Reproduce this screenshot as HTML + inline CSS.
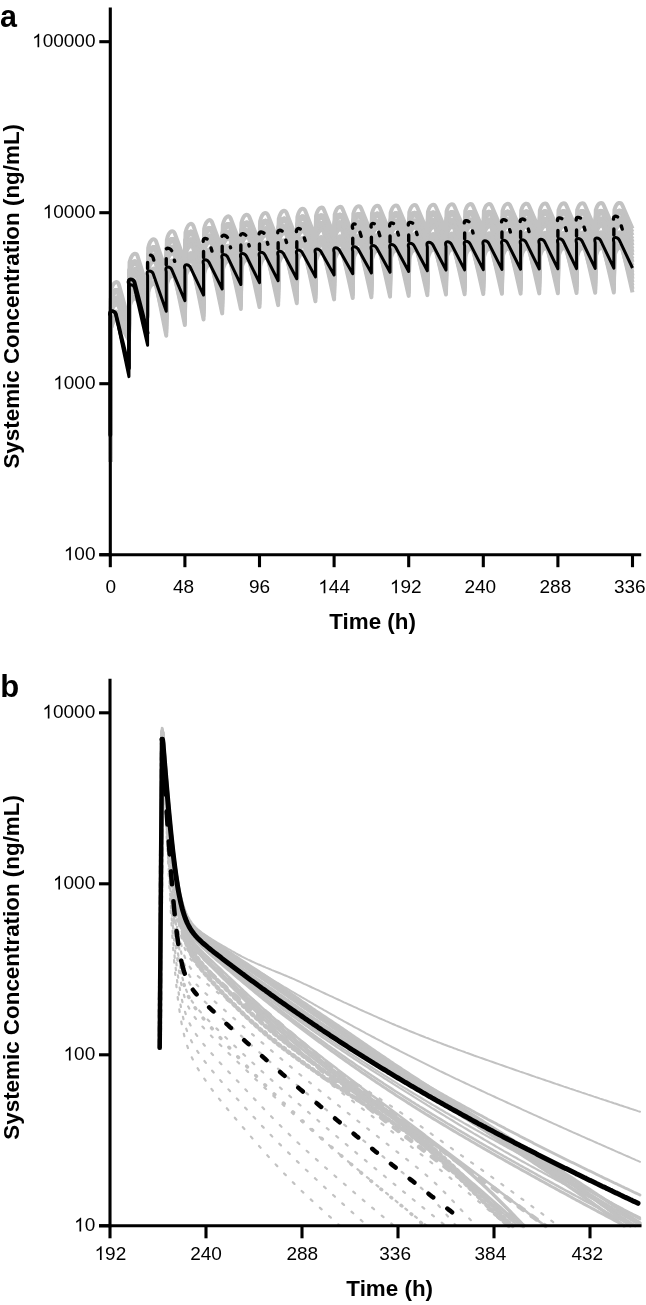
<!DOCTYPE html>
<html><head><meta charset="utf-8"><style>
html,body{margin:0;padding:0;background:#fff;width:646px;height:1305px;overflow:hidden;position:relative}
</style></head><body>
<svg width="646" height="1305" viewBox="0 0 646 1305" style="position:absolute;left:0;top:0;will-change:transform">
<rect width="646" height="1305" fill="#fff"/>
<path d="M110.30,461.66 L110.90,328.61 C113.40,317.61 117.34,319.49 118.80,322.11 L128.95,340.34 L129.55,305.03 C132.05,294.03 136.00,295.91 137.45,298.53 L147.60,316.86 L148.20,290.70 C150.70,279.70 155.52,281.25 156.10,284.20 L166.25,335.72 L166.85,282.60 C169.35,271.60 174.14,273.16 174.75,276.10 L184.90,325.04 L185.50,275.22 C188.00,264.22 192.81,265.78 193.40,268.72 L203.55,319.43 L204.15,271.50 C206.65,260.50 211.43,262.06 212.05,265.00 L222.20,313.38 L222.80,267.73 C225.30,256.73 230.08,258.30 230.70,261.23 L240.85,308.95 L241.45,266.22 C243.95,255.22 248.72,256.79 249.35,259.72 L259.50,307.04 L260.10,264.40 C262.60,253.40 267.37,254.97 268.00,257.90 L278.15,305.12 L278.75,262.25 C281.25,251.25 286.02,252.82 286.65,255.75 L296.80,303.20 L297.40,260.11 C299.90,249.11 304.68,250.68 305.30,253.61 L315.45,301.28 L316.05,259.12 C318.55,248.12 323.31,249.69 323.95,252.62 L334.10,299.36 L334.70,258.36 C337.20,247.36 341.96,248.93 342.60,251.86 L352.75,298.04 L353.35,257.66 C355.85,246.66 360.61,248.23 361.25,251.16 L371.40,297.32 L372.00,257.29 C374.50,246.29 379.25,247.86 379.90,250.79 L390.05,296.60 L390.65,256.93 C393.15,245.93 397.90,247.50 398.55,250.43 L408.70,295.88 L409.30,256.56 C411.80,245.56 416.54,247.13 417.20,250.06 L427.35,295.16 L427.95,256.20 C430.45,245.20 435.19,246.77 435.85,249.70 L446.00,294.44 L446.60,255.83 C449.10,244.83 453.84,246.40 454.50,249.33 L464.65,294.24 L465.25,255.63 C467.75,244.63 472.49,246.20 473.15,249.13 L483.30,294.03 L483.90,255.48 C486.40,244.48 491.14,246.05 491.80,248.98 L501.95,293.82 L502.55,255.33 C505.05,244.33 509.79,245.91 510.45,248.83 L520.60,293.62 L521.20,255.19 C523.70,244.19 528.44,245.76 529.10,248.69 L539.25,293.41 L539.85,255.04 C542.35,244.04 547.09,245.61 547.75,248.54 L557.90,293.21 L558.50,254.89 C561.00,243.89 565.73,245.47 566.40,248.39 L576.55,293.00 L577.15,254.74 C579.65,243.74 584.38,245.32 585.05,248.24 L595.20,292.79 L595.80,254.60 C598.30,243.60 603.03,245.17 603.70,248.10 L613.85,292.59 L614.45,254.45 C616.95,243.45 621.68,245.02 622.35,247.95 L632.50,292.38" fill="none" stroke="#c2c2c2" stroke-width="4" stroke-linejoin="round"/>
<path d="M110.30,461.66 L110.90,325.81 C113.40,314.81 117.46,316.63 118.80,319.31 L128.95,339.58 L129.55,297.33 C132.05,286.33 136.32,288.05 137.45,290.83 L147.60,315.69 L148.20,282.99 C150.70,271.99 155.56,273.54 156.10,276.49 L166.25,332.36 L166.85,274.90 C169.35,263.90 174.19,265.45 174.75,268.40 L184.90,321.68 L185.50,267.51 C188.00,256.51 192.86,258.06 193.40,261.01 L203.55,316.07 L204.15,263.80 C206.65,252.80 211.48,254.35 212.05,257.30 L222.20,310.02 L222.80,260.03 C225.30,249.03 230.13,250.58 230.70,253.53 L240.85,305.60 L241.45,258.52 C243.95,247.52 248.77,249.08 249.35,252.02 L259.50,303.68 L260.10,256.69 C262.60,245.69 267.42,247.25 268.00,250.19 L278.15,301.76 L278.75,254.55 C281.25,243.55 286.07,245.11 286.65,248.05 L296.80,299.84 L297.40,252.41 C299.90,241.41 304.73,242.96 305.30,245.91 L315.45,297.92 L316.05,251.42 C318.55,240.42 323.37,241.97 323.95,244.92 L334.10,296.01 L334.70,250.65 C337.20,239.65 342.01,241.21 342.60,244.15 L352.75,294.69 L353.35,249.96 C355.85,238.96 360.66,240.51 361.25,243.46 L371.40,293.97 L372.00,249.59 C374.50,238.59 379.30,240.15 379.90,243.09 L390.05,293.25 L390.65,249.22 C393.15,238.22 397.95,239.78 398.55,242.72 L408.70,292.52 L409.30,248.86 C411.80,237.86 416.60,239.42 417.20,242.36 L427.35,291.80 L427.95,248.49 C430.45,237.49 435.24,239.05 435.85,241.99 L446.00,291.08 L446.60,248.13 C449.10,237.13 453.89,238.69 454.50,241.63 L464.65,290.88 L465.25,247.92 C467.75,236.92 472.54,238.49 473.15,241.42 L483.30,290.67 L483.90,247.78 C486.40,236.78 491.19,238.34 491.80,241.28 L501.95,290.47 L502.55,247.63 C505.05,236.63 509.84,238.19 510.45,241.13 L520.60,290.26 L521.20,247.48 C523.70,236.48 528.49,238.04 529.10,240.98 L539.25,290.05 L539.85,247.33 C542.35,236.33 547.14,237.90 547.75,240.83 L557.90,289.85 L558.50,247.19 C561.00,236.19 565.79,237.75 566.40,240.69 L576.55,289.64 L577.15,247.04 C579.65,236.04 584.44,237.60 585.05,240.54 L595.20,289.44 L595.80,246.89 C598.30,235.89 603.09,237.45 603.70,240.39 L613.85,289.23 L614.45,246.74 C616.95,235.74 621.74,237.31 622.35,240.24 L632.50,289.02" fill="none" stroke="#c2c2c2" stroke-width="4" stroke-linejoin="round"/>
<path d="M110.30,461.66 L110.90,328.61 C113.40,317.61 117.24,319.55 118.80,322.11 L128.95,338.80 L129.55,307.04 C132.05,296.04 135.68,298.12 137.45,300.54 L147.60,314.48 L148.20,292.24 C150.70,281.70 155.41,283.29 156.10,286.20 L166.25,329.01 L166.85,284.61 C169.35,273.61 174.02,275.20 174.75,278.11 L184.90,318.32 L185.50,277.23 C188.00,266.23 192.70,267.81 193.40,270.73 L203.55,312.71 L204.15,273.51 C206.65,262.51 211.31,264.10 212.05,267.01 L222.20,306.67 L222.80,269.74 C225.30,258.74 229.94,260.34 230.70,263.24 L240.85,302.24 L241.45,268.23 C243.95,257.23 248.59,258.83 249.35,261.73 L259.50,300.32 L260.10,266.41 C262.60,255.41 267.24,257.01 268.00,259.91 L278.15,298.40 L278.75,264.26 C281.25,253.26 285.89,254.86 286.65,257.76 L296.80,296.48 L297.40,262.12 C299.90,251.12 304.54,252.72 305.30,255.62 L315.45,294.56 L316.05,261.13 C318.55,250.13 323.18,251.73 323.95,254.63 L334.10,292.65 L334.70,260.36 C337.20,249.36 341.82,250.97 342.60,253.86 L352.75,291.33 L353.35,259.67 C355.85,248.67 360.47,250.27 361.25,253.17 L371.40,290.61 L372.00,259.30 C374.50,248.30 379.11,249.91 379.90,252.80 L390.05,289.89 L390.65,258.94 C393.15,247.94 397.75,249.54 398.55,252.44 L408.70,289.17 L409.30,258.57 C411.80,247.57 416.39,249.18 417.20,252.07 L427.35,288.45 L427.95,258.21 C430.45,247.21 435.04,248.82 435.85,251.71 L446.00,287.73 L446.60,257.84 C449.10,246.84 453.69,248.45 454.50,251.34 L464.65,287.52 L465.25,257.64 C467.75,246.64 472.34,248.25 473.15,251.14 L483.30,287.31 L483.90,257.49 C486.40,246.49 490.99,248.10 491.80,250.99 L501.95,287.11 L502.55,257.34 C505.05,246.34 509.64,247.95 510.45,250.84 L520.60,286.90 L521.20,257.19 C523.70,246.19 528.29,247.81 529.10,250.69 L539.25,286.70 L539.85,257.05 C542.35,246.05 546.93,247.66 547.75,250.55 L557.90,286.49 L558.50,256.90 C561.00,245.90 565.58,247.51 566.40,250.40 L576.55,286.28 L577.15,256.75 C579.65,245.75 584.23,247.37 585.05,250.25 L595.20,286.08 L595.80,256.60 C598.30,245.60 602.88,247.22 603.70,250.10 L613.85,285.87 L614.45,256.46 C616.95,245.46 621.53,247.07 622.35,249.96 L632.50,285.67" fill="none" stroke="#c2c2c2" stroke-width="4" stroke-linejoin="round"/>
<path d="M110.30,461.66 L110.90,325.81 C113.40,314.81 117.37,316.68 118.80,319.31 L128.95,337.99 L129.55,297.33 C132.05,286.33 136.21,288.10 137.45,290.83 L147.60,313.24 L148.20,282.99 C150.70,271.99 155.49,273.55 156.10,276.49 L166.25,325.65 L166.85,274.90 C169.35,263.90 174.11,265.46 174.75,268.40 L184.90,314.96 L185.50,267.51 C188.00,256.51 192.78,258.08 193.40,261.01 L203.55,309.36 L204.15,263.80 C206.65,252.80 211.40,254.37 212.05,257.30 L222.20,303.31 L222.80,260.03 C225.30,249.03 230.04,250.60 230.70,253.53 L240.85,298.88 L241.45,258.52 C243.95,247.52 248.69,249.09 249.35,252.02 L259.50,296.96 L260.10,256.69 C262.60,245.69 267.34,247.27 268.00,250.19 L278.15,295.04 L278.75,254.55 C281.25,243.55 285.99,245.12 286.65,248.05 L296.80,293.12 L297.40,252.41 C299.90,241.41 304.64,242.98 305.30,245.91 L315.45,291.21 L316.05,251.41 C318.55,240.41 323.28,241.99 323.95,244.91 L334.10,289.29 L334.70,250.65 C337.20,239.65 341.92,241.23 342.60,244.15 L352.75,287.97 L353.35,249.95 C355.85,238.95 360.57,240.53 361.25,243.45 L371.40,287.25 L372.00,249.59 C374.50,238.59 379.22,240.17 379.90,243.09 L390.05,286.53 L390.65,249.22 C393.15,238.22 397.86,239.80 398.55,242.72 L408.70,285.81 L409.30,248.86 C411.80,237.86 416.51,239.44 417.20,242.36 L427.35,285.09 L427.95,248.49 C430.45,237.49 435.15,239.07 435.85,241.99 L446.00,284.37 L446.60,248.13 C449.10,237.13 453.80,238.71 454.50,241.63 L464.65,284.16 L465.25,247.92 C467.75,236.92 472.45,238.51 473.15,241.42 L483.30,283.96 L483.90,247.78 C486.40,236.78 491.10,238.36 491.80,241.28 L501.95,283.75 L502.55,247.63 C505.05,236.63 509.75,238.21 510.45,241.13 L520.60,283.54 L521.20,247.48 C523.70,236.48 528.40,238.06 529.10,240.98 L539.25,283.34 L539.85,247.33 C542.35,236.33 547.05,237.92 547.75,240.83 L557.90,283.13 L558.50,247.19 C561.00,236.19 565.70,237.77 566.40,240.69 L576.55,282.93 L577.15,247.04 C579.65,236.04 584.35,237.62 585.05,240.54 L595.20,282.72 L595.80,246.89 C598.30,235.89 603.00,237.47 603.70,240.39 L613.85,282.51 L614.45,246.74 C616.95,235.74 621.65,237.33 622.35,240.24 L632.50,282.31" fill="none" stroke="#c2c2c2" stroke-width="4" stroke-linejoin="round"/>
<path d="M110.30,461.66 L110.90,313.21 C113.40,302.21 117.85,303.86 118.80,306.71 L128.95,337.16 L129.55,284.72 C132.05,273.72 136.59,275.35 137.45,278.22 L147.60,311.96 L148.20,270.38 C150.70,259.38 155.59,260.93 156.10,263.88 L166.25,322.29 L166.85,262.29 C169.35,251.29 174.21,252.84 174.75,255.79 L184.90,311.61 L185.50,254.90 C188.00,243.90 192.88,245.45 193.40,248.40 L203.55,306.00 L204.15,251.19 C206.65,240.19 211.51,241.74 212.05,244.69 L222.20,299.95 L222.80,247.42 C225.30,236.42 230.15,237.97 230.70,240.92 L240.85,295.52 L241.45,245.91 C243.95,234.91 248.80,236.46 249.35,239.41 L259.50,293.60 L260.10,244.09 C262.60,233.09 267.45,234.64 268.00,237.59 L278.15,291.68 L278.75,241.94 C281.25,230.94 286.10,232.49 286.65,235.44 L296.80,289.77 L297.40,239.80 C299.90,228.80 304.75,230.35 305.30,233.30 L315.45,287.85 L316.05,238.81 C318.55,227.81 323.39,229.36 323.95,232.31 L334.10,285.93 L334.70,238.04 C337.20,227.04 342.04,228.60 342.60,231.54 L352.75,284.61 L353.35,237.35 C355.85,226.35 360.69,227.90 361.25,230.85 L371.40,283.89 L372.00,236.98 C374.50,225.98 379.33,227.53 379.90,230.48 L390.05,283.17 L390.65,236.61 C393.15,225.61 397.98,227.17 398.55,230.11 L408.70,282.45 L409.30,236.25 C411.80,225.25 416.63,226.80 417.20,229.75 L427.35,281.73 L427.95,235.88 C430.45,224.88 435.27,226.44 435.85,229.38 L446.00,281.01 L446.60,235.52 C449.10,224.52 453.92,226.07 454.50,229.02 L464.65,280.80 L465.25,235.32 C467.75,224.32 472.57,225.87 473.15,228.82 L483.30,280.60 L483.90,235.17 C486.40,224.17 491.22,225.72 491.80,228.67 L501.95,280.39 L502.55,235.02 C505.05,224.02 509.87,225.58 510.45,228.52 L520.60,280.19 L521.20,234.87 C523.70,223.87 528.52,225.43 529.10,228.37 L539.25,279.98 L539.85,234.73 C542.35,223.73 547.17,225.28 547.75,228.23 L557.90,279.77 L558.50,234.58 C561.00,223.58 565.82,225.13 566.40,228.08 L576.55,279.57 L577.15,234.43 C579.65,223.43 584.47,224.99 585.05,227.93 L595.20,279.36 L595.80,234.28 C598.30,223.28 603.12,224.84 603.70,227.78 L613.85,279.16 L614.45,234.14 C616.95,223.14 621.77,224.69 622.35,227.64 L632.50,278.95" fill="none" stroke="#c2c2c2" stroke-width="4" stroke-linejoin="round"/>
<path d="M110.30,461.66 L110.90,310.78 C113.40,299.78 117.89,301.42 118.80,304.28 L128.95,336.29 L129.55,282.30 C132.05,271.30 136.61,272.92 137.45,275.80 L147.60,310.65 L148.20,267.96 C150.70,256.96 155.58,258.51 156.10,261.46 L166.25,318.93 L166.85,259.87 C169.35,248.87 174.20,250.42 174.75,253.37 L184.90,308.25 L185.50,252.48 C188.00,241.48 192.87,243.03 193.40,245.98 L203.55,302.64 L204.15,248.77 C206.65,237.77 211.50,239.32 212.05,242.27 L222.20,296.59 L222.80,245.00 C225.30,234.00 230.14,235.55 230.70,238.50 L240.85,292.16 L241.45,243.49 C243.95,232.49 248.79,234.04 249.35,236.99 L259.50,290.24 L260.10,241.66 C262.60,230.66 267.44,232.22 268.00,235.16 L278.15,288.33 L278.75,239.52 C281.25,228.52 286.09,230.07 286.65,233.02 L296.80,286.41 L297.40,237.38 C299.90,226.38 304.74,227.93 305.30,230.88 L315.45,284.49 L316.05,236.39 C318.55,225.39 323.38,226.94 323.95,229.89 L334.10,282.57 L334.70,235.62 C337.20,224.62 342.03,226.18 342.60,229.12 L352.75,281.25 L353.35,234.93 C355.85,223.93 360.68,225.48 361.25,228.43 L371.40,280.53 L372.00,234.56 C374.50,223.56 379.32,225.12 379.90,228.06 L390.05,279.81 L390.65,234.19 C393.15,223.19 397.97,224.75 398.55,227.69 L408.70,279.09 L409.30,233.83 C411.80,222.83 416.61,224.39 417.20,227.33 L427.35,278.37 L427.95,233.46 C430.45,222.46 435.26,224.02 435.85,226.96 L446.00,277.65 L446.60,233.10 C449.10,222.10 453.91,223.66 454.50,226.60 L464.65,277.45 L465.25,232.90 C467.75,221.90 472.56,223.45 473.15,226.40 L483.30,277.24 L483.90,232.75 C486.40,221.75 491.21,223.31 491.80,226.25 L501.95,277.03 L502.55,232.60 C505.05,221.60 509.86,223.16 510.45,226.10 L520.60,276.83 L521.20,232.45 C523.70,221.45 528.51,223.01 529.10,225.95 L539.25,276.62 L539.85,232.30 C542.35,221.30 547.16,222.86 547.75,225.80 L557.90,276.42 L558.50,232.16 C561.00,221.16 565.81,222.72 566.40,225.66 L576.55,276.21 L577.15,232.01 C579.65,221.01 584.46,222.57 585.05,225.51 L595.20,276.00 L595.80,231.86 C598.30,220.86 603.11,222.42 603.70,225.36 L613.85,275.80 L614.45,231.71 C616.95,220.71 621.76,222.27 622.35,225.21 L632.50,275.59" fill="none" stroke="#c2c2c2" stroke-width="4" stroke-linejoin="round"/>
<path d="M110.30,461.66 L110.90,328.41 C113.40,317.41 117.00,319.51 118.80,321.91 L128.95,335.39 L129.55,299.92 C132.05,288.92 135.83,290.89 137.45,293.42 L147.60,309.30 L148.20,285.58 C150.70,274.58 155.30,276.19 156.10,279.08 L166.25,315.57 L166.85,277.49 C169.35,266.49 173.89,268.12 174.75,270.99 L184.90,304.89 L185.50,270.11 C188.00,259.11 192.58,260.72 193.40,263.61 L203.55,299.28 L204.15,266.39 C206.65,255.39 211.18,257.02 212.05,259.89 L222.20,293.23 L222.80,262.62 C225.30,251.62 229.81,253.26 230.70,256.12 L240.85,288.80 L241.45,261.11 C243.95,250.11 248.45,251.75 249.35,254.61 L259.50,286.89 L260.10,259.29 C262.60,248.29 267.10,249.93 268.00,252.79 L278.15,284.97 L278.75,257.14 C281.25,246.14 285.75,247.78 286.65,250.64 L296.80,283.05 L297.40,255.00 C299.90,244.00 304.41,245.64 305.30,248.50 L315.45,281.13 L316.05,254.01 C318.55,243.01 323.04,244.65 323.95,247.51 L334.10,279.21 L334.70,253.24 C337.20,242.24 341.67,243.89 342.60,246.74 L352.75,277.90 L353.35,252.55 C355.85,241.55 360.32,243.20 361.25,246.05 L371.40,277.18 L372.00,252.18 C374.50,241.18 378.96,242.83 379.90,245.68 L390.05,276.46 L390.65,251.82 C393.15,240.82 397.60,242.47 398.55,245.32 L408.70,275.73 L409.30,251.45 C411.80,240.45 416.24,242.11 417.20,244.95 L427.35,275.01 L427.95,251.09 C430.45,240.09 434.88,241.75 435.85,244.59 L446.00,274.29 L446.60,250.72 C449.10,239.72 453.53,241.38 454.50,244.22 L464.65,274.09 L465.25,250.52 C467.75,239.52 472.18,241.18 473.15,244.02 L483.30,273.88 L483.90,250.37 C486.40,239.37 490.83,241.03 491.80,243.87 L501.95,273.68 L502.55,250.22 C505.05,239.22 509.48,240.88 510.45,243.72 L520.60,273.47 L521.20,250.07 C523.70,239.07 528.13,240.74 529.10,243.57 L539.25,273.26 L539.85,249.93 C542.35,238.93 546.78,240.59 547.75,243.43 L557.90,273.06 L558.50,249.76 C561.00,238.78 565.43,240.44 566.40,243.28 L576.55,272.85 L577.15,249.60 C579.65,238.63 584.07,240.29 585.05,243.13 L595.20,272.65 L595.80,249.43 C598.30,238.48 602.72,240.15 603.70,242.98 L613.85,272.44 L614.45,249.27 C616.95,238.34 621.37,240.00 622.35,242.84 L632.50,272.23" fill="none" stroke="#c2c2c2" stroke-width="4" stroke-linejoin="round"/>
<path d="M110.30,461.66 L110.90,323.25 C113.40,312.25 117.31,314.15 118.80,316.75 L128.95,334.47 L129.55,294.77 C132.05,283.77 136.07,285.60 137.45,288.27 L147.60,307.91 L148.20,280.43 C150.70,269.43 155.33,271.03 156.10,273.93 L166.25,312.21 L166.85,272.34 C169.35,261.34 173.93,262.95 174.75,265.84 L184.90,301.53 L185.50,264.95 C188.00,253.95 192.62,255.56 193.40,258.45 L203.55,295.92 L204.15,261.24 C206.65,250.24 211.22,251.85 212.05,254.74 L222.20,289.88 L222.80,257.47 C225.30,246.47 229.85,248.09 230.70,250.97 L240.85,285.45 L241.45,255.96 C243.95,244.96 248.49,246.58 249.35,249.46 L259.50,283.53 L260.10,254.13 C262.60,243.13 267.14,244.76 268.00,247.63 L278.15,281.61 L278.75,251.99 C281.25,240.99 285.80,242.61 286.65,245.49 L296.80,279.69 L297.40,249.85 C299.90,238.85 304.45,240.47 305.30,243.35 L315.45,277.77 L316.05,248.85 C318.55,237.85 323.08,239.48 323.95,242.35 L334.10,275.86 L334.70,248.09 C337.20,237.09 341.72,238.72 342.60,241.59 L352.75,274.54 L353.35,247.39 C355.85,236.39 360.37,238.03 361.25,240.89 L371.40,273.82 L372.00,247.03 C374.50,236.03 379.01,237.66 379.90,240.53 L390.05,273.10 L390.65,246.66 C393.15,235.66 397.65,237.30 398.55,240.16 L408.70,272.38 L409.30,246.30 C411.80,235.30 416.29,236.94 417.20,239.80 L427.35,271.66 L427.95,245.93 C430.45,234.93 434.93,236.58 435.85,239.43 L446.00,270.94 L446.60,245.57 C449.10,234.57 453.58,236.21 454.50,239.07 L464.65,270.73 L465.25,245.36 C467.75,234.36 472.23,236.01 473.15,238.86 L483.30,270.52 L483.90,245.22 C486.40,234.22 490.88,235.86 491.80,238.72 L501.95,270.32 L502.55,245.07 C505.05,234.07 509.53,235.71 510.45,238.57 L520.60,270.11 L521.20,244.92 C523.70,233.92 528.18,235.56 529.10,238.42 L539.25,269.91 L539.85,244.77 C542.35,233.77 546.83,235.42 547.75,238.27 L557.90,269.70 L558.50,244.63 C561.00,233.63 565.48,235.27 566.40,238.13 L576.55,269.49 L577.15,244.48 C579.65,233.48 584.12,235.12 585.05,237.98 L595.20,269.29 L595.80,244.33 C598.30,233.33 602.77,234.98 603.70,237.83 L613.85,269.08 L614.45,244.18 C616.95,233.18 621.42,234.83 622.35,237.68 L632.50,268.88" fill="none" stroke="#c2c2c2" stroke-width="4" stroke-linejoin="round"/>
<path d="M110.30,461.66 L110.90,324.85 C113.40,313.85 117.13,315.85 118.80,318.35 L128.95,333.51 L129.55,296.36 C132.05,285.36 135.89,287.30 137.45,289.86 L147.60,306.48 L148.20,282.02 C150.70,271.02 155.23,272.65 156.10,275.52 L166.25,308.86 L166.85,273.93 C169.35,262.93 173.81,264.58 174.75,267.43 L184.90,298.17 L185.50,266.54 C188.00,255.54 192.51,257.18 193.40,260.04 L203.55,292.57 L204.15,262.83 C206.65,251.83 211.09,253.49 212.05,256.33 L222.20,286.52 L222.80,259.06 C225.30,248.06 229.72,249.72 230.70,252.56 L240.85,282.09 L241.45,257.55 C243.95,246.55 248.36,248.22 249.35,251.05 L259.50,280.17 L260.10,255.73 C262.60,244.73 267.01,246.39 268.00,249.23 L278.15,278.25 L278.75,253.58 C281.25,242.58 285.67,244.25 286.65,247.08 L296.80,276.33 L297.40,251.44 C299.90,240.44 304.32,242.10 305.30,244.94 L315.45,274.42 L316.05,250.45 C318.55,239.45 322.95,241.12 323.95,243.95 L334.10,272.50 L334.70,249.53 C337.20,238.68 341.58,240.36 342.60,243.18 L352.75,271.18 L353.35,248.64 C355.85,237.99 360.23,239.67 361.25,242.49 L371.40,270.46 L372.00,248.17 C374.50,237.62 378.87,239.31 379.90,242.12 L390.05,269.74 L390.65,247.70 C393.15,237.26 397.50,238.94 398.55,241.76 L408.70,269.02 L409.30,247.23 C411.80,236.89 416.14,238.58 417.20,241.39 L427.35,268.30 L427.95,246.76 C430.45,236.52 434.78,238.22 435.85,241.02 L446.00,267.58 L446.60,246.28 C449.10,236.16 453.43,237.85 454.50,240.66 L464.65,267.37 L465.25,246.08 C467.75,235.96 472.08,237.65 473.15,240.46 L483.30,267.17 L483.90,245.92 C486.40,235.81 490.73,237.51 491.80,240.31 L501.95,266.96 L502.55,245.75 C505.05,235.66 509.38,237.36 510.45,240.16 L520.60,266.75 L521.20,245.59 C523.70,235.51 528.03,237.21 529.10,240.01 L539.25,266.55 L539.85,245.42 C542.35,235.37 546.68,237.06 547.75,239.87 L557.90,266.34 L558.50,245.26 C561.00,235.22 565.32,236.92 566.40,239.72 L576.55,266.14 L577.15,245.09 C579.65,235.07 583.97,236.77 585.05,239.57 L595.20,265.93 L595.80,244.92 C598.30,234.92 602.62,236.62 603.70,239.42 L613.85,265.72 L614.45,244.76 C616.95,234.78 621.27,236.48 622.35,239.28 L632.50,265.52" fill="none" stroke="#c2c2c2" stroke-width="4" stroke-linejoin="round"/>
<path d="M110.30,461.66 L110.90,312.22 C113.40,301.22 117.74,302.91 118.80,305.72 L128.95,332.53 L129.55,283.73 C132.05,272.73 136.42,274.41 137.45,277.23 L147.60,305.02 L148.20,269.39 C150.70,258.39 155.40,259.98 156.10,262.89 L166.25,305.50 L166.85,261.30 C169.35,250.30 174.01,251.89 174.75,254.80 L184.90,294.82 L185.50,253.92 C188.00,242.92 192.69,244.50 193.40,247.42 L203.55,289.21 L204.15,250.20 C206.65,239.20 211.30,240.79 212.05,243.70 L222.20,283.16 L222.80,246.43 C225.30,235.43 229.94,237.03 230.70,239.93 L240.85,278.73 L241.45,244.92 C243.95,233.92 248.58,235.52 249.35,238.42 L259.50,276.81 L260.10,243.10 C262.60,232.10 267.23,233.70 268.00,236.60 L278.15,274.89 L278.75,240.95 C281.25,229.95 285.89,231.55 286.65,234.45 L296.80,272.98 L297.40,238.81 C299.90,227.81 304.54,229.41 305.30,232.31 L315.45,271.06 L316.05,237.82 C318.55,226.82 323.17,228.42 323.95,231.32 L334.10,269.14 L334.70,237.05 C337.20,226.05 341.81,227.66 342.60,230.55 L352.75,267.82 L353.35,236.36 C355.85,225.36 360.46,226.96 361.25,229.86 L371.40,267.10 L372.00,235.99 C374.50,224.99 379.10,226.60 379.90,229.49 L390.05,266.38 L390.65,235.63 C393.15,224.63 397.75,226.24 398.55,229.13 L408.70,265.66 L409.30,235.26 C411.80,224.26 416.39,225.87 417.20,228.76 L427.35,264.94 L427.95,234.89 C430.45,223.89 435.03,225.51 435.85,228.39 L446.00,264.22 L446.60,234.53 C449.10,223.53 453.69,225.14 454.50,228.03 L464.65,264.01 L465.25,234.33 C467.75,223.33 472.34,224.94 473.15,227.83 L483.30,263.81 L483.90,234.18 C486.40,223.18 490.98,224.79 491.80,227.68 L501.95,263.60 L502.55,234.03 C505.05,223.03 509.63,224.65 510.45,227.53 L520.60,263.40 L521.20,233.88 C523.70,222.88 528.28,224.50 529.10,227.38 L539.25,263.19 L539.85,233.74 C542.35,222.74 546.93,224.35 547.75,227.24 L557.90,262.98 L558.50,233.59 C561.00,222.59 565.58,224.20 566.40,227.09 L576.55,262.78 L577.15,233.44 C579.65,222.44 584.23,224.06 585.05,226.94 L595.20,262.57 L595.80,233.29 C598.30,222.29 602.88,223.91 603.70,226.79 L613.85,262.37 L614.45,233.15 C616.95,222.15 621.53,223.76 622.35,226.65 L632.50,262.16" fill="none" stroke="#c2c2c2" stroke-width="4" stroke-linejoin="round"/>
<path d="M110.30,461.66 L110.90,320.05 C113.40,309.05 117.32,310.93 118.80,313.55 L128.95,331.51 L129.55,291.56 C132.05,280.56 136.00,282.43 137.45,285.06 L147.60,303.52 L148.20,277.22 C150.70,266.22 155.18,267.87 156.10,270.72 L166.25,302.14 L166.85,269.13 C169.35,258.13 173.75,259.80 174.75,262.63 L184.90,291.46 L185.50,261.74 C188.00,250.74 192.46,252.40 193.40,255.24 L203.55,285.85 L204.15,258.03 C206.65,247.03 211.04,248.71 212.05,251.53 L222.20,279.80 L222.80,254.26 C225.30,243.26 229.66,244.94 230.70,247.76 L240.85,275.37 L241.45,252.54 C243.95,241.75 248.30,243.44 249.35,246.25 L259.50,273.45 L260.10,250.68 C262.60,239.93 266.95,241.62 268.00,244.43 L278.15,271.54 L278.75,248.61 C281.25,237.78 285.61,239.47 286.65,242.28 L296.80,269.62 L297.40,246.53 C299.90,235.64 304.26,237.32 305.30,240.14 L315.45,267.70 L316.05,245.26 C318.55,234.65 322.88,236.34 323.95,239.15 L334.10,265.78 L334.70,244.15 C337.20,233.88 341.51,235.59 342.60,238.38 L352.75,264.46 L353.35,243.27 C355.85,233.19 360.16,234.89 361.25,237.69 L371.40,263.74 L372.00,242.80 C374.50,232.82 378.80,234.53 379.90,237.32 L390.05,263.02 L390.65,242.33 C393.15,232.46 397.43,234.17 398.55,236.96 L408.70,262.30 L409.30,241.85 C411.80,232.09 416.07,233.81 417.20,236.59 L427.35,261.58 L427.95,241.38 C430.45,231.72 434.71,233.45 435.85,236.22 L446.00,260.86 L446.60,240.91 C449.10,231.36 453.36,233.08 454.50,235.86 L464.65,260.66 L465.25,240.71 C467.75,231.16 472.01,232.88 473.15,235.66 L483.30,260.45 L483.90,240.54 C486.40,231.01 490.66,232.73 491.80,235.51 L501.95,260.24 L502.55,240.38 C505.05,230.86 509.31,232.59 510.45,235.36 L520.60,260.04 L521.20,240.21 C523.70,230.71 527.96,232.44 529.10,235.21 L539.25,259.83 L539.85,240.05 C542.35,230.57 546.60,232.29 547.75,235.07 L557.90,259.63 L558.50,239.88 C561.00,230.42 565.25,232.15 566.40,234.92 L576.55,259.42 L577.15,239.72 C579.65,230.27 583.90,232.00 585.05,234.77 L595.20,259.21 L595.80,239.55 C598.30,230.12 602.55,231.85 603.70,234.62 L613.85,259.01 L614.45,239.38 C616.95,229.98 621.19,231.71 622.35,234.48 L632.50,258.80" fill="none" stroke="#c2c2c2" stroke-width="4" stroke-linejoin="round"/>
<path d="M110.30,461.66 L110.90,307.30 C113.40,296.30 117.83,297.97 118.80,300.80 L128.95,330.46 L129.55,278.82 C132.05,267.82 136.48,269.48 137.45,272.32 L147.60,301.98 L148.20,264.48 C150.70,253.48 155.38,255.07 156.10,257.98 L166.25,298.78 L166.85,256.39 C169.35,245.39 173.98,246.99 174.75,249.89 L184.90,288.10 L185.50,249.00 C188.00,238.00 192.66,239.60 193.40,242.50 L203.55,282.49 L204.15,245.29 C206.65,234.29 211.27,235.89 212.05,238.79 L222.20,276.44 L222.80,241.52 C225.30,230.52 229.91,232.13 230.70,235.02 L240.85,272.01 L241.45,240.01 C243.95,229.01 248.55,230.62 249.35,233.51 L259.50,270.10 L260.10,238.18 C262.60,227.18 267.20,228.79 268.00,231.68 L278.15,268.18 L278.75,236.04 C281.25,225.04 285.85,226.65 286.65,229.54 L296.80,266.26 L297.40,233.90 C299.90,222.90 304.51,224.51 305.30,227.40 L315.45,264.34 L316.05,232.90 C318.55,221.90 323.14,223.52 323.95,226.40 L334.10,262.42 L334.70,232.14 C337.20,221.14 341.77,222.76 342.60,225.64 L352.75,261.11 L353.35,231.45 C355.85,220.45 360.42,222.06 361.25,224.95 L371.40,260.39 L372.00,231.08 C374.50,220.08 379.07,221.70 379.90,224.58 L390.05,259.66 L390.65,230.71 C393.15,219.71 397.71,221.33 398.55,224.21 L408.70,258.94 L409.30,230.35 C411.80,219.35 416.35,220.97 417.20,223.85 L427.35,258.22 L427.95,229.98 C430.45,218.98 434.99,220.61 435.85,223.48 L446.00,257.50 L446.60,229.62 C449.10,218.62 453.65,220.24 454.50,223.12 L464.65,257.30 L465.25,229.41 C467.75,218.41 472.30,220.04 473.15,222.91 L483.30,257.09 L483.90,229.27 C486.40,218.27 490.94,219.89 491.80,222.77 L501.95,256.89 L502.55,229.12 C505.05,218.12 509.59,219.74 510.45,222.62 L520.60,256.68 L521.20,228.97 C523.70,217.97 528.24,219.60 529.10,222.47 L539.25,256.47 L539.85,228.82 C542.35,217.82 546.89,219.45 547.75,222.32 L557.90,256.27 L558.50,228.68 C561.00,217.68 565.54,219.30 566.40,222.18 L576.55,256.06 L577.15,228.53 C579.65,217.53 584.19,219.16 585.05,222.03 L595.20,255.86 L595.80,228.38 C598.30,217.38 602.84,219.01 603.70,221.88 L613.85,255.65 L614.45,228.23 C616.95,217.23 621.49,218.86 622.35,221.73 L632.50,255.44" fill="none" stroke="#c2c2c2" stroke-width="4" stroke-linejoin="round"/>
<path d="M110.30,461.66 L110.90,301.09 C113.40,290.09 117.96,291.71 118.80,294.59 L128.95,329.37 L129.55,272.60 C132.05,261.60 136.60,263.23 137.45,266.10 L147.60,300.41 L148.20,258.27 C150.70,247.27 155.42,248.85 156.10,251.77 L166.25,295.42 L166.85,250.17 C169.35,239.17 174.03,240.76 174.75,243.67 L184.90,284.74 L185.50,242.79 C188.00,231.79 192.71,233.37 193.40,236.29 L203.55,279.13 L204.15,239.07 C206.65,228.07 211.32,229.66 212.05,232.57 L222.20,273.09 L222.80,235.30 C225.30,224.30 229.96,225.90 230.70,228.80 L240.85,268.66 L241.45,233.80 C243.95,222.80 248.60,224.39 249.35,227.30 L259.50,266.74 L260.10,231.97 C262.60,220.97 267.25,222.57 268.00,225.47 L278.15,264.82 L278.75,229.83 C281.25,218.83 285.90,220.42 286.65,223.33 L296.80,262.90 L297.40,227.68 C299.90,216.68 304.56,218.28 305.30,221.18 L315.45,260.98 L316.05,226.69 C318.55,215.69 323.19,217.29 323.95,220.19 L334.10,259.07 L334.70,225.93 C337.20,214.93 341.83,216.53 342.60,219.43 L352.75,257.75 L353.35,225.23 C355.85,214.23 360.48,215.83 361.25,218.73 L371.40,257.03 L372.00,224.86 C374.50,213.86 379.12,215.47 379.90,218.36 L390.05,256.31 L390.65,224.50 C393.15,213.50 397.77,215.10 398.55,218.00 L408.70,255.59 L409.30,224.13 C411.80,213.13 416.41,214.74 417.20,217.63 L427.35,254.87 L427.95,223.77 C430.45,212.77 435.05,214.38 435.85,217.27 L446.00,254.15 L446.60,223.40 C449.10,212.40 453.71,214.01 454.50,216.90 L464.65,253.94 L465.25,223.20 C467.75,212.20 472.36,213.81 473.15,216.70 L483.30,253.73 L483.90,223.05 C486.40,212.05 491.01,213.66 491.80,216.55 L501.95,253.53 L502.55,222.91 C505.05,211.91 509.65,213.51 510.45,216.41 L520.60,253.32 L521.20,222.76 C523.70,211.76 528.30,213.37 529.10,216.26 L539.25,253.12 L539.85,222.61 C542.35,211.61 546.95,213.22 547.75,216.11 L557.90,252.91 L558.50,222.46 C561.00,211.46 565.60,213.07 566.40,215.96 L576.55,252.70 L577.15,222.31 C579.65,211.31 584.25,212.92 585.05,215.81 L595.20,252.50 L595.80,222.17 C598.30,211.17 602.90,212.78 603.70,215.67 L613.85,252.29 L614.45,222.02 C616.95,211.02 621.55,212.63 622.35,215.52 L632.50,252.08" fill="none" stroke="#c2c2c2" stroke-width="4" stroke-linejoin="round"/>
<path d="M110.30,461.66 L110.90,306.88 C113.40,295.88 117.77,297.56 118.80,300.38 L128.95,328.25 L129.55,278.40 C132.05,267.40 136.39,269.09 137.45,271.90 L147.60,298.80 L148.20,264.06 C150.70,253.06 155.25,254.68 156.10,257.56 L166.25,292.07 L166.85,255.96 C169.35,244.96 173.84,246.61 174.75,249.46 L184.90,281.38 L185.50,248.58 C188.00,237.58 192.53,239.21 193.40,242.08 L203.55,275.78 L204.15,244.86 C206.65,233.86 211.13,235.51 212.05,238.36 L222.20,269.73 L222.80,241.10 C225.30,230.10 229.76,231.75 230.70,234.60 L240.85,265.30 L241.45,239.59 C243.95,228.59 248.40,230.24 249.35,233.09 L259.50,263.38 L260.10,237.76 C262.60,226.76 267.04,228.42 268.00,231.26 L278.15,261.46 L278.75,235.62 C281.25,224.62 285.70,226.27 286.65,229.12 L296.80,259.54 L297.40,233.48 C299.90,222.48 304.36,224.13 305.30,226.98 L315.45,257.63 L316.05,232.48 C318.55,221.48 322.98,223.14 323.95,225.98 L334.10,255.71 L334.70,231.72 C337.20,220.72 341.61,222.39 342.60,225.22 L352.75,254.39 L353.35,231.02 C355.85,220.02 360.26,221.69 361.25,224.52 L371.40,253.67 L372.00,230.56 C374.50,219.66 378.90,221.33 379.90,224.16 L390.05,252.95 L390.65,230.09 C393.15,219.29 397.54,220.97 398.55,223.79 L408.70,252.23 L409.30,229.62 C411.80,218.93 416.18,220.60 417.20,223.43 L427.35,251.51 L427.95,229.14 C430.45,218.56 434.82,220.24 435.85,223.06 L446.00,250.79 L446.60,228.67 C449.10,218.19 453.47,219.88 454.50,222.69 L464.65,250.58 L465.25,228.47 C467.75,217.99 472.12,219.67 473.15,222.49 L483.30,250.38 L483.90,228.30 C486.40,217.84 490.77,219.53 491.80,222.34 L501.95,250.17 L502.55,228.14 C505.05,217.70 509.42,219.38 510.45,222.20 L520.60,249.96 L521.20,227.97 C523.70,217.55 528.07,219.23 529.10,222.05 L539.25,249.76 L539.85,227.81 C542.35,217.40 546.72,219.09 547.75,221.90 L557.90,249.55 L558.50,227.64 C561.00,217.25 565.36,218.94 566.40,221.75 L576.55,249.35 L577.15,227.48 C579.65,217.11 584.01,218.79 585.05,221.61 L595.20,249.14 L595.80,227.31 C598.30,216.96 602.66,218.64 603.70,221.46 L613.85,248.93 L614.45,227.15 C616.95,216.81 621.31,218.50 622.35,221.31 L632.50,248.73" fill="none" stroke="#c2c2c2" stroke-width="4" stroke-linejoin="round"/>
<path d="M110.30,461.66 L110.90,298.57 C113.40,287.57 117.97,289.19 118.80,292.07 L128.95,327.10 L129.55,270.09 C132.05,259.09 136.58,260.72 137.45,263.59 L147.60,297.15 L148.20,255.75 C150.70,244.75 155.35,246.35 156.10,249.25 L166.25,288.71 L166.85,247.66 C169.35,236.66 173.95,238.26 174.75,241.16 L184.90,278.03 L185.50,240.27 C188.00,229.27 192.64,230.87 193.40,233.77 L203.55,272.42 L204.15,236.56 C206.65,225.56 211.24,227.17 212.05,230.06 L222.20,266.37 L222.80,232.79 C225.30,221.79 229.88,223.40 230.70,226.29 L240.85,261.94 L241.45,231.28 C243.95,220.28 248.52,221.90 249.35,224.78 L259.50,260.02 L260.10,229.45 C262.60,218.45 267.17,220.07 268.00,222.95 L278.15,258.10 L278.75,227.31 C281.25,216.31 285.82,217.93 286.65,220.81 L296.80,256.19 L297.40,225.17 C299.90,214.17 304.48,215.78 305.30,218.67 L315.45,254.27 L316.05,224.17 C318.55,213.17 323.11,214.79 323.95,217.67 L334.10,252.35 L334.70,223.41 C337.20,212.41 341.74,214.03 342.60,216.91 L352.75,251.03 L353.35,222.71 C355.85,211.71 360.39,213.34 361.25,216.21 L371.40,250.31 L372.00,222.35 C374.50,211.35 379.04,212.97 379.90,215.85 L390.05,249.59 L390.65,221.98 C393.15,210.98 397.68,212.61 398.55,215.48 L408.70,248.87 L409.30,221.62 C411.80,210.62 416.32,212.25 417.20,215.12 L427.35,248.15 L427.95,221.25 C430.45,210.25 434.96,211.89 435.85,214.75 L446.00,247.43 L446.60,220.89 C449.10,209.89 453.61,211.52 454.50,214.39 L464.65,247.22 L465.25,220.68 C467.75,209.68 472.26,211.32 473.15,214.18 L483.30,247.02 L483.90,220.54 C486.40,209.54 490.91,211.17 491.80,214.04 L501.95,246.81 L502.55,220.39 C505.05,209.39 509.56,211.02 510.45,213.89 L520.60,246.61 L521.20,220.24 C523.70,209.24 528.21,210.88 529.10,213.74 L539.25,246.40 L539.85,220.09 C542.35,209.09 546.86,210.73 547.75,213.59 L557.90,246.19 L558.50,219.95 C561.00,208.95 565.51,210.58 566.40,213.45 L576.55,245.99 L577.15,219.80 C579.65,208.80 584.16,210.43 585.05,213.30 L595.20,245.78 L595.80,219.65 C598.30,208.65 602.80,210.29 603.70,213.15 L613.85,245.57 L614.45,219.50 C616.95,208.50 621.45,210.14 622.35,213.00 L632.50,245.37" fill="none" stroke="#c2c2c2" stroke-width="4" stroke-linejoin="round"/>
<path d="M110.30,461.66 L110.90,298.57 C113.40,287.57 117.94,289.20 118.80,292.07 L128.95,325.92 L129.55,270.09 C132.05,259.09 136.54,260.73 137.45,263.59 L147.60,295.46 L148.20,255.75 C150.70,244.75 155.29,246.36 156.10,249.25 L166.25,285.35 L166.85,247.66 C169.35,236.66 173.88,238.28 174.75,241.16 L184.90,274.67 L185.50,240.27 C188.00,229.27 192.57,230.89 193.40,233.77 L203.55,269.06 L204.15,236.56 C206.65,225.56 211.17,227.19 212.05,230.06 L222.20,263.01 L222.80,232.79 C225.30,221.79 229.80,223.42 230.70,226.29 L240.85,258.58 L241.45,231.28 C243.95,220.28 248.44,221.92 249.35,224.78 L259.50,256.66 L260.10,229.45 C262.60,218.45 267.09,220.09 268.00,222.95 L278.15,254.75 L278.75,227.31 C281.25,216.31 285.74,217.95 286.65,220.81 L296.80,252.83 L297.40,225.17 C299.90,214.17 304.40,215.80 305.30,218.67 L315.45,250.91 L316.05,224.17 C318.55,213.17 323.03,214.82 323.95,217.67 L334.10,248.99 L334.70,223.41 C337.20,212.41 341.66,214.06 342.60,216.91 L352.75,247.67 L353.35,222.71 C355.85,211.71 360.31,213.36 361.25,216.21 L371.40,246.95 L372.00,222.35 C374.50,211.35 378.95,213.00 379.90,215.85 L390.05,246.23 L390.65,221.98 C393.15,210.98 397.59,212.64 398.55,215.48 L408.70,245.51 L409.30,221.62 C411.80,210.62 416.23,212.28 417.20,215.12 L427.35,244.79 L427.95,221.25 C430.45,210.25 434.87,211.92 435.85,214.75 L446.00,244.07 L446.60,220.84 C449.10,209.89 453.52,211.55 454.50,214.39 L464.65,243.87 L465.25,220.64 C467.75,209.68 472.17,211.35 473.15,214.18 L483.30,243.66 L483.90,220.47 C486.40,209.54 490.82,211.20 491.80,214.04 L501.95,243.45 L502.55,220.31 C505.05,209.39 509.47,211.05 510.45,213.89 L520.60,243.25 L521.20,220.14 C523.70,209.24 528.12,210.91 529.10,213.74 L539.25,243.04 L539.85,219.98 C542.35,209.09 546.77,210.76 547.75,213.59 L557.90,242.84 L558.50,219.81 C561.00,208.95 565.41,210.61 566.40,213.45 L576.55,242.63 L577.15,219.65 C579.65,208.80 584.06,210.46 585.05,213.30 L595.20,242.42 L595.80,219.48 C598.30,208.65 602.71,210.32 603.70,213.15 L613.85,242.22 L614.45,219.32 C616.95,208.50 621.36,210.17 622.35,213.00 L632.50,242.01" fill="none" stroke="#c2c2c2" stroke-width="4" stroke-linejoin="round"/>
<path d="M110.30,461.66 L110.90,305.97 C113.40,294.97 117.68,296.68 118.80,299.47 L128.95,324.70 L129.55,277.48 C132.05,266.48 136.23,268.24 137.45,270.98 L147.60,293.73 L148.20,263.15 C150.70,252.15 154.98,253.86 156.10,256.65 L166.25,281.99 L166.85,255.05 C169.35,244.05 173.53,245.81 174.75,248.55 L184.90,271.31 L185.50,247.67 C188.00,236.67 192.25,238.39 193.40,241.17 L203.55,265.70 L204.15,243.48 C206.65,232.95 210.80,234.72 212.05,237.45 L222.20,259.65 L222.80,239.02 C225.30,229.18 229.42,230.97 230.70,233.68 L240.85,255.22 L241.45,236.64 C243.95,227.67 248.05,229.47 249.35,232.17 L259.50,253.31 L260.10,234.79 C262.60,225.85 266.70,227.65 268.00,230.35 L278.15,251.39 L278.75,232.71 C281.25,223.70 285.36,225.50 286.65,228.20 L296.80,249.47 L297.40,230.63 C299.90,221.56 304.02,223.35 305.30,226.06 L315.45,247.55 L316.05,229.36 C318.55,220.57 322.62,222.38 323.95,225.07 L334.10,245.63 L334.70,228.25 C337.20,219.80 341.24,221.63 342.60,224.30 L352.75,244.32 L353.35,227.37 C355.85,219.11 359.89,220.93 361.25,223.61 L371.40,243.59 L372.00,226.90 C374.50,218.74 378.52,220.58 379.90,223.24 L390.05,242.87 L390.65,226.43 C393.15,218.38 397.15,220.22 398.55,222.88 L408.70,242.15 L409.30,225.95 C411.80,218.01 415.78,219.87 417.20,222.51 L427.35,241.43 L427.95,225.48 C430.45,217.65 434.41,219.51 435.85,222.15 L446.00,240.71 L446.60,225.01 C449.10,217.28 453.07,219.14 454.50,221.78 L464.65,240.51 L465.25,224.81 C467.75,217.08 471.72,218.94 473.15,221.58 L483.30,240.30 L483.90,224.64 C486.40,216.93 490.37,218.79 491.80,221.43 L501.95,240.10 L502.55,224.48 C505.05,216.78 509.01,218.65 510.45,221.28 L520.60,239.89 L521.20,224.31 C523.70,216.63 527.66,218.50 529.10,221.13 L539.25,239.68 L539.85,224.15 C542.35,216.49 546.31,218.36 547.75,220.99 L557.90,239.48 L558.50,223.98 C561.00,216.34 564.95,218.21 566.40,220.84 L576.55,239.27 L577.15,223.82 C579.65,216.19 583.60,218.07 585.05,220.69 L595.20,239.06 L595.80,223.65 C598.30,216.04 602.25,217.92 603.70,220.54 L613.85,238.86 L614.45,223.49 C616.95,215.90 620.89,217.77 622.35,220.40 L632.50,238.65" fill="none" stroke="#c2c2c2" stroke-width="4" stroke-linejoin="round"/>
<path d="M110.30,461.66 L110.90,298.57 C113.40,287.57 117.88,289.22 118.80,292.07 L128.95,323.44 L129.55,270.09 C132.05,259.09 136.44,260.76 137.45,263.59 L147.60,291.97 L148.20,255.75 C150.70,244.75 155.12,246.41 156.10,249.25 L166.25,278.63 L166.85,247.66 C169.35,236.66 173.69,238.35 174.75,241.16 L184.90,267.95 L185.50,240.27 C188.00,229.27 192.40,230.94 193.40,233.77 L203.55,262.34 L204.15,236.56 C206.65,225.56 210.97,227.26 212.05,230.06 L222.20,256.30 L222.80,232.79 C225.30,221.79 229.59,223.50 230.70,226.29 L240.85,251.87 L241.45,230.45 C243.95,220.28 248.23,222.00 249.35,224.78 L259.50,249.95 L260.10,228.60 C262.60,218.45 266.87,220.17 268.00,222.95 L278.15,248.03 L278.75,226.53 C281.25,216.31 285.53,218.03 286.65,220.81 L296.80,246.11 L297.40,224.45 C299.90,214.17 304.19,215.88 305.30,218.67 L315.45,244.19 L316.05,223.18 C318.55,213.17 322.81,214.90 323.95,217.67 L334.10,242.28 L334.70,222.07 C337.20,212.41 341.43,214.15 342.60,216.91 L352.75,240.96 L353.35,221.19 C355.85,211.71 360.08,213.45 361.25,216.21 L371.40,240.24 L372.00,220.71 C374.50,211.35 378.72,213.09 379.90,215.85 L390.05,239.52 L390.65,220.24 C393.15,210.98 397.35,212.73 398.55,215.48 L408.70,238.80 L409.30,219.77 C411.80,210.62 415.99,212.37 417.20,215.12 L427.35,238.08 L427.95,219.30 C430.45,210.25 434.62,212.01 435.85,214.75 L446.00,237.36 L446.60,218.83 C449.10,209.89 453.28,211.65 454.50,214.39 L464.65,237.15 L465.25,218.62 C467.75,209.68 471.93,211.44 473.15,214.18 L483.30,236.94 L483.90,218.46 C486.40,209.54 490.58,211.30 491.80,214.04 L501.95,236.74 L502.55,218.29 C505.05,209.39 509.22,211.15 510.45,213.89 L520.60,236.53 L521.20,218.13 C523.70,209.24 527.87,211.00 529.10,213.74 L539.25,236.33 L539.85,217.96 C542.35,209.09 546.52,210.86 547.75,213.59 L557.90,236.12 L558.50,217.80 C561.00,208.95 565.16,210.71 566.40,213.45 L576.55,235.91 L577.15,217.63 C579.65,208.80 583.81,210.56 585.05,213.30 L595.20,235.71 L595.80,217.47 C598.30,208.65 602.46,210.42 603.70,213.15 L613.85,235.50 L614.45,217.30 C616.95,208.50 621.11,210.27 622.35,213.00 L632.50,235.29" fill="none" stroke="#c2c2c2" stroke-width="4" stroke-linejoin="round"/>
<path d="M110.30,461.66 L110.90,298.57 C113.40,287.57 117.84,289.23 118.80,292.07 L128.95,322.15 L129.55,270.09 C132.05,259.09 136.38,260.78 137.45,263.59 L147.60,290.16 L148.20,255.75 C150.70,244.75 155.01,246.46 156.10,249.25 L166.25,275.28 L166.85,247.66 C169.35,236.66 173.56,238.40 174.75,241.16 L184.90,264.59 L185.50,240.27 C188.00,229.27 192.28,230.99 193.40,233.77 L203.55,258.99 L204.15,236.28 C206.65,225.56 210.83,227.31 212.05,230.06 L222.20,252.94 L222.80,231.83 C225.30,221.79 229.45,223.56 230.70,226.29 L240.85,248.51 L241.45,229.45 C243.95,220.28 248.08,222.06 249.35,224.78 L259.50,246.59 L260.10,227.59 C262.60,218.45 266.73,220.24 268.00,222.95 L278.15,244.67 L278.75,225.52 C281.25,216.31 285.39,218.09 286.65,220.81 L296.80,242.75 L297.40,223.44 C299.90,214.17 304.05,215.94 305.30,218.67 L315.45,240.84 L316.05,222.17 C318.55,213.17 322.66,214.97 323.95,217.67 L334.10,238.92 L334.70,221.06 C337.20,212.41 341.28,214.22 342.60,216.91 L352.75,237.60 L353.35,220.18 C355.85,211.71 359.93,213.52 361.25,216.21 L371.40,236.88 L372.00,219.71 C374.50,211.35 378.56,213.16 379.90,215.85 L390.05,236.16 L390.65,219.24 C393.15,210.98 397.19,212.81 398.55,215.48 L408.70,235.44 L409.30,218.76 C411.80,210.62 415.82,212.45 417.20,215.12 L427.35,234.72 L427.95,218.29 C430.45,210.25 434.45,212.10 435.85,214.75 L446.00,234.00 L446.60,217.82 C449.10,209.89 453.11,211.73 454.50,214.39 L464.65,233.79 L465.25,217.62 C467.75,209.68 471.76,211.52 473.15,214.18 L483.30,233.59 L483.90,217.45 C486.40,209.54 490.41,211.38 491.80,214.04 L501.95,233.38 L502.55,217.29 C505.05,209.39 509.05,211.23 510.45,213.89 L520.60,233.17 L521.20,217.12 C523.70,209.24 527.70,211.09 529.10,213.74 L539.25,232.97 L539.85,216.95 C542.35,209.09 546.35,210.94 547.75,213.59 L557.90,232.76 L558.50,216.79 C561.00,208.95 564.99,210.80 566.40,213.45 L576.55,232.55 L577.15,216.62 C579.65,208.80 583.64,210.65 585.05,213.30 L595.20,232.35 L595.80,216.46 C598.30,208.65 602.29,210.50 603.70,213.15 L613.85,232.14 L614.45,216.29 C616.95,208.50 620.93,210.36 622.35,213.00 L632.50,231.94" fill="none" stroke="#c2c2c2" stroke-width="4" stroke-linejoin="round"/>
<path d="M110.30,461.66 L110.90,290.75 C113.40,279.75 118.00,281.36 118.80,284.25 L128.95,320.82 L129.55,262.26 C132.05,251.26 136.56,252.90 137.45,255.76 L147.60,288.33 L148.20,247.93 C150.70,236.93 155.15,238.58 156.10,241.43 L166.25,271.92 L166.85,239.83 C169.35,228.83 173.72,230.51 174.75,233.33 L184.90,261.23 L185.50,232.45 C188.00,221.45 192.43,223.11 193.40,225.95 L203.55,255.63 L204.15,228.73 C206.65,217.73 211.01,219.42 212.05,222.23 L222.20,249.58 L222.80,224.96 C225.30,213.96 229.63,215.66 230.70,218.46 L240.85,245.15 L241.45,222.96 C243.95,212.45 248.27,214.16 249.35,216.95 L259.50,243.23 L260.10,221.11 C262.60,210.63 266.92,212.33 268.00,215.13 L278.15,241.31 L278.75,219.03 C281.25,208.49 285.57,210.18 286.65,212.99 L296.80,239.40 L297.40,216.96 C299.90,206.34 304.23,208.04 305.30,210.84 L315.45,237.48 L316.05,215.69 C318.55,205.35 322.85,207.06 323.95,209.85 L334.10,235.56 L334.70,214.58 C337.20,204.59 341.48,206.30 342.60,209.09 L352.75,234.24 L353.35,213.69 C355.85,203.89 360.13,205.61 361.25,208.39 L371.40,233.52 L372.00,213.22 C374.50,203.52 378.76,205.25 379.90,208.02 L390.05,232.80 L390.65,212.75 C393.15,203.16 397.40,204.89 398.55,207.66 L408.70,232.08 L409.30,212.28 C411.80,202.79 416.03,204.53 417.20,207.29 L427.35,231.36 L427.95,211.81 C430.45,202.43 434.67,204.17 435.85,206.93 L446.00,230.64 L446.60,211.33 C449.10,202.06 453.33,203.80 454.50,206.56 L464.65,230.43 L465.25,211.13 C467.75,201.86 471.98,203.60 473.15,206.36 L483.30,230.23 L483.90,210.97 C486.40,201.71 490.62,203.45 491.80,206.21 L501.95,230.02 L502.55,210.80 C505.05,201.56 509.27,203.30 510.45,206.06 L520.60,229.82 L521.20,210.64 C523.70,201.42 527.92,203.16 529.10,205.92 L539.25,229.61 L539.85,210.47 C542.35,201.27 546.57,203.01 547.75,205.77 L557.90,229.40 L558.50,210.31 C561.00,201.12 565.21,202.87 566.40,205.62 L576.55,229.20 L577.15,210.14 C579.65,200.97 583.86,202.72 585.05,205.47 L595.20,228.99 L595.80,209.97 C598.30,200.83 602.51,202.57 603.70,205.33 L613.85,228.78 L614.45,209.81 C616.95,200.68 621.16,202.43 622.35,205.18 L632.50,228.58" fill="none" stroke="#c2c2c2" stroke-width="4" stroke-linejoin="round"/>
<path d="M110.30,435.18 L110.30,315.94 C108.30,308.94 115.09,311.02 115.80,313.94 L128.95,368.21 L128.95,284.01 C126.95,277.01 133.70,279.11 134.45,282.01 L147.60,332.88" fill="none" stroke="#000" stroke-width="3.8" stroke-linejoin="round" stroke-linecap="round"/>
<path d="M147.60,268.57 L147.60,259.67 C145.60,252.67 152.31,254.77 153.10,257.67 L155.99,268.21 M166.25,264.68 L166.25,252.96 C164.25,245.96 170.94,248.07 171.75,250.96 L174.64,261.25 M203.55,257.46 L203.55,243.16 C201.55,236.16 208.21,238.28 209.05,241.16 L211.94,251.04 M222.20,252.15 L222.20,240.06 C220.20,233.06 226.83,235.19 227.70,238.06 L230.59,247.65 M240.85,251.03 L240.85,238.37 C238.85,231.37 245.48,233.50 246.35,236.37 L249.24,245.91 M259.50,249.90 L259.50,236.67 C257.50,229.67 264.13,231.80 265.00,234.67 L267.89,244.16 M278.15,248.78 L278.15,234.98 C276.15,227.98 282.77,230.11 283.65,232.98 L286.54,242.42 M296.80,247.65 L296.80,233.28 C294.80,226.28 301.42,228.41 302.30,231.28 L305.19,240.67 M352.75,244.28 L352.75,228.76 C350.75,221.76 357.38,223.89 358.25,226.76 L361.14,236.28 M371.40,243.16 L371.40,228.21 C369.40,221.21 376.02,223.34 376.90,226.21 L379.79,235.69 M390.05,242.04 L390.05,227.65 C388.05,220.65 394.67,222.78 395.55,225.65 L398.44,235.09 M408.70,240.92 L408.70,227.09 C406.70,220.09 413.32,222.22 414.20,225.09 L417.09,234.50 M464.65,238.85 L464.65,225.42 C462.65,218.42 469.28,220.55 470.15,223.42 L473.04,232.95 M501.95,237.91 L501.95,224.31 C499.95,217.31 506.59,219.43 507.45,222.31 L510.34,231.99 M520.60,237.43 L520.60,223.75 C518.60,216.75 525.25,218.87 526.10,221.75 L528.99,231.51 M557.90,236.49 L557.90,222.63 C555.90,215.63 562.56,217.75 563.40,220.63 L566.29,230.55 M576.55,236.02 L576.55,222.08 C574.55,215.08 581.22,217.19 582.05,220.08 L584.94,230.07 M613.85,235.07 L613.85,220.96 C611.85,213.96 618.53,216.08 619.35,218.96 L622.24,229.11 " fill="none" stroke="#000" stroke-width="3.4" stroke-dasharray="6,10" stroke-linejoin="round" stroke-linecap="round"/>
<path d="M110.30,435.18 L110.30,315.94 C108.30,308.94 115.18,311.00 115.80,313.94 L128.95,376.62 L128.95,289.59 C126.95,282.59 133.78,284.66 134.45,287.59 L147.60,345.17 L147.60,275.57 C145.60,268.57 152.11,270.73 153.10,273.57 L166.25,311.32 L166.25,271.68 C164.25,264.68 170.58,266.92 171.75,269.68 L184.90,300.64 L184.90,269.44 C182.90,262.44 189.11,264.73 190.40,267.44 L203.55,295.03 L203.55,264.46 C201.55,257.46 207.72,259.77 209.05,262.46 L222.20,288.99 L222.20,259.15 C220.20,252.15 226.40,254.45 227.70,257.15 L240.85,284.56 L240.85,258.03 C238.85,251.03 245.02,253.34 246.35,256.03 L259.50,282.64 L259.50,256.90 C257.50,249.90 263.64,252.23 265.00,254.90 L278.15,280.72 L278.15,255.78 C276.15,248.78 282.25,251.12 283.65,253.78 L296.80,278.80 L296.80,254.65 C294.80,247.65 300.87,250.02 302.30,252.65 L315.45,276.88 L315.45,253.53 C313.45,246.53 319.48,248.91 320.95,251.53 L334.10,274.97 L334.10,252.41 C332.10,245.41 338.12,247.79 339.60,250.41 L352.75,273.65 L352.75,251.28 C350.75,244.28 356.79,246.66 358.25,249.28 L371.40,272.93 L371.40,250.16 C369.40,243.16 375.46,245.53 376.90,248.16 L390.05,272.21 L390.05,249.04 C388.05,242.04 394.13,244.40 395.55,247.04 L408.70,271.49 L408.70,247.92 C406.70,240.92 412.80,243.27 414.20,245.92 L427.35,270.77 L427.35,246.80 C425.35,239.80 431.46,242.14 432.85,244.80 L446.00,270.05 L446.00,246.32 C444.00,239.32 450.13,241.66 451.50,244.32 L464.65,269.84 L464.65,245.85 C462.65,238.85 468.79,241.18 470.15,243.85 L483.30,269.63 L483.30,245.38 C481.30,238.38 487.45,240.70 488.80,243.38 L501.95,269.43 L501.95,244.91 C499.95,237.91 506.11,240.22 507.45,242.91 L520.60,269.22 L520.60,244.43 C518.60,237.43 524.77,239.75 526.10,242.43 L539.25,269.02 L539.25,243.96 C537.25,236.96 543.43,239.27 544.75,241.96 L557.90,268.81 L557.90,243.49 C555.90,236.49 562.09,238.79 563.40,241.49 L576.55,268.60 L576.55,243.02 C574.55,236.02 580.75,238.31 582.05,241.02 L595.20,268.40 L595.20,242.54 C593.20,235.54 599.41,237.84 600.70,240.54 L613.85,268.19 L613.85,242.07 C611.85,235.07 618.07,237.36 619.35,240.07 L632.50,267.99" fill="none" stroke="#000" stroke-width="3.0" stroke-linejoin="round"/>
<path d="M159.7,1047.7 L162.0,731.9 L162.5,731.9 L163.0,736.1 L163.5,742.3 L164.0,748.5 L164.5,754.7 L165.0,760.8 L165.5,766.8 L166.0,772.7 L166.5,778.5 L167.0,784.3 L167.5,790.0 L168.0,795.6 L168.5,801.1 L169.0,806.4 L169.5,811.7 L170.0,816.9 L170.5,821.9 L171.0,826.8 L171.5,831.6 L172.0,836.2 L172.5,840.8 L173.0,845.2 L173.5,849.4 L174.0,853.5 L174.5,857.5 L175.0,861.3 L175.5,865.0 L176.0,868.5 L176.5,871.9 L177.0,875.1 L177.5,878.2 L178.0,881.1 L178.5,883.9 L179.0,886.6 L179.5,889.2 L180.0,891.6 L180.5,893.9 L181.0,896.0 L181.5,898.1 L182.0,900.0 L182.5,901.9 L183.0,903.6 L183.5,905.3 L184.0,906.8 L184.5,908.3 L185.0,909.7 L185.5,911.0 L186.0,912.3 L186.5,913.4 L187.0,914.6 L187.5,915.6 L188.0,916.6 L188.5,917.6 L189.0,918.5 L189.5,919.3 L190.0,920.1 L192.0,923.0 L194.0,925.5 L196.0,927.6 L198.0,929.5 L200.0,931.1 L202.0,932.7 L204.0,934.1 L206.0,935.5 L208.0,936.9 L210.0,938.1 L212.0,939.4 L214.0,940.6 L216.0,941.8 L218.0,943.0 L220.0,944.2 L222.0,945.3 L224.0,946.5 L226.0,947.6 L228.0,948.8 L230.0,949.9 L232.0,951.1 L234.0,952.2 L236.0,953.4 L238.0,954.5 L240.0,955.5 L242.0,956.6 L244.0,957.6 L246.0,958.6 L248.0,959.6 L250.0,960.5 L252.0,961.5 L254.0,962.4 L256.0,963.3 L258.0,964.2 L260.0,965.0 L262.0,965.9 L264.0,966.7 L266.0,967.6 L268.0,968.4 L270.0,969.2 L272.0,970.1 L274.0,970.9 L276.0,971.7 L278.0,972.5 L280.0,973.3 L282.0,974.1 L284.0,975.0 L286.0,975.8 L288.0,976.6 L290.0,977.5 L292.0,978.3 L294.0,979.2 L296.0,980.1 L298.0,981.0 L300.0,981.9 L302.0,982.8 L304.0,983.8 L306.0,984.7 L308.0,985.6 L310.0,986.5 L312.0,987.5 L314.0,988.4 L316.0,989.3 L318.0,990.2 L320.0,991.2 L322.0,992.1 L324.0,993.0 L326.0,994.0 L328.0,994.9 L330.0,995.8 L332.0,996.7 L334.0,997.7 L336.0,998.6 L338.0,999.5 L340.0,1000.4 L342.0,1001.3 L344.0,1002.3 L346.0,1003.2 L348.0,1004.1 L350.0,1005.0 L352.0,1005.9 L354.0,1006.8 L356.0,1007.7 L358.0,1008.7 L360.0,1009.6 L362.0,1010.5 L364.0,1011.4 L366.0,1012.3 L368.0,1013.1 L370.0,1014.0 L372.0,1014.9 L374.0,1015.8 L376.0,1016.7 L378.0,1017.6 L380.0,1018.5 L382.0,1019.3 L384.0,1020.2 L386.0,1021.1 L388.0,1021.9 L390.0,1022.8 L392.0,1023.7 L394.0,1024.5 L396.0,1025.4 L398.0,1026.2 L400.0,1027.0 L402.0,1027.9 L404.0,1028.7 L406.0,1029.5 L408.0,1030.4 L410.0,1031.2 L412.0,1032.0 L414.0,1032.8 L416.0,1033.6 L418.0,1034.4 L420.0,1035.2 L422.0,1036.0 L424.0,1036.8 L426.0,1037.6 L428.0,1038.3 L430.0,1039.1 L432.0,1039.9 L434.0,1040.7 L436.0,1041.4 L438.0,1042.2 L440.0,1042.9 L442.0,1043.7 L444.0,1044.5 L446.0,1045.2 L448.0,1046.0 L450.0,1046.7 L452.0,1047.4 L454.0,1048.2 L456.0,1048.9 L458.0,1049.7 L460.0,1050.4 L462.0,1051.1 L464.0,1051.8 L466.0,1052.6 L468.0,1053.3 L470.0,1054.0 L472.0,1054.7 L474.0,1055.5 L476.0,1056.2 L478.0,1056.9 L480.0,1057.6 L482.0,1058.3 L484.0,1059.0 L486.0,1059.7 L488.0,1060.4 L490.0,1061.1 L492.0,1061.8 L494.0,1062.5 L496.0,1063.2 L498.0,1063.9 L500.0,1064.6 L502.0,1065.3 L504.0,1066.0 L506.0,1066.7 L508.0,1067.4 L510.0,1068.1 L512.0,1068.8 L514.0,1069.5 L516.0,1070.2 L518.0,1070.9 L520.0,1071.6 L522.0,1072.2 L524.0,1072.9 L526.0,1073.6 L528.0,1074.3 L530.0,1075.0 L532.0,1075.7 L534.0,1076.4 L536.0,1077.1 L538.0,1077.7 L540.0,1078.4 L542.0,1079.1 L544.0,1079.8 L546.0,1080.5 L548.0,1081.1 L550.0,1081.8 L552.0,1082.5 L554.0,1083.2 L556.0,1083.9 L558.0,1084.5 L560.0,1085.2 L562.0,1085.9 L564.0,1086.6 L566.0,1087.2 L568.0,1087.9 L570.0,1088.6 L572.0,1089.2 L574.0,1089.9 L576.0,1090.6 L578.0,1091.2 L580.0,1091.9 L582.0,1092.6 L584.0,1093.2 L586.0,1093.9 L588.0,1094.6 L590.0,1095.2 L592.0,1095.9 L594.0,1096.6 L596.0,1097.2 L598.0,1097.9 L600.0,1098.6 L602.0,1099.2 L604.0,1099.9 L606.0,1100.5 L608.0,1101.2 L610.0,1101.9 L612.0,1102.5 L614.0,1103.2 L616.0,1103.8 L618.0,1104.5 L620.0,1105.2 L622.0,1105.8 L624.0,1106.5 L626.0,1107.1 L628.0,1107.8 L630.0,1108.5 L632.0,1109.1 L634.0,1109.8 L636.0,1110.4 L638.0,1111.1 L640.0,1111.7" fill="none" stroke="#c2c2c2" stroke-width="2.0" stroke-linejoin="round" stroke-linecap="round"/>
<path d="M159.7,1047.7 L162.0,733.3 L162.5,733.3 L163.0,737.6 L163.5,743.8 L164.0,750.0 L164.5,756.2 L165.0,762.2 L165.5,768.3 L166.0,774.2 L166.5,780.0 L167.0,785.8 L167.5,791.5 L168.0,797.1 L168.5,802.5 L169.0,807.9 L169.5,813.2 L170.0,818.3 L170.5,823.4 L171.0,828.3 L171.5,833.1 L172.0,837.7 L172.5,842.3 L173.0,846.6 L173.5,850.9 L174.0,855.0 L174.5,858.9 L175.0,862.8 L175.5,866.4 L176.0,870.0 L176.5,873.3 L177.0,876.6 L177.5,879.7 L178.0,882.6 L178.5,885.4 L179.0,888.1 L179.5,890.7 L180.0,893.1 L180.5,895.4 L181.0,897.6 L181.5,899.6 L182.0,901.6 L182.5,903.4 L183.0,905.2 L183.5,906.8 L184.0,908.4 L184.5,909.9 L185.0,911.3 L185.5,912.6 L186.0,913.9 L186.5,915.0 L187.0,916.2 L187.5,917.2 L188.0,918.3 L188.5,919.2 L189.0,920.1 L189.5,921.0 L190.0,921.8 L192.0,924.8 L194.0,927.3 L196.0,929.5 L198.0,931.4 L200.0,933.2 L202.0,934.8 L204.0,936.4 L206.0,937.9 L208.0,939.3 L210.0,940.7 L212.0,942.0 L214.0,943.3 L216.0,944.6 L218.0,945.9 L220.0,947.2 L222.0,948.5 L224.0,949.8 L226.0,951.0 L228.0,952.3 L230.0,953.5 L232.0,954.8 L234.0,956.0 L236.0,957.2 L238.0,958.5 L240.0,959.7 L242.0,961.0 L244.0,962.2 L246.0,963.5 L248.0,964.7 L250.0,966.0 L252.0,967.3 L254.0,968.5 L256.0,969.8 L258.0,971.0 L260.0,972.2 L262.0,973.5 L264.0,974.7 L266.0,975.9 L268.0,977.1 L270.0,978.4 L272.0,979.6 L274.0,980.8 L276.0,982.0 L278.0,983.2 L280.0,984.4 L282.0,985.6 L284.0,986.8 L286.0,987.9 L288.0,989.1 L290.0,990.3 L292.0,991.5 L294.0,992.7 L296.0,993.8 L298.0,995.0 L300.0,996.2 L302.0,997.4 L304.0,998.5 L306.0,999.7 L308.0,1000.9 L310.0,1002.0 L312.0,1003.2 L314.0,1004.4 L316.0,1005.5 L318.0,1006.7 L320.0,1007.8 L322.0,1008.9 L324.0,1010.1 L326.0,1011.2 L328.0,1012.3 L330.0,1013.5 L332.0,1014.6 L334.0,1015.7 L336.0,1016.8 L338.0,1018.0 L340.0,1019.1 L342.0,1020.2 L344.0,1021.3 L346.0,1022.4 L348.0,1023.5 L350.0,1024.6 L352.0,1025.7 L354.0,1026.8 L356.0,1027.9 L358.0,1028.9 L360.0,1030.0 L362.0,1031.1 L364.0,1032.2 L366.0,1033.3 L368.0,1034.3 L370.0,1035.4 L372.0,1036.5 L374.0,1037.5 L376.0,1038.6 L378.0,1039.6 L380.0,1040.7 L382.0,1041.7 L384.0,1042.8 L386.0,1043.8 L388.0,1044.9 L390.0,1045.9 L392.0,1047.0 L394.0,1048.0 L396.0,1049.0 L398.0,1050.0 L400.0,1051.1 L402.0,1052.1 L404.0,1053.1 L406.0,1054.1 L408.0,1055.2 L410.0,1056.2 L412.0,1057.2 L414.0,1058.2 L416.0,1059.2 L418.0,1060.2 L420.0,1061.2 L422.0,1062.2 L424.0,1063.2 L426.0,1064.2 L428.0,1065.2 L430.0,1066.2 L432.0,1067.1 L434.0,1068.1 L436.0,1069.1 L438.0,1070.1 L440.0,1071.1 L442.0,1072.0 L444.0,1073.0 L446.0,1074.0 L448.0,1074.9 L450.0,1075.9 L452.0,1076.8 L454.0,1077.8 L456.0,1078.8 L458.0,1079.7 L460.0,1080.7 L462.0,1081.6 L464.0,1082.5 L466.0,1083.5 L468.0,1084.4 L470.0,1085.4 L472.0,1086.3 L474.0,1087.2 L476.0,1088.2 L478.0,1089.1 L480.0,1090.0 L482.0,1091.0 L484.0,1091.9 L486.0,1092.8 L488.0,1093.8 L490.0,1094.7 L492.0,1095.6 L494.0,1096.5 L496.0,1097.5 L498.0,1098.4 L500.0,1099.3 L502.0,1100.2 L504.0,1101.1 L506.0,1102.0 L508.0,1103.0 L510.0,1103.9 L512.0,1104.8 L514.0,1105.7 L516.0,1106.6 L518.0,1107.5 L520.0,1108.4 L522.0,1109.4 L524.0,1110.3 L526.0,1111.2 L528.0,1112.1 L530.0,1113.0 L532.0,1113.9 L534.0,1114.8 L536.0,1115.7 L538.0,1116.6 L540.0,1117.5 L542.0,1118.4 L544.0,1119.3 L546.0,1120.2 L548.0,1121.1 L550.0,1122.0 L552.0,1122.9 L554.0,1123.8 L556.0,1124.7 L558.0,1125.6 L560.0,1126.5 L562.0,1127.4 L564.0,1128.3 L566.0,1129.2 L568.0,1130.1 L570.0,1131.0 L572.0,1131.9 L574.0,1132.8 L576.0,1133.6 L578.0,1134.5 L580.0,1135.4 L582.0,1136.3 L584.0,1137.2 L586.0,1138.1 L588.0,1139.0 L590.0,1139.8 L592.0,1140.7 L594.0,1141.6 L596.0,1142.5 L598.0,1143.4 L600.0,1144.2 L602.0,1145.1 L604.0,1146.0 L606.0,1146.9 L608.0,1147.8 L610.0,1148.6 L612.0,1149.5 L614.0,1150.4 L616.0,1151.3 L618.0,1152.2 L620.0,1153.0 L622.0,1153.9 L624.0,1154.8 L626.0,1155.7 L628.0,1156.5 L630.0,1157.4 L632.0,1158.3 L634.0,1159.2 L636.0,1160.1 L638.0,1160.9 L640.0,1161.8" fill="none" stroke="#c2c2c2" stroke-width="2.0" stroke-linejoin="round" stroke-linecap="round"/>
<path d="M159.7,1047.7 L162.0,730.4 L162.5,730.6 L163.0,735.0 L163.5,741.5 L164.0,748.0 L164.5,754.4 L165.0,760.7 L165.5,766.9 L166.0,773.1 L166.5,779.2 L167.0,785.2 L167.5,791.1 L168.0,797.0 L168.5,802.7 L169.0,808.3 L169.5,813.8 L170.0,819.1 L170.5,824.4 L171.0,829.5 L171.5,834.5 L172.0,839.3 L172.5,843.9 L173.0,848.5 L173.5,852.8 L174.0,857.0 L174.5,861.1 L175.0,864.9 L175.5,868.7 L176.0,872.2 L176.5,875.6 L177.0,878.8 L177.5,881.9 L178.0,884.9 L178.5,887.7 L179.0,890.3 L179.5,892.9 L180.0,895.3 L180.5,897.6 L181.0,899.8 L181.5,901.9 L182.0,903.8 L182.5,905.7 L183.0,907.4 L183.5,909.1 L184.0,910.7 L184.5,912.1 L185.0,913.6 L185.5,914.9 L186.0,916.1 L186.5,917.3 L187.0,918.5 L187.5,919.5 L188.0,920.6 L188.5,921.5 L189.0,922.4 L189.5,923.3 L190.0,924.2 L192.0,927.2 L194.0,929.7 L196.0,931.9 L198.0,933.9 L200.0,935.7 L202.0,937.4 L204.0,939.0 L206.0,940.5 L208.0,942.0 L210.0,943.4 L212.0,944.8 L214.0,946.2 L216.0,947.6 L218.0,948.9 L220.0,950.2 L222.0,951.6 L224.0,952.9 L226.0,954.2 L228.0,955.5 L230.0,956.8 L232.0,958.1 L234.0,959.4 L236.0,960.7 L238.0,962.0 L240.0,963.3 L242.0,964.6 L244.0,965.9 L246.0,967.2 L248.0,968.5 L250.0,969.7 L252.0,971.0 L254.0,972.4 L256.0,973.7 L258.0,975.0 L260.0,976.3 L262.0,977.6 L264.0,979.0 L266.0,980.3 L268.0,981.6 L270.0,983.0 L272.0,984.4 L274.0,985.7 L276.0,987.1 L278.0,988.5 L280.0,989.9 L282.0,991.4 L284.0,992.8 L286.0,994.2 L288.0,995.6 L290.0,997.0 L292.0,998.4 L294.0,999.8 L296.0,1001.2 L298.0,1002.6 L300.0,1004.0 L302.0,1005.4 L304.0,1006.8 L306.0,1008.2 L308.0,1009.6 L310.0,1010.9 L312.0,1012.3 L314.0,1013.7 L316.0,1015.1 L318.0,1016.5 L320.0,1017.8 L322.0,1019.2 L324.0,1020.6 L326.0,1021.9 L328.0,1023.3 L330.0,1024.6 L332.0,1026.0 L334.0,1027.3 L336.0,1028.7 L338.0,1030.0 L340.0,1031.3 L342.0,1032.7 L344.0,1034.0 L346.0,1035.3 L348.0,1036.7 L350.0,1038.0 L352.0,1039.3 L354.0,1040.6 L356.0,1041.9 L358.0,1043.2 L360.0,1044.5 L362.0,1045.8 L364.0,1047.1 L366.0,1048.4 L368.0,1049.7 L370.0,1050.9 L372.0,1052.2 L374.0,1053.5 L376.0,1054.7 L378.0,1056.0 L380.0,1057.3 L382.0,1058.5 L384.0,1059.7 L386.0,1061.0 L388.0,1062.2 L390.0,1063.5 L392.0,1064.7 L394.0,1065.9 L396.0,1067.1 L398.0,1068.3 L400.0,1069.5 L402.0,1070.7 L404.0,1071.9 L406.0,1073.1 L408.0,1074.3 L410.0,1075.5 L412.0,1076.7 L414.0,1077.9 L416.0,1079.0 L418.0,1080.2 L420.0,1081.4 L422.0,1082.5 L424.0,1083.7 L426.0,1084.9 L428.0,1086.0 L430.0,1087.2 L432.0,1088.3 L434.0,1089.5 L436.0,1090.6 L438.0,1091.8 L440.0,1092.9 L442.0,1094.0 L444.0,1095.2 L446.0,1096.3 L448.0,1097.4 L450.0,1098.6 L452.0,1099.7 L454.0,1100.8 L456.0,1101.9 L458.0,1103.0 L460.0,1104.1 L462.0,1105.2 L464.0,1106.3 L466.0,1107.4 L468.0,1108.5 L470.0,1109.6 L472.0,1110.7 L474.0,1111.8 L476.0,1112.9 L478.0,1114.0 L480.0,1115.1 L482.0,1116.1 L484.0,1117.2 L486.0,1118.3 L488.0,1119.4 L490.0,1120.4 L492.0,1121.5 L494.0,1122.6 L496.0,1123.6 L498.0,1124.7 L500.0,1125.7 L502.0,1126.8 L504.0,1127.8 L506.0,1128.9 L508.0,1129.9 L510.0,1131.0 L512.0,1132.0 L514.0,1133.1 L516.0,1134.1 L518.0,1135.1 L520.0,1136.2 L522.0,1137.2 L524.0,1138.2 L526.0,1139.3 L528.0,1140.3 L530.0,1141.3 L532.0,1142.3 L534.0,1143.4 L536.0,1144.4 L538.0,1145.4 L540.0,1146.4 L542.0,1147.4 L544.0,1148.4 L546.0,1149.4 L548.0,1150.4 L550.0,1151.4 L552.0,1152.4 L554.0,1153.4 L556.0,1154.4 L558.0,1155.4 L560.0,1156.4 L562.0,1157.4 L564.0,1158.4 L566.0,1159.4 L568.0,1160.4 L570.0,1161.4 L572.0,1162.4 L574.0,1163.3 L576.0,1164.3 L578.0,1165.3 L580.0,1166.3 L582.0,1167.3 L584.0,1168.2 L586.0,1169.2 L588.0,1170.2 L590.0,1171.1 L592.0,1172.1 L594.0,1173.1 L596.0,1174.1 L598.0,1175.0 L600.0,1176.0 L602.0,1176.9 L604.0,1177.9 L606.0,1178.9 L608.0,1179.8 L610.0,1180.8 L612.0,1181.7 L614.0,1182.7 L616.0,1183.6 L618.0,1184.6 L620.0,1185.5 L622.0,1186.5 L624.0,1187.4 L626.0,1188.4 L628.0,1189.3 L630.0,1190.3 L632.0,1191.2 L634.0,1192.2 L636.0,1193.1 L638.0,1194.0 L640.0,1195.0" fill="none" stroke="#c2c2c2" stroke-width="2.8" stroke-linejoin="round" stroke-linecap="round"/>
<path d="M159.7,1047.7 L162.0,728.1 L162.5,728.5 L163.0,733.0 L163.5,739.6 L164.0,746.1 L164.5,752.6 L165.0,759.0 L165.5,765.4 L166.0,771.7 L166.5,777.9 L167.0,784.0 L167.5,790.0 L168.0,796.0 L168.5,801.8 L169.0,807.5 L169.5,813.1 L170.0,818.5 L170.5,823.9 L171.0,829.0 L171.5,834.1 L172.0,839.0 L172.5,843.7 L173.0,848.3 L173.5,852.7 L174.0,857.0 L174.5,861.0 L175.0,864.9 L175.5,868.6 L176.0,872.2 L176.5,875.6 L177.0,878.8 L177.5,881.9 L178.0,884.8 L178.5,887.7 L179.0,890.3 L179.5,892.9 L180.0,895.3 L180.5,897.6 L181.0,899.8 L181.5,901.8 L182.0,903.8 L182.5,905.7 L183.0,907.4 L183.5,909.1 L184.0,910.6 L184.5,912.1 L185.0,913.5 L185.5,914.8 L186.0,916.1 L186.5,917.3 L187.0,918.4 L187.5,919.5 L188.0,920.5 L188.5,921.4 L189.0,922.4 L189.5,923.2 L190.0,924.1 L192.0,927.0 L194.0,929.5 L196.0,931.7 L198.0,933.7 L200.0,935.4 L202.0,937.0 L204.0,938.6 L206.0,940.1 L208.0,941.5 L210.0,942.9 L212.0,944.2 L214.0,945.5 L216.0,946.8 L218.0,948.1 L220.0,949.4 L222.0,950.6 L224.0,951.9 L226.0,953.1 L228.0,954.4 L230.0,955.6 L232.0,956.9 L234.0,958.1 L236.0,959.3 L238.0,960.6 L240.0,961.8 L242.0,963.0 L244.0,964.3 L246.0,965.5 L248.0,966.7 L250.0,968.0 L252.0,969.2 L254.0,970.5 L256.0,971.7 L258.0,973.0 L260.0,974.3 L262.0,975.6 L264.0,976.9 L266.0,978.2 L268.0,979.5 L270.0,980.8 L272.0,982.2 L274.0,983.5 L276.0,984.9 L278.0,986.3 L280.0,987.7 L282.0,989.1 L284.0,990.5 L286.0,992.0 L288.0,993.4 L290.0,994.8 L292.0,996.2 L294.0,997.6 L296.0,999.0 L298.0,1000.4 L300.0,1001.9 L302.0,1003.3 L304.0,1004.7 L306.0,1006.1 L308.0,1007.5 L310.0,1008.9 L312.0,1010.3 L314.0,1011.7 L316.0,1013.1 L318.0,1014.5 L320.0,1015.9 L322.0,1017.3 L324.0,1018.7 L326.0,1020.1 L328.0,1021.5 L330.0,1022.9 L332.0,1024.3 L334.0,1025.7 L336.0,1027.1 L338.0,1028.5 L340.0,1029.9 L342.0,1031.3 L344.0,1032.6 L346.0,1034.0 L348.0,1035.4 L350.0,1036.8 L352.0,1038.1 L354.0,1039.5 L356.0,1040.9 L358.0,1042.2 L360.0,1043.6 L362.0,1045.0 L364.0,1046.3 L366.0,1047.7 L368.0,1049.0 L370.0,1050.4 L372.0,1051.7 L374.0,1053.1 L376.0,1054.4 L378.0,1055.8 L380.0,1057.1 L382.0,1058.4 L384.0,1059.8 L386.0,1061.1 L388.0,1062.4 L390.0,1063.7 L392.0,1065.0 L394.0,1066.4 L396.0,1067.7 L398.0,1069.0 L400.0,1070.3 L402.0,1071.6 L404.0,1072.9 L406.0,1074.2 L408.0,1075.5 L410.0,1076.8 L412.0,1078.1 L414.0,1079.4 L416.0,1080.7 L418.0,1082.1 L420.0,1083.4 L422.0,1084.7 L424.0,1086.0 L426.0,1087.3 L428.0,1088.7 L430.0,1090.0 L432.0,1091.3 L434.0,1092.7 L436.0,1094.0 L438.0,1095.3 L440.0,1096.6 L442.0,1098.0 L444.0,1099.3 L446.0,1100.6 L448.0,1101.9 L450.0,1103.3 L452.0,1104.6 L454.0,1105.9 L456.0,1107.2 L458.0,1108.6 L460.0,1109.9 L462.0,1111.2 L464.0,1112.5 L466.0,1113.9 L468.0,1115.2 L470.0,1116.5 L472.0,1117.8 L474.0,1119.1 L476.0,1120.4 L478.0,1121.7 L480.0,1123.1 L482.0,1124.4 L484.0,1125.7 L486.0,1127.0 L488.0,1128.3 L490.0,1129.6 L492.0,1130.8 L494.0,1132.1 L496.0,1133.4 L498.0,1134.7 L500.0,1136.0 L502.0,1137.3 L504.0,1138.5 L506.0,1139.8 L508.0,1141.1 L510.0,1142.3 L512.0,1143.6 L514.0,1144.8 L516.0,1146.1 L518.0,1147.3 L520.0,1148.6 L522.0,1149.8 L524.0,1151.0 L526.0,1152.3 L528.0,1153.5 L530.0,1154.7 L532.0,1155.9 L534.0,1157.1 L536.0,1158.4 L538.0,1159.6 L540.0,1160.8 L542.0,1162.0 L544.0,1163.2 L546.0,1164.4 L548.0,1165.6 L550.0,1166.8 L552.0,1168.0 L554.0,1169.2 L556.0,1170.4 L558.0,1171.6 L560.0,1172.8 L562.0,1174.0 L564.0,1175.2 L566.0,1176.3 L568.0,1177.5 L570.0,1178.7 L572.0,1179.9 L574.0,1181.1 L576.0,1182.3 L578.0,1183.4 L580.0,1184.6 L582.0,1185.8 L584.0,1187.0 L586.0,1188.1 L588.0,1189.3 L590.0,1190.5 L592.0,1191.6 L594.0,1192.8 L596.0,1194.0 L598.0,1195.1 L600.0,1196.3 L602.0,1197.4 L604.0,1198.6 L606.0,1199.8 L608.0,1200.9 L610.0,1202.1 L612.0,1203.2 L614.0,1204.4 L616.0,1205.5 L618.0,1206.7 L620.0,1207.8 L622.0,1209.0 L624.0,1210.1 L626.0,1211.3 L628.0,1212.4 L630.0,1213.5 L632.0,1214.7 L634.0,1215.8 L636.0,1217.0 L638.0,1218.1 L640.0,1219.2" fill="none" stroke="#c2c2c2" stroke-width="2.5" stroke-linejoin="round" stroke-linecap="round"/>
<path d="M159.7,1047.7 L162.0,730.4 L162.5,730.7 L163.0,735.2 L163.5,741.7 L164.0,748.2 L164.5,754.7 L165.0,761.1 L165.5,767.4 L166.0,773.6 L166.5,779.8 L167.0,785.9 L167.5,791.9 L168.0,797.8 L168.5,803.6 L169.0,809.2 L169.5,814.8 L170.0,820.2 L170.5,825.5 L171.0,830.7 L171.5,835.7 L172.0,840.6 L172.5,845.3 L173.0,849.8 L173.5,854.2 L174.0,858.5 L174.5,862.5 L175.0,866.4 L175.5,870.1 L176.0,873.7 L176.5,877.1 L177.0,880.3 L177.5,883.4 L178.0,886.3 L178.5,889.1 L179.0,891.8 L179.5,894.4 L180.0,896.8 L180.5,899.1 L181.0,901.3 L181.5,903.3 L182.0,905.3 L182.5,907.1 L183.0,908.9 L183.5,910.6 L184.0,912.1 L184.5,913.6 L185.0,915.0 L185.5,916.3 L186.0,917.6 L186.5,918.8 L187.0,919.9 L187.5,921.0 L188.0,922.0 L188.5,923.0 L189.0,923.9 L189.5,924.7 L190.0,925.6 L192.0,928.6 L194.0,931.1 L196.0,933.3 L198.0,935.2 L200.0,937.0 L202.0,938.7 L204.0,940.2 L206.0,941.7 L208.0,943.1 L210.0,944.5 L212.0,945.9 L214.0,947.2 L216.0,948.6 L218.0,949.9 L220.0,951.2 L222.0,952.4 L224.0,953.7 L226.0,955.0 L228.0,956.2 L230.0,957.5 L232.0,958.8 L234.0,960.0 L236.0,961.3 L238.0,962.5 L240.0,963.8 L242.0,965.0 L244.0,966.3 L246.0,967.5 L248.0,968.8 L250.0,970.0 L252.0,971.3 L254.0,972.6 L256.0,973.9 L258.0,975.1 L260.0,976.4 L262.0,977.7 L264.0,979.0 L266.0,980.4 L268.0,981.7 L270.0,983.0 L272.0,984.4 L274.0,985.8 L276.0,987.1 L278.0,988.5 L280.0,989.9 L282.0,991.4 L284.0,992.8 L286.0,994.2 L288.0,995.6 L290.0,997.0 L292.0,998.4 L294.0,999.9 L296.0,1001.3 L298.0,1002.7 L300.0,1004.1 L302.0,1005.5 L304.0,1007.0 L306.0,1008.4 L308.0,1009.8 L310.0,1011.2 L312.0,1012.6 L314.0,1014.1 L316.0,1015.5 L318.0,1016.9 L320.0,1018.3 L322.0,1019.7 L324.0,1021.1 L326.0,1022.5 L328.0,1024.0 L330.0,1025.4 L332.0,1026.8 L334.0,1028.2 L336.0,1029.6 L338.0,1031.0 L340.0,1032.4 L342.0,1033.8 L344.0,1035.2 L346.0,1036.6 L348.0,1038.0 L350.0,1039.4 L352.0,1040.8 L354.0,1042.1 L356.0,1043.5 L358.0,1044.9 L360.0,1046.3 L362.0,1047.7 L364.0,1049.0 L366.0,1050.4 L368.0,1051.8 L370.0,1053.2 L372.0,1054.5 L374.0,1055.9 L376.0,1057.2 L378.0,1058.6 L380.0,1059.9 L382.0,1061.3 L384.0,1062.6 L386.0,1064.0 L388.0,1065.3 L390.0,1066.6 L392.0,1068.0 L394.0,1069.3 L396.0,1070.6 L398.0,1071.9 L400.0,1073.2 L402.0,1074.6 L404.0,1075.9 L406.0,1077.2 L408.0,1078.5 L410.0,1079.8 L412.0,1081.1 L414.0,1082.4 L416.0,1083.7 L418.0,1085.0 L420.0,1086.3 L422.0,1087.7 L424.0,1089.0 L426.0,1090.3 L428.0,1091.6 L430.0,1092.9 L432.0,1094.2 L434.0,1095.5 L436.0,1096.8 L438.0,1098.1 L440.0,1099.4 L442.0,1100.7 L444.0,1102.0 L446.0,1103.3 L448.0,1104.6 L450.0,1105.9 L452.0,1107.2 L454.0,1108.5 L456.0,1109.8 L458.0,1111.1 L460.0,1112.4 L462.0,1113.7 L464.0,1115.0 L466.0,1116.3 L468.0,1117.6 L470.0,1118.9 L472.0,1120.2 L474.0,1121.5 L476.0,1122.8 L478.0,1124.1 L480.0,1125.4 L482.0,1126.6 L484.0,1127.9 L486.0,1129.2 L488.0,1130.5 L490.0,1131.8 L492.0,1133.0 L494.0,1134.3 L496.0,1135.6 L498.0,1136.9 L500.0,1138.1 L502.0,1139.4 L504.0,1140.7 L506.0,1141.9 L508.0,1143.2 L510.0,1144.5 L512.0,1145.7 L514.0,1147.0 L516.0,1148.2 L518.0,1149.5 L520.0,1150.7 L522.0,1152.0 L524.0,1153.2 L526.0,1154.5 L528.0,1155.7 L530.0,1157.0 L532.0,1158.2 L534.0,1159.5 L536.0,1160.7 L538.0,1162.0 L540.0,1163.2 L542.0,1164.4 L544.0,1165.7 L546.0,1166.9 L548.0,1168.2 L550.0,1169.4 L552.0,1170.7 L554.0,1171.9 L556.0,1173.1 L558.0,1174.4 L560.0,1175.6 L562.0,1176.9 L564.0,1178.1 L566.0,1179.4 L568.0,1180.6 L570.0,1181.8 L572.0,1183.1 L574.0,1184.3 L576.0,1185.6 L578.0,1186.8 L580.0,1188.1 L582.0,1189.3 L584.0,1190.5 L586.0,1191.8 L588.0,1193.0 L590.0,1194.3 L592.0,1195.5 L594.0,1196.7 L596.0,1198.0 L598.0,1199.2 L600.0,1200.5 L602.0,1201.7 L604.0,1203.0 L606.0,1204.2 L608.0,1205.4 L610.0,1206.7 L612.0,1207.9 L614.0,1209.2 L616.0,1210.4 L618.0,1211.6 L620.0,1212.9 L622.0,1214.1 L624.0,1215.4 L626.0,1216.6 L628.0,1217.8 L630.0,1219.1 L632.0,1220.3 L634.0,1221.6 L636.0,1222.8 L638.0,1224.0 L640.0,1225.3" fill="none" stroke="#c2c2c2" stroke-width="3.0" stroke-linejoin="round" stroke-linecap="round"/>
<path d="M159.7,1047.7 L162.0,735.6 L162.5,735.7 L163.0,740.0 L163.5,746.3 L164.0,752.7 L164.5,758.9 L165.0,765.1 L165.5,771.2 L166.0,777.2 L166.5,783.2 L167.0,789.0 L167.5,794.8 L168.0,800.5 L168.5,806.1 L169.0,811.6 L169.5,816.9 L170.0,822.2 L170.5,827.3 L171.0,832.3 L171.5,837.2 L172.0,841.9 L172.5,846.5 L173.0,850.9 L173.5,855.2 L174.0,859.4 L174.5,863.4 L175.0,867.2 L175.5,870.9 L176.0,874.4 L176.5,877.8 L177.0,881.0 L177.5,884.1 L178.0,887.1 L178.5,889.9 L179.0,892.6 L179.5,895.1 L180.0,897.6 L180.5,899.9 L181.0,902.1 L181.5,904.1 L182.0,906.1 L182.5,908.0 L183.0,909.7 L183.5,911.4 L184.0,913.0 L184.5,914.5 L185.0,915.9 L185.5,917.2 L186.0,918.5 L186.5,919.7 L187.0,920.8 L187.5,921.9 L188.0,923.0 L188.5,923.9 L189.0,924.9 L189.5,925.8 L190.0,926.6 L192.0,929.7 L194.0,932.3 L196.0,934.6 L198.0,936.7 L200.0,938.5 L202.0,940.3 L204.0,942.0 L206.0,943.6 L208.0,945.2 L210.0,946.8 L212.0,948.3 L214.0,949.8 L216.0,951.3 L218.0,952.7 L220.0,954.2 L222.0,955.6 L224.0,957.1 L226.0,958.5 L228.0,960.0 L230.0,961.4 L232.0,962.8 L234.0,964.2 L236.0,965.7 L238.0,967.1 L240.0,968.5 L242.0,969.9 L244.0,971.3 L246.0,972.7 L248.0,974.1 L250.0,975.5 L252.0,976.9 L254.0,978.3 L256.0,979.7 L258.0,981.1 L260.0,982.5 L262.0,983.9 L264.0,985.4 L266.0,986.8 L268.0,988.2 L270.0,989.6 L272.0,991.0 L274.0,992.4 L276.0,993.8 L278.0,995.2 L280.0,996.6 L282.0,998.0 L284.0,999.4 L286.0,1000.9 L288.0,1002.3 L290.0,1003.7 L292.0,1005.1 L294.0,1006.5 L296.0,1007.9 L298.0,1009.3 L300.0,1010.7 L302.0,1012.1 L304.0,1013.5 L306.0,1014.8 L308.0,1016.2 L310.0,1017.6 L312.0,1019.0 L314.0,1020.4 L316.0,1021.7 L318.0,1023.1 L320.0,1024.5 L322.0,1025.8 L324.0,1027.2 L326.0,1028.6 L328.0,1029.9 L330.0,1031.3 L332.0,1032.6 L334.0,1034.0 L336.0,1035.3 L338.0,1036.7 L340.0,1038.0 L342.0,1039.4 L344.0,1040.7 L346.0,1042.0 L348.0,1043.4 L350.0,1044.7 L352.0,1046.0 L354.0,1047.3 L356.0,1048.7 L358.0,1050.0 L360.0,1051.3 L362.0,1052.6 L364.0,1053.9 L366.0,1055.2 L368.0,1056.5 L370.0,1057.8 L372.0,1059.1 L374.0,1060.4 L376.0,1061.7 L378.0,1063.0 L380.0,1064.3 L382.0,1065.6 L384.0,1066.8 L386.0,1068.1 L388.0,1069.4 L390.0,1070.7 L392.0,1071.9 L394.0,1073.2 L396.0,1074.4 L398.0,1075.7 L400.0,1077.0 L402.0,1078.2 L404.0,1079.5 L406.0,1080.7 L408.0,1082.0 L410.0,1083.2 L412.0,1084.5 L414.0,1085.7 L416.0,1087.0 L418.0,1088.3 L420.0,1089.5 L422.0,1090.8 L424.0,1092.0 L426.0,1093.3 L428.0,1094.6 L430.0,1095.8 L432.0,1097.1 L434.0,1098.3 L436.0,1099.6 L438.0,1100.9 L440.0,1102.1 L442.0,1103.4 L444.0,1104.7 L446.0,1105.9 L448.0,1107.2 L450.0,1108.4 L452.0,1109.7 L454.0,1111.0 L456.0,1112.2 L458.0,1113.5 L460.0,1114.8 L462.0,1116.0 L464.0,1117.3 L466.0,1118.5 L468.0,1119.8 L470.0,1121.1 L472.0,1122.3 L474.0,1123.6 L476.0,1124.8 L478.0,1126.1 L480.0,1127.4 L482.0,1128.6 L484.0,1129.9 L486.0,1131.1 L488.0,1132.4 L490.0,1133.6 L492.0,1134.9 L494.0,1136.1 L496.0,1137.4 L498.0,1138.6 L500.0,1139.9 L502.0,1141.1 L504.0,1142.4 L506.0,1143.6 L508.0,1144.9 L510.0,1146.1 L512.0,1147.3 L514.0,1148.6 L516.0,1149.8 L518.0,1151.0 L520.0,1152.3 L522.0,1153.5 L524.0,1154.7 L526.0,1156.0 L528.0,1157.2 L530.0,1158.4 L532.0,1159.7 L534.0,1160.9 L536.0,1162.2 L538.0,1163.4 L540.0,1164.6 L542.0,1165.9 L544.0,1167.1 L546.0,1168.4 L548.0,1169.6 L550.0,1170.9 L552.0,1172.2 L554.0,1173.4 L556.0,1174.7 L558.0,1175.9 L560.0,1177.2 L562.0,1178.5 L564.0,1179.7 L566.0,1181.0 L568.0,1182.3 L570.0,1183.6 L572.0,1184.8 L574.0,1186.1 L576.0,1187.4 L578.0,1188.7 L580.0,1190.0 L582.0,1191.3 L584.0,1192.5 L586.0,1193.8 L588.0,1195.1 L590.0,1196.4 L592.0,1197.7 L594.0,1199.0 L596.0,1200.3 L598.0,1201.6 L600.0,1202.9 L602.0,1204.2 L604.0,1205.5 L606.0,1206.8 L608.0,1208.1 L610.0,1209.4 L612.0,1210.7 L614.0,1212.0 L616.0,1213.3 L618.0,1214.6 L620.0,1215.9 L622.0,1217.3 L624.0,1218.6 L626.0,1219.9 L628.0,1221.2 L630.0,1222.5 L632.0,1223.8 L634.0,1225.1 L635.0,1225.8" fill="none" stroke="#c2c2c2" stroke-width="3.0" stroke-linejoin="round" stroke-linecap="round"/>
<path d="M159.7,1047.7 L162.0,731.9 L162.5,732.1 L163.0,736.6 L163.5,743.1 L164.0,749.5 L164.5,755.9 L165.0,762.2 L165.5,768.4 L166.0,774.6 L166.5,780.6 L167.0,786.6 L167.5,792.5 L168.0,798.3 L168.5,803.9 L169.0,809.5 L169.5,814.9 L170.0,820.3 L170.5,825.5 L171.0,830.5 L171.5,835.4 L172.0,840.2 L172.5,844.8 L173.0,849.3 L173.5,853.7 L174.0,857.8 L174.5,861.8 L175.0,865.7 L175.5,869.4 L176.0,872.9 L176.5,876.3 L177.0,879.5 L177.5,882.6 L178.0,885.5 L178.5,888.3 L179.0,891.0 L179.5,893.5 L180.0,895.9 L180.5,898.1 L181.0,900.2 L181.5,902.3 L182.0,904.2 L182.5,905.9 L183.0,907.6 L183.5,909.2 L184.0,910.7 L184.5,912.1 L185.0,913.4 L185.5,914.7 L186.0,915.8 L186.5,916.9 L187.0,918.0 L187.5,919.0 L188.0,919.9 L188.5,920.8 L189.0,921.6 L189.5,922.3 L190.0,923.1 L192.0,925.7 L194.0,927.8 L196.0,929.6 L198.0,931.2 L200.0,932.7 L202.0,934.1 L204.0,935.4 L206.0,936.8 L208.0,938.2 L210.0,939.5 L212.0,940.9 L214.0,942.2 L216.0,943.6 L218.0,944.9 L220.0,946.2 L222.0,947.6 L224.0,948.9 L226.0,950.2 L228.0,951.6 L230.0,952.9 L232.0,954.2 L234.0,955.6 L236.0,956.9 L238.0,958.3 L240.0,959.6 L242.0,960.9 L244.0,962.2 L246.0,963.5 L248.0,964.8 L250.0,966.1 L252.0,967.4 L254.0,968.7 L256.0,970.0 L258.0,971.3 L260.0,972.7 L262.0,974.0 L264.0,975.3 L266.0,976.6 L268.0,978.0 L270.0,979.3 L272.0,980.7 L274.0,982.0 L276.0,983.4 L278.0,984.8 L280.0,986.2 L282.0,987.6 L284.0,989.0 L286.0,990.5 L288.0,991.9 L290.0,993.3 L292.0,994.7 L294.0,996.0 L296.0,997.4 L298.0,998.8 L300.0,1000.2 L302.0,1001.6 L304.0,1002.9 L306.0,1004.3 L308.0,1005.7 L310.0,1007.0 L312.0,1008.4 L314.0,1009.7 L316.0,1011.1 L318.0,1012.4 L320.0,1013.8 L322.0,1015.1 L324.0,1016.4 L326.0,1017.8 L328.0,1019.1 L330.0,1020.4 L332.0,1021.8 L334.0,1023.1 L336.0,1024.5 L338.0,1025.8 L340.0,1027.2 L342.0,1028.5 L344.0,1029.9 L346.0,1031.3 L348.0,1032.6 L350.0,1034.0 L352.0,1035.4 L354.0,1036.8 L356.0,1038.1 L358.0,1039.5 L360.0,1040.9 L362.0,1042.3 L364.0,1043.6 L366.0,1045.0 L368.0,1046.4 L370.0,1047.8 L372.0,1049.1 L374.0,1050.5 L376.0,1051.9 L378.0,1053.2 L380.0,1054.6 L382.0,1056.0 L384.0,1057.3 L386.0,1058.7 L388.0,1060.0 L390.0,1061.4 L392.0,1062.7 L394.0,1064.1 L396.0,1065.4 L398.0,1066.7 L400.0,1068.0 L402.0,1069.4 L404.0,1070.7 L406.0,1072.0 L408.0,1073.3 L410.0,1074.6 L412.0,1075.9 L414.0,1077.2 L416.0,1078.5 L418.0,1079.8 L420.0,1081.1 L422.0,1082.4 L424.0,1083.7 L426.0,1085.0 L428.0,1086.3 L430.0,1087.6 L432.0,1088.9 L434.0,1090.2 L436.0,1091.5 L438.0,1092.8 L440.0,1094.1 L442.0,1095.4 L444.0,1096.6 L446.0,1097.9 L448.0,1099.2 L450.0,1100.5 L452.0,1101.8 L454.0,1103.0 L456.0,1104.3 L458.0,1105.6 L460.0,1106.9 L462.0,1108.1 L464.0,1109.4 L466.0,1110.7 L468.0,1112.0 L470.0,1113.2 L472.0,1114.5 L474.0,1115.8 L476.0,1117.0 L478.0,1118.3 L480.0,1119.6 L482.0,1120.8 L484.0,1122.1 L486.0,1123.4 L488.0,1124.6 L490.0,1125.9 L492.0,1127.2 L494.0,1128.4 L496.0,1129.7 L498.0,1130.9 L500.0,1132.2 L502.0,1133.5 L504.0,1134.7 L506.0,1136.0 L508.0,1137.2 L510.0,1138.5 L512.0,1139.8 L514.0,1141.0 L516.0,1142.3 L518.0,1143.5 L520.0,1144.8 L522.0,1146.0 L524.0,1147.3 L526.0,1148.5 L528.0,1149.8 L530.0,1151.1 L532.0,1152.3 L534.0,1153.6 L536.0,1154.9 L538.0,1156.1 L540.0,1157.4 L542.0,1158.7 L544.0,1159.9 L546.0,1161.2 L548.0,1162.5 L550.0,1163.8 L552.0,1165.1 L554.0,1166.4 L556.0,1167.6 L558.0,1168.9 L560.0,1170.2 L562.0,1171.5 L564.0,1172.8 L566.0,1174.1 L568.0,1175.4 L570.0,1176.7 L572.0,1178.0 L574.0,1179.3 L576.0,1180.6 L578.0,1181.9 L580.0,1183.3 L582.0,1184.6 L584.0,1185.9 L586.0,1187.2 L588.0,1188.5 L590.0,1189.8 L592.0,1191.1 L594.0,1192.5 L596.0,1193.8 L598.0,1195.1 L600.0,1196.4 L602.0,1197.8 L604.0,1199.1 L606.0,1200.4 L608.0,1201.8 L610.0,1203.1 L612.0,1204.4 L614.0,1205.8 L616.0,1207.1 L618.0,1208.4 L620.0,1209.8 L622.0,1211.1 L624.0,1212.4 L626.0,1213.8 L628.0,1215.1 L630.0,1216.5 L632.0,1217.8 L634.0,1219.1 L636.0,1220.5 L638.0,1221.8 L640.0,1223.1" fill="none" stroke="#c2c2c2" stroke-width="3.5" stroke-linejoin="round" stroke-linecap="round"/>
<path d="M159.7,1047.7 L162.0,731.9 L162.5,732.1 L163.0,736.6 L163.5,743.1 L164.0,749.6 L164.5,756.0 L165.0,762.4 L165.5,768.6 L166.0,774.8 L166.5,780.9 L167.0,786.9 L167.5,792.8 L168.0,798.7 L168.5,804.4 L169.0,810.0 L169.5,815.4 L170.0,820.8 L170.5,826.0 L171.0,831.1 L171.5,836.0 L172.0,840.8 L172.5,845.5 L173.0,850.0 L173.5,854.4 L174.0,858.5 L174.5,862.6 L175.0,866.4 L175.5,870.1 L176.0,873.7 L176.5,877.1 L177.0,880.3 L177.5,883.4 L178.0,886.3 L178.5,889.1 L179.0,891.8 L179.5,894.3 L180.0,896.7 L180.5,899.0 L181.0,901.1 L181.5,903.2 L182.0,905.1 L182.5,906.9 L183.0,908.6 L183.5,910.2 L184.0,911.8 L184.5,913.2 L185.0,914.6 L185.5,915.9 L186.0,917.1 L186.5,918.2 L187.0,919.3 L187.5,920.3 L188.0,921.3 L188.5,922.2 L189.0,923.1 L189.5,923.9 L190.0,924.7 L192.0,927.5 L194.0,929.8 L196.0,931.8 L198.0,933.6 L200.0,935.2 L202.0,936.8 L204.0,938.3 L206.0,939.8 L208.0,941.2 L210.0,942.7 L212.0,944.1 L214.0,945.5 L216.0,946.9 L218.0,948.3 L220.0,949.6 L222.0,951.0 L224.0,952.4 L226.0,953.8 L228.0,955.2 L230.0,956.5 L232.0,957.9 L234.0,959.3 L236.0,960.7 L238.0,962.1 L240.0,963.4 L242.0,964.8 L244.0,966.1 L246.0,967.5 L248.0,968.8 L250.0,970.2 L252.0,971.5 L254.0,972.9 L256.0,974.2 L258.0,975.6 L260.0,976.9 L262.0,978.3 L264.0,979.6 L266.0,981.0 L268.0,982.3 L270.0,983.7 L272.0,985.1 L274.0,986.5 L276.0,987.9 L278.0,989.3 L280.0,990.7 L282.0,992.1 L284.0,993.5 L286.0,994.9 L288.0,996.3 L290.0,997.7 L292.0,999.1 L294.0,1000.5 L296.0,1001.9 L298.0,1003.3 L300.0,1004.6 L302.0,1006.0 L304.0,1007.4 L306.0,1008.8 L308.0,1010.1 L310.0,1011.5 L312.0,1012.8 L314.0,1014.2 L316.0,1015.5 L318.0,1016.9 L320.0,1018.2 L322.0,1019.6 L324.0,1020.9 L326.0,1022.2 L328.0,1023.6 L330.0,1024.9 L332.0,1026.2 L334.0,1027.6 L336.0,1028.9 L338.0,1030.2 L340.0,1031.6 L342.0,1032.9 L344.0,1034.3 L346.0,1035.6 L348.0,1037.0 L350.0,1038.3 L352.0,1039.7 L354.0,1041.0 L356.0,1042.4 L358.0,1043.7 L360.0,1045.1 L362.0,1046.4 L364.0,1047.8 L366.0,1049.1 L368.0,1050.5 L370.0,1051.8 L372.0,1053.2 L374.0,1054.5 L376.0,1055.9 L378.0,1057.2 L380.0,1058.6 L382.0,1059.9 L384.0,1061.2 L386.0,1062.6 L388.0,1063.9 L390.0,1065.2 L392.0,1066.5 L394.0,1067.8 L396.0,1069.1 L398.0,1070.5 L400.0,1071.8 L402.0,1073.1 L404.0,1074.4 L406.0,1075.6 L408.0,1076.9 L410.0,1078.2 L412.0,1079.5 L414.0,1080.8 L416.0,1082.1 L418.0,1083.4 L420.0,1084.7 L422.0,1086.0 L424.0,1087.3 L426.0,1088.5 L428.0,1089.8 L430.0,1091.1 L432.0,1092.4 L434.0,1093.7 L436.0,1095.0 L438.0,1096.2 L440.0,1097.5 L442.0,1098.8 L444.0,1100.1 L446.0,1101.4 L448.0,1102.6 L450.0,1103.9 L452.0,1105.2 L454.0,1106.5 L456.0,1107.7 L458.0,1109.0 L460.0,1110.3 L462.0,1111.5 L464.0,1112.8 L466.0,1114.1 L468.0,1115.4 L470.0,1116.6 L472.0,1117.9 L474.0,1119.2 L476.0,1120.4 L478.0,1121.7 L480.0,1123.0 L482.0,1124.3 L484.0,1125.5 L486.0,1126.8 L488.0,1128.1 L490.0,1129.3 L492.0,1130.6 L494.0,1131.9 L496.0,1133.2 L498.0,1134.4 L500.0,1135.7 L502.0,1137.0 L504.0,1138.2 L506.0,1139.5 L508.0,1140.8 L510.0,1142.1 L512.0,1143.3 L514.0,1144.6 L516.0,1145.9 L518.0,1147.2 L520.0,1148.4 L522.0,1149.7 L524.0,1151.0 L526.0,1152.3 L528.0,1153.5 L530.0,1154.8 L532.0,1156.1 L534.0,1157.4 L536.0,1158.7 L538.0,1160.0 L540.0,1161.4 L542.0,1162.7 L544.0,1164.0 L546.0,1165.4 L548.0,1166.7 L550.0,1168.0 L552.0,1169.4 L554.0,1170.8 L556.0,1172.1 L558.0,1173.5 L560.0,1174.9 L562.0,1176.3 L564.0,1177.6 L566.0,1179.0 L568.0,1180.4 L570.0,1181.8 L572.0,1183.2 L574.0,1184.6 L576.0,1186.0 L578.0,1187.5 L580.0,1188.9 L582.0,1190.3 L584.0,1191.7 L586.0,1193.2 L588.0,1194.6 L590.0,1196.1 L592.0,1197.5 L594.0,1198.9 L596.0,1200.4 L598.0,1201.8 L600.0,1203.3 L602.0,1204.8 L604.0,1206.2 L606.0,1207.7 L608.0,1209.2 L610.0,1210.6 L612.0,1212.1 L614.0,1213.6 L616.0,1215.1 L618.0,1216.6 L620.0,1218.0 L622.0,1219.5 L624.0,1221.0 L626.0,1222.5 L628.0,1224.0 L630.0,1225.5 L630.4,1225.8" fill="none" stroke="#c2c2c2" stroke-width="3.5" stroke-linejoin="round" stroke-linecap="round"/>
<path d="M159.7,1047.7 L162.0,731.9 L162.5,732.2 L163.0,736.7 L163.5,743.2 L164.0,749.7 L164.5,756.2 L165.0,762.5 L165.5,768.8 L166.0,775.1 L166.5,781.2 L167.0,787.2 L167.5,793.2 L168.0,799.0 L168.5,804.8 L169.0,810.4 L169.5,815.9 L170.0,821.3 L170.5,826.6 L171.0,831.7 L171.5,836.7 L172.0,841.5 L172.5,846.2 L173.0,850.7 L173.5,855.1 L174.0,859.3 L174.5,863.3 L175.0,867.2 L175.5,870.9 L176.0,874.4 L176.5,877.8 L177.0,881.0 L177.5,884.1 L178.0,887.1 L178.5,889.9 L179.0,892.5 L179.5,895.1 L180.0,897.5 L180.5,899.8 L181.0,901.9 L181.5,904.0 L182.0,905.9 L182.5,907.8 L183.0,909.5 L183.5,911.1 L184.0,912.7 L184.5,914.1 L185.0,915.5 L185.5,916.8 L186.0,918.1 L186.5,919.2 L187.0,920.3 L187.5,921.4 L188.0,922.4 L188.5,923.3 L189.0,924.2 L189.5,925.1 L190.0,925.9 L192.0,928.8 L194.0,931.3 L196.0,933.4 L198.0,935.3 L200.0,937.1 L202.0,938.8 L204.0,940.4 L206.0,942.0 L208.0,943.6 L210.0,945.1 L212.0,946.7 L214.0,948.2 L216.0,949.7 L218.0,951.2 L220.0,952.7 L222.0,954.2 L224.0,955.7 L226.0,957.2 L228.0,958.6 L230.0,960.1 L232.0,961.6 L234.0,963.0 L236.0,964.5 L238.0,965.9 L240.0,967.3 L242.0,968.7 L244.0,970.1 L246.0,971.5 L248.0,972.9 L250.0,974.3 L252.0,975.7 L254.0,977.1 L256.0,978.5 L258.0,979.9 L260.0,981.2 L262.0,982.6 L264.0,984.0 L266.0,985.4 L268.0,986.7 L270.0,988.1 L272.0,989.5 L274.0,990.9 L276.0,992.3 L278.0,993.7 L280.0,995.1 L282.0,996.5 L284.0,998.0 L286.0,999.4 L288.0,1000.8 L290.0,1002.2 L292.0,1003.6 L294.0,1005.0 L296.0,1006.3 L298.0,1007.7 L300.0,1009.1 L302.0,1010.5 L304.0,1011.9 L306.0,1013.2 L308.0,1014.6 L310.0,1015.9 L312.0,1017.3 L314.0,1018.7 L316.0,1020.0 L318.0,1021.3 L320.0,1022.7 L322.0,1024.0 L324.0,1025.4 L326.0,1026.7 L328.0,1028.0 L330.0,1029.3 L332.0,1030.7 L334.0,1032.0 L336.0,1033.3 L338.0,1034.7 L340.0,1036.0 L342.0,1037.3 L344.0,1038.7 L346.0,1040.0 L348.0,1041.3 L350.0,1042.6 L352.0,1044.0 L354.0,1045.3 L356.0,1046.6 L358.0,1048.0 L360.0,1049.3 L362.0,1050.6 L364.0,1052.0 L366.0,1053.3 L368.0,1054.6 L370.0,1055.9 L372.0,1057.2 L374.0,1058.6 L376.0,1059.9 L378.0,1061.2 L380.0,1062.5 L382.0,1063.8 L384.0,1065.1 L386.0,1066.4 L388.0,1067.7 L390.0,1069.0 L392.0,1070.3 L394.0,1071.6 L396.0,1072.9 L398.0,1074.2 L400.0,1075.5 L402.0,1076.7 L404.0,1078.0 L406.0,1079.3 L408.0,1080.6 L410.0,1081.9 L412.0,1083.2 L414.0,1084.5 L416.0,1085.8 L418.0,1087.1 L420.0,1088.3 L422.0,1089.6 L424.0,1090.9 L426.0,1092.2 L428.0,1093.5 L430.0,1094.8 L432.0,1096.1 L434.0,1097.4 L436.0,1098.7 L438.0,1100.0 L440.0,1101.3 L442.0,1102.6 L444.0,1103.9 L446.0,1105.2 L448.0,1106.5 L450.0,1107.8 L452.0,1109.1 L454.0,1110.5 L456.0,1111.8 L458.0,1113.1 L460.0,1114.4 L462.0,1115.7 L464.0,1117.0 L466.0,1118.3 L468.0,1119.6 L470.0,1120.9 L472.0,1122.2 L474.0,1123.5 L476.0,1124.8 L478.0,1126.1 L480.0,1127.5 L482.0,1128.8 L484.0,1130.1 L486.0,1131.4 L488.0,1132.7 L490.0,1134.0 L492.0,1135.3 L494.0,1136.6 L496.0,1137.9 L498.0,1139.2 L500.0,1140.5 L502.0,1141.8 L504.0,1143.1 L506.0,1144.4 L508.0,1145.7 L510.0,1147.1 L512.0,1148.4 L514.0,1149.7 L516.0,1151.0 L518.0,1152.3 L520.0,1153.6 L522.0,1154.9 L524.0,1156.2 L526.0,1157.5 L528.0,1158.8 L530.0,1160.1 L532.0,1161.4 L534.0,1162.7 L536.0,1164.0 L538.0,1165.3 L540.0,1166.7 L542.0,1168.0 L544.0,1169.4 L546.0,1170.7 L548.0,1172.0 L550.0,1173.4 L552.0,1174.8 L554.0,1176.1 L556.0,1177.5 L558.0,1178.9 L560.0,1180.2 L562.0,1181.6 L564.0,1183.0 L566.0,1184.4 L568.0,1185.8 L570.0,1187.2 L572.0,1188.6 L574.0,1190.0 L576.0,1191.4 L578.0,1192.8 L580.0,1194.2 L582.0,1195.6 L584.0,1197.0 L586.0,1198.5 L588.0,1199.9 L590.0,1201.3 L592.0,1202.7 L594.0,1204.2 L596.0,1205.6 L598.0,1207.0 L600.0,1208.5 L602.0,1209.9 L604.0,1211.3 L606.0,1212.8 L608.0,1214.2 L610.0,1215.7 L612.0,1217.1 L614.0,1218.6 L616.0,1220.0 L618.0,1221.5 L620.0,1222.9 L622.0,1224.4 L623.9,1225.8" fill="none" stroke="#c2c2c2" stroke-width="3.5" stroke-linejoin="round" stroke-linecap="round"/>
<path d="M159.7,1047.7 L162.0,739.3 L162.5,739.3 L163.0,743.6 L163.5,750.0 L164.0,756.2 L164.5,762.4 L165.0,768.6 L165.5,774.6 L166.0,780.6 L166.5,786.5 L167.0,792.4 L167.5,798.1 L168.0,803.7 L168.5,809.3 L169.0,814.7 L169.5,820.1 L170.0,825.3 L170.5,830.4 L171.0,835.3 L171.5,840.2 L172.0,844.9 L172.5,849.4 L173.0,853.9 L173.5,858.2 L174.0,862.3 L174.5,866.3 L175.0,870.1 L175.5,873.8 L176.0,877.4 L176.5,880.8 L177.0,884.0 L177.5,887.2 L178.0,890.1 L178.5,893.0 L179.0,895.7 L179.5,898.3 L180.0,900.7 L180.5,903.0 L181.0,905.3 L181.5,907.3 L182.0,909.3 L182.5,911.2 L183.0,913.0 L183.5,914.7 L184.0,916.3 L184.5,917.8 L185.0,919.3 L185.5,920.6 L186.0,921.9 L186.5,923.2 L187.0,924.3 L187.5,925.4 L188.0,926.5 L188.5,927.5 L189.0,928.5 L189.5,929.4 L190.0,930.3 L192.0,933.4 L194.0,936.2 L196.0,938.6 L198.0,940.7 L200.0,942.7 L202.0,944.6 L204.0,946.4 L206.0,948.2 L208.0,949.9 L210.0,951.5 L212.0,953.2 L214.0,954.8 L216.0,956.4 L218.0,958.0 L220.0,959.6 L222.0,961.1 L224.0,962.7 L226.0,964.3 L228.0,965.8 L230.0,967.4 L232.0,968.9 L234.0,970.5 L236.0,972.0 L238.0,973.5 L240.0,975.0 L242.0,976.6 L244.0,978.1 L246.0,979.6 L248.0,981.1 L250.0,982.6 L252.0,984.1 L254.0,985.6 L256.0,987.1 L258.0,988.6 L260.0,990.1 L262.0,991.6 L264.0,993.1 L266.0,994.5 L268.0,996.0 L270.0,997.5 L272.0,998.9 L274.0,1000.4 L276.0,1001.9 L278.0,1003.3 L280.0,1004.8 L282.0,1006.2 L284.0,1007.7 L286.0,1009.1 L288.0,1010.6 L290.0,1012.0 L292.0,1013.5 L294.0,1014.9 L296.0,1016.3 L298.0,1017.7 L300.0,1019.1 L302.0,1020.6 L304.0,1022.0 L306.0,1023.4 L308.0,1024.8 L310.0,1026.2 L312.0,1027.6 L314.0,1028.9 L316.0,1030.3 L318.0,1031.7 L320.0,1033.1 L322.0,1034.5 L324.0,1035.8 L326.0,1037.2 L328.0,1038.6 L330.0,1039.9 L332.0,1041.3 L334.0,1042.6 L336.0,1044.0 L338.0,1045.3 L340.0,1046.6 L342.0,1048.0 L344.0,1049.3 L346.0,1050.6 L348.0,1051.9 L350.0,1053.3 L352.0,1054.6 L354.0,1055.9 L356.0,1057.2 L358.0,1058.5 L360.0,1059.8 L362.0,1061.1 L364.0,1062.4 L366.0,1063.7 L368.0,1065.0 L370.0,1066.3 L372.0,1067.5 L374.0,1068.8 L376.0,1070.1 L378.0,1071.4 L380.0,1072.6 L382.0,1073.9 L384.0,1075.2 L386.0,1076.4 L388.0,1077.7 L390.0,1078.9 L392.0,1080.2 L394.0,1081.4 L396.0,1082.6 L398.0,1083.9 L400.0,1085.1 L402.0,1086.4 L404.0,1087.6 L406.0,1088.8 L408.0,1090.0 L410.0,1091.3 L412.0,1092.5 L414.0,1093.7 L416.0,1094.9 L418.0,1096.1 L420.0,1097.3 L422.0,1098.5 L424.0,1099.7 L426.0,1100.9 L428.0,1102.1 L430.0,1103.3 L432.0,1104.5 L434.0,1105.6 L436.0,1106.8 L438.0,1108.0 L440.0,1109.2 L442.0,1110.3 L444.0,1111.5 L446.0,1112.7 L448.0,1113.8 L450.0,1115.0 L452.0,1116.2 L454.0,1117.3 L456.0,1118.5 L458.0,1119.6 L460.0,1120.8 L462.0,1121.9 L464.0,1123.1 L466.0,1124.2 L468.0,1125.3 L470.0,1126.5 L472.0,1127.6 L474.0,1128.7 L476.0,1129.9 L478.0,1131.0 L480.0,1132.1 L482.0,1133.2 L484.0,1134.4 L486.0,1135.5 L488.0,1136.6 L490.0,1137.7 L492.0,1138.8 L494.0,1139.9 L496.0,1141.0 L498.0,1142.1 L500.0,1143.3 L502.0,1144.4 L504.0,1145.5 L506.0,1146.6 L508.0,1147.7 L510.0,1148.7 L512.0,1149.8 L514.0,1150.9 L516.0,1152.0 L518.0,1153.1 L520.0,1154.2 L522.0,1155.3 L524.0,1156.4 L526.0,1157.5 L528.0,1158.5 L530.0,1159.6 L532.0,1160.7 L534.0,1161.8 L536.0,1162.9 L538.0,1163.9 L540.0,1165.0 L542.0,1166.1 L544.0,1167.2 L546.0,1168.2 L548.0,1169.3 L550.0,1170.4 L552.0,1171.4 L554.0,1172.5 L556.0,1173.6 L558.0,1174.7 L560.0,1175.7 L562.0,1176.8 L564.0,1177.8 L566.0,1178.9 L568.0,1180.0 L570.0,1181.0 L572.0,1182.1 L574.0,1183.2 L576.0,1184.2 L578.0,1185.3 L580.0,1186.3 L582.0,1187.4 L584.0,1188.4 L586.0,1189.5 L588.0,1190.5 L590.0,1191.6 L592.0,1192.6 L594.0,1193.7 L596.0,1194.7 L598.0,1195.8 L600.0,1196.8 L602.0,1197.9 L604.0,1198.9 L606.0,1200.0 L608.0,1201.0 L610.0,1202.1 L612.0,1203.1 L614.0,1204.2 L616.0,1205.2 L618.0,1206.2 L620.0,1207.3 L622.0,1208.3 L624.0,1209.4 L626.0,1210.4 L628.0,1211.4 L630.0,1212.5 L632.0,1213.5 L634.0,1214.6 L636.0,1215.6 L638.0,1216.6 L640.0,1217.6" fill="none" stroke="#c2c2c2" stroke-width="2.2" stroke-linejoin="round" stroke-linecap="round"/>
<path d="M159.7,1047.7 L162.0,743.0 L162.5,742.9 L163.0,747.1 L163.5,753.3 L164.0,759.4 L164.5,765.5 L165.0,771.5 L165.5,777.4 L166.0,783.3 L166.5,789.1 L167.0,794.8 L167.5,800.4 L168.0,805.9 L168.5,811.3 L169.0,816.6 L169.5,821.8 L170.0,826.9 L170.5,831.9 L171.0,836.7 L171.5,841.5 L172.0,846.1 L172.5,850.6 L173.0,854.9 L173.5,859.1 L174.0,863.2 L174.5,867.1 L175.0,870.9 L175.5,874.6 L176.0,878.1 L176.5,881.5 L177.0,884.7 L177.5,887.8 L178.0,890.8 L178.5,893.6 L179.0,896.3 L179.5,898.9 L180.0,901.3 L180.5,903.6 L181.0,905.8 L181.5,907.9 L182.0,909.9 L182.5,911.7 L183.0,913.5 L183.5,915.2 L184.0,916.8 L184.5,918.3 L185.0,919.7 L185.5,921.1 L186.0,922.3 L186.5,923.6 L187.0,924.7 L187.5,925.8 L188.0,926.9 L188.5,927.9 L189.0,928.8 L189.5,929.7 L190.0,930.6 L192.0,933.8 L194.0,936.5 L196.0,938.9 L198.0,941.0 L200.0,943.0 L202.0,944.9 L204.0,946.8 L206.0,948.5 L208.0,950.2 L210.0,951.9 L212.0,953.6 L214.0,955.2 L216.0,956.9 L218.0,958.5 L220.0,960.2 L222.0,961.8 L224.0,963.4 L226.0,965.0 L228.0,966.6 L230.0,968.2 L232.0,969.8 L234.0,971.5 L236.0,973.1 L238.0,974.6 L240.0,976.2 L242.0,977.8 L244.0,979.4 L246.0,981.0 L248.0,982.6 L250.0,984.1 L252.0,985.7 L254.0,987.3 L256.0,988.8 L258.0,990.4 L260.0,991.9 L262.0,993.5 L264.0,995.0 L266.0,996.5 L268.0,998.0 L270.0,999.5 L272.0,1001.1 L274.0,1002.6 L276.0,1004.1 L278.0,1005.5 L280.0,1007.0 L282.0,1008.5 L284.0,1010.0 L286.0,1011.4 L288.0,1012.9 L290.0,1014.3 L292.0,1015.8 L294.0,1017.2 L296.0,1018.7 L298.0,1020.1 L300.0,1021.5 L302.0,1022.9 L304.0,1024.4 L306.0,1025.8 L308.0,1027.2 L310.0,1028.6 L312.0,1030.0 L314.0,1031.4 L316.0,1032.8 L318.0,1034.2 L320.0,1035.6 L322.0,1037.0 L324.0,1038.3 L326.0,1039.7 L328.0,1041.1 L330.0,1042.4 L332.0,1043.8 L334.0,1045.2 L336.0,1046.5 L338.0,1047.9 L340.0,1049.2 L342.0,1050.5 L344.0,1051.9 L346.0,1053.2 L348.0,1054.5 L350.0,1055.9 L352.0,1057.2 L354.0,1058.5 L356.0,1059.8 L358.0,1061.1 L360.0,1062.5 L362.0,1063.8 L364.0,1065.1 L366.0,1066.4 L368.0,1067.7 L370.0,1069.0 L372.0,1070.3 L374.0,1071.6 L376.0,1072.8 L378.0,1074.1 L380.0,1075.4 L382.0,1076.7 L384.0,1078.0 L386.0,1079.2 L388.0,1080.5 L390.0,1081.8 L392.0,1083.0 L394.0,1084.3 L396.0,1085.6 L398.0,1086.8 L400.0,1088.1 L402.0,1089.3 L404.0,1090.6 L406.0,1091.9 L408.0,1093.1 L410.0,1094.4 L412.0,1095.6 L414.0,1096.9 L416.0,1098.1 L418.0,1099.4 L420.0,1100.6 L422.0,1101.9 L424.0,1103.1 L426.0,1104.3 L428.0,1105.6 L430.0,1106.8 L432.0,1108.1 L434.0,1109.3 L436.0,1110.5 L438.0,1111.8 L440.0,1113.0 L442.0,1114.2 L444.0,1115.4 L446.0,1116.7 L448.0,1117.9 L450.0,1119.1 L452.0,1120.3 L454.0,1121.5 L456.0,1122.8 L458.0,1124.0 L460.0,1125.2 L462.0,1126.4 L464.0,1127.6 L466.0,1128.8 L468.0,1130.0 L470.0,1131.2 L472.0,1132.4 L474.0,1133.6 L476.0,1134.7 L478.0,1135.9 L480.0,1137.1 L482.0,1138.3 L484.0,1139.5 L486.0,1140.6 L488.0,1141.8 L490.0,1143.0 L492.0,1144.1 L494.0,1145.3 L496.0,1146.5 L498.0,1147.6 L500.0,1148.8 L502.0,1149.9 L504.0,1151.1 L506.0,1152.2 L508.0,1153.3 L510.0,1154.5 L512.0,1155.6 L514.0,1156.7 L516.0,1157.8 L518.0,1159.0 L520.0,1160.1 L522.0,1161.2 L524.0,1162.3 L526.0,1163.4 L528.0,1164.5 L530.0,1165.6 L532.0,1166.7 L534.0,1167.8 L536.0,1168.9 L538.0,1170.0 L540.0,1171.1 L542.0,1172.1 L544.0,1173.2 L546.0,1174.3 L548.0,1175.4 L550.0,1176.4 L552.0,1177.5 L554.0,1178.6 L556.0,1179.7 L558.0,1180.7 L560.0,1181.8 L562.0,1182.9 L564.0,1183.9 L566.0,1185.0 L568.0,1186.0 L570.0,1187.1 L572.0,1188.1 L574.0,1189.2 L576.0,1190.2 L578.0,1191.3 L580.0,1192.3 L582.0,1193.4 L584.0,1194.4 L586.0,1195.4 L588.0,1196.5 L590.0,1197.5 L592.0,1198.6 L594.0,1199.6 L596.0,1200.6 L598.0,1201.6 L600.0,1202.7 L602.0,1203.7 L604.0,1204.7 L606.0,1205.7 L608.0,1206.7 L610.0,1207.8 L612.0,1208.8 L614.0,1209.8 L616.0,1210.8 L618.0,1211.8 L620.0,1212.8 L622.0,1213.8 L624.0,1214.8 L626.0,1215.8 L628.0,1216.8 L630.0,1217.8 L632.0,1218.8 L634.0,1219.8 L636.0,1220.8 L638.0,1221.8 L640.0,1222.8" fill="none" stroke="#c2c2c2" stroke-width="2.2" stroke-linejoin="round" stroke-linecap="round"/>
<path d="M159.7,1047.7 L162.0,743.0 L162.5,743.0 L163.0,747.2 L163.5,753.4 L164.0,759.6 L164.5,765.7 L165.0,771.7 L165.5,777.7 L166.0,783.6 L166.5,789.4 L167.0,795.1 L167.5,800.7 L168.0,806.3 L168.5,811.7 L169.0,817.1 L169.5,822.3 L170.0,827.4 L170.5,832.5 L171.0,837.3 L171.5,842.1 L172.0,846.7 L172.5,851.2 L173.0,855.6 L173.5,859.8 L174.0,863.9 L174.5,867.9 L175.0,871.7 L175.5,875.3 L176.0,878.9 L176.5,882.3 L177.0,885.5 L177.5,888.6 L178.0,891.5 L178.5,894.4 L179.0,897.1 L179.5,899.6 L180.0,902.1 L180.5,904.4 L181.0,906.6 L181.5,908.6 L182.0,910.6 L182.5,912.5 L183.0,914.3 L183.5,915.9 L184.0,917.5 L184.5,919.0 L185.0,920.5 L185.5,921.8 L186.0,923.1 L186.5,924.3 L187.0,925.5 L187.5,926.6 L188.0,927.7 L188.5,928.7 L189.0,929.6 L189.5,930.5 L190.0,931.4 L192.0,934.6 L194.0,937.3 L196.0,939.7 L198.0,941.9 L200.0,944.0 L202.0,945.9 L204.0,947.8 L206.0,949.6 L208.0,951.3 L210.0,953.0 L212.0,954.8 L214.0,956.5 L216.0,958.1 L218.0,959.8 L220.0,961.5 L222.0,963.2 L224.0,964.8 L226.0,966.5 L228.0,968.2 L230.0,969.8 L232.0,971.5 L234.0,973.2 L236.0,974.8 L238.0,976.5 L240.0,978.1 L242.0,979.8 L244.0,981.4 L246.0,983.0 L248.0,984.7 L250.0,986.3 L252.0,987.9 L254.0,989.5 L256.0,991.2 L258.0,992.8 L260.0,994.4 L262.0,996.0 L264.0,997.5 L266.0,999.1 L268.0,1000.7 L270.0,1002.3 L272.0,1003.8 L274.0,1005.4 L276.0,1006.9 L278.0,1008.5 L280.0,1010.0 L282.0,1011.5 L284.0,1013.0 L286.0,1014.5 L288.0,1016.0 L290.0,1017.6 L292.0,1019.1 L294.0,1020.5 L296.0,1022.0 L298.0,1023.5 L300.0,1025.0 L302.0,1026.5 L304.0,1028.0 L306.0,1029.4 L308.0,1030.9 L310.0,1032.4 L312.0,1033.8 L314.0,1035.3 L316.0,1036.7 L318.0,1038.2 L320.0,1039.6 L322.0,1041.1 L324.0,1042.5 L326.0,1043.9 L328.0,1045.4 L330.0,1046.8 L332.0,1048.2 L334.0,1049.6 L336.0,1051.0 L338.0,1052.4 L340.0,1053.8 L342.0,1055.2 L344.0,1056.6 L346.0,1058.0 L348.0,1059.4 L350.0,1060.8 L352.0,1062.1 L354.0,1063.5 L356.0,1064.9 L358.0,1066.3 L360.0,1067.6 L362.0,1069.0 L364.0,1070.3 L366.0,1071.7 L368.0,1073.0 L370.0,1074.4 L372.0,1075.7 L374.0,1077.0 L376.0,1078.4 L378.0,1079.7 L380.0,1081.0 L382.0,1082.3 L384.0,1083.7 L386.0,1085.0 L388.0,1086.3 L390.0,1087.6 L392.0,1088.9 L394.0,1090.2 L396.0,1091.5 L398.0,1092.7 L400.0,1094.0 L402.0,1095.3 L404.0,1096.6 L406.0,1097.9 L408.0,1099.1 L410.0,1100.4 L412.0,1101.7 L414.0,1102.9 L416.0,1104.2 L418.0,1105.4 L420.0,1106.7 L422.0,1107.9 L424.0,1109.1 L426.0,1110.4 L428.0,1111.6 L430.0,1112.8 L432.0,1114.1 L434.0,1115.3 L436.0,1116.5 L438.0,1117.7 L440.0,1118.9 L442.0,1120.1 L444.0,1121.3 L446.0,1122.6 L448.0,1123.8 L450.0,1124.9 L452.0,1126.1 L454.0,1127.3 L456.0,1128.5 L458.0,1129.7 L460.0,1130.9 L462.0,1132.1 L464.0,1133.2 L466.0,1134.4 L468.0,1135.6 L470.0,1136.8 L472.0,1137.9 L474.0,1139.1 L476.0,1140.2 L478.0,1141.4 L480.0,1142.6 L482.0,1143.7 L484.0,1144.9 L486.0,1146.0 L488.0,1147.2 L490.0,1148.3 L492.0,1149.4 L494.0,1150.6 L496.0,1151.7 L498.0,1152.9 L500.0,1154.0 L502.0,1155.1 L504.0,1156.3 L506.0,1157.4 L508.0,1158.5 L510.0,1159.6 L512.0,1160.8 L514.0,1161.9 L516.0,1163.0 L518.0,1164.1 L520.0,1165.3 L522.0,1166.4 L524.0,1167.5 L526.0,1168.6 L528.0,1169.7 L530.0,1170.8 L532.0,1171.9 L534.0,1173.0 L536.0,1174.1 L538.0,1175.3 L540.0,1176.4 L542.0,1177.5 L544.0,1178.6 L546.0,1179.7 L548.0,1180.7 L550.0,1181.8 L552.0,1182.9 L554.0,1184.0 L556.0,1185.1 L558.0,1186.2 L560.0,1187.3 L562.0,1188.4 L564.0,1189.5 L566.0,1190.6 L568.0,1191.6 L570.0,1192.7 L572.0,1193.8 L574.0,1194.9 L576.0,1196.0 L578.0,1197.0 L580.0,1198.1 L582.0,1199.2 L584.0,1200.3 L586.0,1201.3 L588.0,1202.4 L590.0,1203.5 L592.0,1204.5 L594.0,1205.6 L596.0,1206.7 L598.0,1207.7 L600.0,1208.8 L602.0,1209.9 L604.0,1210.9 L606.0,1212.0 L608.0,1213.0 L610.0,1214.1 L612.0,1215.2 L614.0,1216.2 L616.0,1217.3 L618.0,1218.3 L620.0,1219.4 L622.0,1220.4 L624.0,1221.5 L626.0,1222.5 L628.0,1223.6 L630.0,1224.6 L632.0,1225.7 L632.2,1225.8" fill="none" stroke="#c2c2c2" stroke-width="2.5" stroke-linejoin="round" stroke-linecap="round"/>
<path d="M159.7,1047.7 L162.0,745.2 L162.5,745.1 L163.0,749.3 L163.5,755.4 L164.0,761.5 L164.5,767.6 L165.0,773.5 L165.5,779.4 L166.0,785.2 L166.5,791.0 L167.0,796.6 L167.5,802.2 L168.0,807.7 L168.5,813.1 L169.0,818.4 L169.5,823.5 L170.0,828.6 L170.5,833.5 L171.0,838.4 L171.5,843.1 L172.0,847.7 L172.5,852.1 L173.0,856.5 L173.5,860.7 L174.0,864.7 L174.5,868.6 L175.0,872.4 L175.5,876.1 L176.0,879.6 L176.5,883.0 L177.0,886.2 L177.5,889.3 L178.0,892.3 L178.5,895.1 L179.0,897.8 L179.5,900.4 L180.0,902.8 L180.5,905.1 L181.0,907.3 L181.5,909.4 L182.0,911.4 L182.5,913.2 L183.0,915.0 L183.5,916.7 L184.0,918.3 L184.5,919.8 L185.0,921.2 L185.5,922.6 L186.0,923.9 L186.5,925.1 L187.0,926.3 L187.5,927.4 L188.0,928.5 L188.5,929.5 L189.0,930.4 L189.5,931.3 L190.0,932.2 L192.0,935.4 L194.0,938.1 L196.0,940.6 L198.0,942.8 L200.0,944.9 L202.0,946.8 L204.0,948.7 L206.0,950.5 L208.0,952.3 L210.0,954.1 L212.0,955.8 L214.0,957.5 L216.0,959.3 L218.0,961.0 L220.0,962.7 L222.0,964.4 L224.0,966.1 L226.0,967.8 L228.0,969.5 L230.0,971.2 L232.0,972.9 L234.0,974.6 L236.0,976.3 L238.0,978.0 L240.0,979.7 L242.0,981.3 L244.0,983.0 L246.0,984.7 L248.0,986.4 L250.0,988.0 L252.0,989.7 L254.0,991.3 L256.0,993.0 L258.0,994.6 L260.0,996.3 L262.0,997.9 L264.0,999.5 L266.0,1001.1 L268.0,1002.7 L270.0,1004.3 L272.0,1005.9 L274.0,1007.5 L276.0,1009.1 L278.0,1010.7 L280.0,1012.2 L282.0,1013.8 L284.0,1015.3 L286.0,1016.8 L288.0,1018.4 L290.0,1019.9 L292.0,1021.4 L294.0,1023.0 L296.0,1024.5 L298.0,1026.0 L300.0,1027.5 L302.0,1029.0 L304.0,1030.5 L306.0,1032.0 L308.0,1033.5 L310.0,1035.0 L312.0,1036.5 L314.0,1038.0 L316.0,1039.5 L318.0,1041.0 L320.0,1042.4 L322.0,1043.9 L324.0,1045.4 L326.0,1046.8 L328.0,1048.3 L330.0,1049.7 L332.0,1051.2 L334.0,1052.6 L336.0,1054.1 L338.0,1055.5 L340.0,1056.9 L342.0,1058.3 L344.0,1059.8 L346.0,1061.2 L348.0,1062.6 L350.0,1064.0 L352.0,1065.4 L354.0,1066.8 L356.0,1068.2 L358.0,1069.6 L360.0,1071.0 L362.0,1072.4 L364.0,1073.7 L366.0,1075.1 L368.0,1076.5 L370.0,1077.8 L372.0,1079.2 L374.0,1080.6 L376.0,1081.9 L378.0,1083.3 L380.0,1084.6 L382.0,1085.9 L384.0,1087.3 L386.0,1088.6 L388.0,1089.9 L390.0,1091.2 L392.0,1092.5 L394.0,1093.8 L396.0,1095.2 L398.0,1096.5 L400.0,1097.7 L402.0,1099.0 L404.0,1100.3 L406.0,1101.6 L408.0,1102.9 L410.0,1104.1 L412.0,1105.4 L414.0,1106.7 L416.0,1107.9 L418.0,1109.2 L420.0,1110.4 L422.0,1111.7 L424.0,1112.9 L426.0,1114.2 L428.0,1115.4 L430.0,1116.6 L432.0,1117.9 L434.0,1119.1 L436.0,1120.3 L438.0,1121.5 L440.0,1122.7 L442.0,1123.9 L444.0,1125.1 L446.0,1126.3 L448.0,1127.5 L450.0,1128.7 L452.0,1129.9 L454.0,1131.1 L456.0,1132.3 L458.0,1133.5 L460.0,1134.7 L462.0,1135.8 L464.0,1137.0 L466.0,1138.2 L468.0,1139.3 L470.0,1140.5 L472.0,1141.7 L474.0,1142.8 L476.0,1144.0 L478.0,1145.2 L480.0,1146.3 L482.0,1147.5 L484.0,1148.6 L486.0,1149.7 L488.0,1150.9 L490.0,1152.0 L492.0,1153.2 L494.0,1154.3 L496.0,1155.5 L498.0,1156.6 L500.0,1157.7 L502.0,1158.8 L504.0,1160.0 L506.0,1161.1 L508.0,1162.2 L510.0,1163.4 L512.0,1164.5 L514.0,1165.6 L516.0,1166.7 L518.0,1167.8 L520.0,1169.0 L522.0,1170.1 L524.0,1171.2 L526.0,1172.3 L528.0,1173.4 L530.0,1174.5 L532.0,1175.7 L534.0,1176.8 L536.0,1177.9 L538.0,1179.0 L540.0,1180.1 L542.0,1181.2 L544.0,1182.3 L546.0,1183.4 L548.0,1184.5 L550.0,1185.6 L552.0,1186.7 L554.0,1187.8 L556.0,1188.9 L558.0,1190.0 L560.0,1191.1 L562.0,1192.2 L564.0,1193.2 L566.0,1194.3 L568.0,1195.4 L570.0,1196.5 L572.0,1197.6 L574.0,1198.7 L576.0,1199.8 L578.0,1200.8 L580.0,1201.9 L582.0,1203.0 L584.0,1204.1 L586.0,1205.1 L588.0,1206.2 L590.0,1207.3 L592.0,1208.4 L594.0,1209.4 L596.0,1210.5 L598.0,1211.6 L600.0,1212.7 L602.0,1213.7 L604.0,1214.8 L606.0,1215.9 L608.0,1216.9 L610.0,1218.0 L612.0,1219.0 L614.0,1220.1 L616.0,1221.2 L618.0,1222.2 L620.0,1223.3 L622.0,1224.3 L624.0,1225.4 L624.8,1225.8" fill="none" stroke="#c2c2c2" stroke-width="3.0" stroke-linejoin="round" stroke-linecap="round"/>
<path d="M159.7,1047.7 L162.0,746.7 L162.5,746.7 L163.0,750.9 L163.5,757.2 L164.0,763.4 L164.5,769.5 L165.0,775.6 L165.5,781.6 L166.0,787.6 L166.5,793.4 L167.0,799.2 L167.5,804.8 L168.0,810.4 L168.5,815.9 L169.0,821.3 L169.5,826.6 L170.0,831.7 L170.5,836.7 L171.0,841.7 L171.5,846.4 L172.0,851.1 L172.5,855.6 L173.0,860.0 L173.5,864.3 L174.0,868.4 L174.5,872.3 L175.0,876.1 L175.5,879.8 L176.0,883.3 L176.5,886.7 L177.0,889.9 L177.5,893.0 L178.0,896.0 L178.5,898.8 L179.0,901.5 L179.5,904.1 L180.0,906.5 L180.5,908.9 L181.0,911.1 L181.5,913.1 L182.0,915.1 L182.5,917.0 L183.0,918.8 L183.5,920.5 L184.0,922.1 L184.5,923.6 L185.0,925.1 L185.5,926.4 L186.0,927.7 L186.5,929.0 L187.0,930.2 L187.5,931.3 L188.0,932.4 L188.5,933.4 L189.0,934.4 L189.5,935.3 L190.0,936.2 L192.0,939.4 L194.0,942.3 L196.0,944.8 L198.0,947.1 L200.0,949.3 L202.0,951.4 L204.0,953.4 L206.0,955.3 L208.0,957.2 L210.0,959.1 L212.0,961.0 L214.0,962.9 L216.0,964.8 L218.0,966.7 L220.0,968.5 L222.0,970.4 L224.0,972.3 L226.0,974.2 L228.0,976.1 L230.0,977.9 L232.0,979.8 L234.0,981.7 L236.0,983.6 L238.0,985.5 L240.0,987.3 L242.0,989.2 L244.0,991.1 L246.0,992.9 L248.0,994.8 L250.0,996.7 L252.0,998.5 L254.0,1000.3 L256.0,1002.2 L258.0,1004.0 L260.0,1005.8 L262.0,1007.6 L264.0,1009.4 L266.0,1011.2 L268.0,1013.0 L270.0,1014.8 L272.0,1016.5 L274.0,1018.2 L276.0,1020.0 L278.0,1021.7 L280.0,1023.4 L282.0,1025.0 L284.0,1026.7 L286.0,1028.4 L288.0,1030.0 L290.0,1031.7 L292.0,1033.3 L294.0,1035.0 L296.0,1036.6 L298.0,1038.2 L300.0,1039.8 L302.0,1041.5 L304.0,1043.1 L306.0,1044.7 L308.0,1046.3 L310.0,1047.9 L312.0,1049.4 L314.0,1051.0 L316.0,1052.6 L318.0,1054.2 L320.0,1055.7 L322.0,1057.3 L324.0,1058.9 L326.0,1060.4 L328.0,1062.0 L330.0,1063.5 L332.0,1065.1 L334.0,1066.6 L336.0,1068.1 L338.0,1069.7 L340.0,1071.2 L342.0,1072.7 L344.0,1074.2 L346.0,1075.8 L348.0,1077.3 L350.0,1078.8 L352.0,1080.3 L354.0,1081.8 L356.0,1083.3 L358.0,1084.8 L360.0,1086.3 L362.0,1087.9 L364.0,1089.4 L366.0,1090.9 L368.0,1092.4 L370.0,1093.9 L372.0,1095.4 L374.0,1096.8 L376.0,1098.3 L378.0,1099.8 L380.0,1101.3 L382.0,1102.8 L384.0,1104.3 L386.0,1105.8 L388.0,1107.3 L390.0,1108.8 L392.0,1110.3 L394.0,1111.8 L396.0,1113.3 L398.0,1114.8 L400.0,1116.3 L402.0,1117.8 L404.0,1119.3 L406.0,1120.8 L408.0,1122.3 L410.0,1123.8 L412.0,1125.3 L414.0,1126.8 L416.0,1128.3 L418.0,1129.8 L420.0,1131.3 L422.0,1132.8 L424.0,1134.3 L426.0,1135.9 L428.0,1137.4 L430.0,1138.9 L432.0,1140.4 L434.0,1141.9 L436.0,1143.4 L438.0,1144.9 L440.0,1146.4 L442.0,1147.9 L444.0,1149.4 L446.0,1150.9 L448.0,1152.4 L450.0,1153.9 L452.0,1155.4 L454.0,1156.9 L456.0,1158.4 L458.0,1159.9 L460.0,1161.4 L462.0,1163.0 L464.0,1164.5 L466.0,1166.0 L468.0,1167.5 L470.0,1169.0 L472.0,1170.5 L474.0,1172.0 L476.0,1173.5 L478.0,1175.0 L480.0,1176.5 L482.0,1178.0 L484.0,1179.6 L486.0,1181.1 L488.0,1182.6 L490.0,1184.1 L492.0,1185.6 L494.0,1187.1 L496.0,1188.6 L498.0,1190.1 L500.0,1191.7 L502.0,1193.2 L504.0,1194.7 L506.0,1196.2 L508.0,1197.7 L510.0,1199.2 L512.0,1200.7 L514.0,1202.2 L516.0,1203.8 L518.0,1205.3 L520.0,1206.8 L522.0,1208.3 L524.0,1209.8 L526.0,1211.3 L528.0,1212.9 L530.0,1214.4 L532.0,1215.9 L534.0,1217.4 L536.0,1218.9 L538.0,1220.4 L540.0,1222.0 L542.0,1223.5 L544.0,1225.0 L545.1,1225.8" fill="none" stroke="#c2c2c2" stroke-width="2.5" stroke-linejoin="round" stroke-linecap="round"/>
<path d="M159.7,1047.7 L162.0,746.7 L162.5,746.8 L163.0,751.0 L163.5,757.3 L164.0,763.6 L164.5,769.8 L165.0,775.9 L165.5,782.0 L166.0,787.9 L166.5,793.8 L167.0,799.7 L167.5,805.4 L168.0,811.0 L168.5,816.6 L169.0,822.0 L169.5,827.3 L170.0,832.5 L170.5,837.6 L171.0,842.6 L171.5,847.4 L172.0,852.1 L172.5,856.7 L173.0,861.1 L173.5,865.4 L174.0,869.6 L174.5,873.6 L175.0,877.5 L175.5,881.2 L176.0,884.8 L176.5,888.3 L177.0,891.6 L177.5,894.7 L178.0,897.7 L178.5,900.6 L179.0,903.4 L179.5,906.0 L180.0,908.5 L180.5,910.9 L181.0,913.1 L181.5,915.3 L182.0,917.3 L182.5,919.2 L183.0,921.1 L183.5,922.8 L184.0,924.4 L184.5,926.0 L185.0,927.5 L185.5,928.9 L186.0,930.3 L186.5,931.6 L187.0,932.8 L187.5,933.9 L188.0,935.1 L188.5,936.1 L189.0,937.1 L189.5,938.1 L190.0,939.1 L192.0,942.5 L194.0,945.4 L196.0,948.1 L198.0,950.5 L200.0,952.8 L202.0,954.9 L204.0,957.0 L206.0,959.1 L208.0,961.0 L210.0,963.0 L212.0,964.9 L214.0,966.9 L216.0,968.8 L218.0,970.7 L220.0,972.6 L222.0,974.5 L224.0,976.4 L226.0,978.2 L228.0,980.1 L230.0,982.0 L232.0,983.9 L234.0,985.8 L236.0,987.6 L238.0,989.5 L240.0,991.3 L242.0,993.2 L244.0,995.0 L246.0,996.9 L248.0,998.7 L250.0,1000.5 L252.0,1002.4 L254.0,1004.2 L256.0,1006.0 L258.0,1007.8 L260.0,1009.6 L262.0,1011.4 L264.0,1013.2 L266.0,1014.9 L268.0,1016.7 L270.0,1018.4 L272.0,1020.2 L274.0,1021.9 L276.0,1023.6 L278.0,1025.4 L280.0,1027.1 L282.0,1028.8 L284.0,1030.5 L286.0,1032.1 L288.0,1033.8 L290.0,1035.5 L292.0,1037.2 L294.0,1038.8 L296.0,1040.5 L298.0,1042.1 L300.0,1043.8 L302.0,1045.4 L304.0,1047.0 L306.0,1048.6 L308.0,1050.3 L310.0,1051.9 L312.0,1053.5 L314.0,1055.1 L316.0,1056.7 L318.0,1058.3 L320.0,1059.9 L322.0,1061.4 L324.0,1063.0 L326.0,1064.6 L328.0,1066.1 L330.0,1067.7 L332.0,1069.3 L334.0,1070.8 L336.0,1072.4 L338.0,1073.9 L340.0,1075.5 L342.0,1077.0 L344.0,1078.5 L346.0,1080.0 L348.0,1081.6 L350.0,1083.1 L352.0,1084.6 L354.0,1086.1 L356.0,1087.6 L358.0,1089.1 L360.0,1090.6 L362.0,1092.1 L364.0,1093.6 L366.0,1095.1 L368.0,1096.6 L370.0,1098.1 L372.0,1099.6 L374.0,1101.0 L376.0,1102.5 L378.0,1104.0 L380.0,1105.5 L382.0,1106.9 L384.0,1108.4 L386.0,1109.8 L388.0,1111.3 L390.0,1112.8 L392.0,1114.2 L394.0,1115.7 L396.0,1117.1 L398.0,1118.6 L400.0,1120.0 L402.0,1121.5 L404.0,1122.9 L406.0,1124.3 L408.0,1125.7 L410.0,1127.1 L412.0,1128.5 L414.0,1129.9 L416.0,1131.3 L418.0,1132.7 L420.0,1134.1 L422.0,1135.5 L424.0,1136.9 L426.0,1138.3 L428.0,1139.7 L430.0,1141.1 L432.0,1142.6 L434.0,1144.0 L436.0,1145.5 L438.0,1146.9 L440.0,1148.4 L442.0,1149.9 L444.0,1151.5 L446.0,1153.0 L448.0,1154.6 L450.0,1156.2 L452.0,1157.8 L454.0,1159.4 L456.0,1161.0 L458.0,1162.7 L460.0,1164.3 L462.0,1166.0 L464.0,1167.7 L466.0,1169.5 L468.0,1171.2 L470.0,1173.0 L472.0,1174.7 L474.0,1176.5 L476.0,1178.3 L478.0,1180.2 L480.0,1182.0 L482.0,1183.8 L484.0,1185.7 L486.0,1187.6 L488.0,1189.5 L490.0,1191.4 L492.0,1193.3 L494.0,1195.3 L496.0,1197.2 L498.0,1199.2 L500.0,1201.2 L502.0,1203.2 L504.0,1205.2 L506.0,1207.2 L508.0,1209.3 L510.0,1211.3 L512.0,1213.4 L514.0,1215.5 L516.0,1217.6 L518.0,1219.7 L520.0,1221.8 L522.0,1223.9 L523.9,1225.8" fill="none" stroke="#c2c2c2" stroke-width="3.5" stroke-linejoin="round" stroke-linecap="round"/>
<path d="M159.7,1047.7 L162.0,748.2 L162.5,748.2 L163.0,752.5 L163.5,758.8 L164.0,765.1 L164.5,771.3 L165.0,777.4 L165.5,783.4 L166.0,789.4 L166.5,795.3 L167.0,801.1 L167.5,806.9 L168.0,812.5 L168.5,818.0 L169.0,823.5 L169.5,828.8 L170.0,834.0 L170.5,839.1 L171.0,844.0 L171.5,848.9 L172.0,853.6 L172.5,858.2 L173.0,862.6 L173.5,866.9 L174.0,871.1 L174.5,875.1 L175.0,879.0 L175.5,882.7 L176.0,886.3 L176.5,889.7 L177.0,893.0 L177.5,896.2 L178.0,899.2 L178.5,902.1 L179.0,904.9 L179.5,907.5 L180.0,910.0 L180.5,912.4 L181.0,914.6 L181.5,916.8 L182.0,918.8 L182.5,920.8 L183.0,922.6 L183.5,924.3 L184.0,926.0 L184.5,927.6 L185.0,929.1 L185.5,930.5 L186.0,931.8 L186.5,933.1 L187.0,934.4 L187.5,935.5 L188.0,936.7 L188.5,937.7 L189.0,938.8 L189.5,939.7 L190.0,940.7 L192.0,944.1 L194.0,947.1 L196.0,949.8 L198.0,952.3 L200.0,954.6 L202.0,956.8 L204.0,958.9 L206.0,961.0 L208.0,963.0 L210.0,965.1 L212.0,967.0 L214.0,969.0 L216.0,971.0 L218.0,972.9 L220.0,974.9 L222.0,976.9 L224.0,978.8 L226.0,980.7 L228.0,982.7 L230.0,984.6 L232.0,986.6 L234.0,988.5 L236.0,990.4 L238.0,992.3 L240.0,994.2 L242.0,996.1 L244.0,998.0 L246.0,999.9 L248.0,1001.8 L250.0,1003.7 L252.0,1005.6 L254.0,1007.5 L256.0,1009.3 L258.0,1011.2 L260.0,1013.0 L262.0,1014.8 L264.0,1016.6 L266.0,1018.5 L268.0,1020.3 L270.0,1022.0 L272.0,1023.8 L274.0,1025.6 L276.0,1027.3 L278.0,1029.1 L280.0,1030.8 L282.0,1032.5 L284.0,1034.2 L286.0,1035.9 L288.0,1037.6 L290.0,1039.2 L292.0,1040.9 L294.0,1042.5 L296.0,1044.2 L298.0,1045.8 L300.0,1047.4 L302.0,1049.1 L304.0,1050.7 L306.0,1052.3 L308.0,1053.9 L310.0,1055.5 L312.0,1057.0 L314.0,1058.6 L316.0,1060.2 L318.0,1061.7 L320.0,1063.3 L322.0,1064.8 L324.0,1066.4 L326.0,1067.9 L328.0,1069.5 L330.0,1071.0 L332.0,1072.5 L334.0,1074.0 L336.0,1075.6 L338.0,1077.1 L340.0,1078.6 L342.0,1080.1 L344.0,1081.6 L346.0,1083.1 L348.0,1084.6 L350.0,1086.1 L352.0,1087.6 L354.0,1089.1 L356.0,1090.6 L358.0,1092.1 L360.0,1093.6 L362.0,1095.1 L364.0,1096.6 L366.0,1098.1 L368.0,1099.6 L370.0,1101.0 L372.0,1102.5 L374.0,1104.0 L376.0,1105.5 L378.0,1107.0 L380.0,1108.5 L382.0,1110.0 L384.0,1111.6 L386.0,1113.1 L388.0,1114.6 L390.0,1116.1 L392.0,1117.6 L394.0,1119.1 L396.0,1120.7 L398.0,1122.2 L400.0,1123.7 L402.0,1125.3 L404.0,1126.8 L406.0,1128.4 L408.0,1130.0 L410.0,1131.5 L412.0,1133.1 L414.0,1134.7 L416.0,1136.3 L418.0,1137.9 L420.0,1139.5 L422.0,1141.1 L424.0,1142.7 L426.0,1144.3 L428.0,1145.9 L430.0,1147.5 L432.0,1149.2 L434.0,1150.8 L436.0,1152.4 L438.0,1154.1 L440.0,1155.7 L442.0,1157.4 L444.0,1159.1 L446.0,1160.7 L448.0,1162.4 L450.0,1164.1 L452.0,1165.8 L454.0,1167.4 L456.0,1169.1 L458.0,1170.8 L460.0,1172.5 L462.0,1174.2 L464.0,1175.9 L466.0,1177.6 L468.0,1179.4 L470.0,1181.1 L472.0,1182.8 L474.0,1184.5 L476.0,1186.2 L478.0,1188.0 L480.0,1189.7 L482.0,1191.4 L484.0,1193.2 L486.0,1194.9 L488.0,1196.7 L490.0,1198.4 L492.0,1200.2 L494.0,1201.9 L496.0,1203.7 L498.0,1205.4 L500.0,1207.2 L502.0,1209.0 L504.0,1210.7 L506.0,1212.5 L508.0,1214.3 L510.0,1216.0 L512.0,1217.8 L514.0,1219.6 L516.0,1221.4 L518.0,1223.1 L520.0,1224.9 L521.0,1225.8" fill="none" stroke="#c2c2c2" stroke-width="3.0" stroke-linejoin="round" stroke-linecap="round"/>
<path d="M159.7,1047.7 L162.0,750.4 L162.5,750.4 L163.0,754.7 L163.5,760.9 L164.0,767.1 L164.5,773.3 L165.0,779.3 L165.5,785.3 L166.0,791.3 L166.5,797.1 L167.0,802.9 L167.5,808.6 L168.0,814.1 L168.5,819.6 L169.0,825.0 L169.5,830.3 L170.0,835.4 L170.5,840.5 L171.0,845.4 L171.5,850.2 L172.0,854.8 L172.5,859.3 L173.0,863.7 L173.5,868.0 L174.0,872.1 L174.5,876.0 L175.0,879.8 L175.5,883.5 L176.0,887.0 L176.5,890.4 L177.0,893.7 L177.5,896.8 L178.0,899.7 L178.5,902.6 L179.0,905.3 L179.5,907.8 L180.0,910.3 L180.5,912.6 L181.0,914.8 L181.5,916.9 L182.0,918.9 L182.5,920.8 L183.0,922.6 L183.5,924.3 L184.0,925.9 L184.5,927.5 L185.0,928.9 L185.5,930.3 L186.0,931.6 L186.5,932.9 L187.0,934.1 L187.5,935.2 L188.0,936.3 L188.5,937.4 L189.0,938.4 L189.5,939.3 L190.0,940.2 L192.0,943.6 L194.0,946.5 L196.0,949.2 L198.0,951.6 L200.0,953.9 L202.0,956.1 L204.0,958.3 L206.0,960.4 L208.0,962.5 L210.0,964.5 L212.0,966.6 L214.0,968.7 L216.0,970.7 L218.0,972.8 L220.0,974.8 L222.0,976.9 L224.0,979.0 L226.0,981.1 L228.0,983.2 L230.0,985.2 L232.0,987.3 L234.0,989.4 L236.0,991.5 L238.0,993.6 L240.0,995.6 L242.0,997.7 L244.0,999.8 L246.0,1001.8 L248.0,1003.9 L250.0,1005.9 L252.0,1007.9 L254.0,1010.0 L256.0,1012.0 L258.0,1013.9 L260.0,1015.9 L262.0,1017.9 L264.0,1019.8 L266.0,1021.7 L268.0,1023.6 L270.0,1025.5 L272.0,1027.3 L274.0,1029.2 L276.0,1031.0 L278.0,1032.7 L280.0,1034.5 L282.0,1036.2 L284.0,1037.9 L286.0,1039.6 L288.0,1041.3 L290.0,1043.0 L292.0,1044.7 L294.0,1046.3 L296.0,1048.0 L298.0,1049.6 L300.0,1051.3 L302.0,1052.9 L304.0,1054.5 L306.0,1056.1 L308.0,1057.7 L310.0,1059.3 L312.0,1060.9 L314.0,1062.5 L316.0,1064.0 L318.0,1065.6 L320.0,1067.2 L322.0,1068.7 L324.0,1070.3 L326.0,1071.8 L328.0,1073.3 L330.0,1074.9 L332.0,1076.4 L334.0,1077.9 L336.0,1079.4 L338.0,1080.9 L340.0,1082.4 L342.0,1083.9 L344.0,1085.4 L346.0,1086.9 L348.0,1088.4 L350.0,1089.9 L352.0,1091.4 L354.0,1092.9 L356.0,1094.4 L358.0,1095.9 L360.0,1097.4 L362.0,1098.9 L364.0,1100.4 L366.0,1101.9 L368.0,1103.3 L370.0,1104.8 L372.0,1106.3 L374.0,1107.8 L376.0,1109.3 L378.0,1110.8 L380.0,1112.3 L382.0,1113.8 L384.0,1115.3 L386.0,1116.8 L388.0,1118.3 L390.0,1119.8 L392.0,1121.3 L394.0,1122.9 L396.0,1124.4 L398.0,1125.9 L400.0,1127.5 L402.0,1129.0 L404.0,1130.5 L406.0,1132.1 L408.0,1133.7 L410.0,1135.2 L412.0,1136.8 L414.0,1138.4 L416.0,1139.9 L418.0,1141.5 L420.0,1143.1 L422.0,1144.7 L424.0,1146.3 L426.0,1147.9 L428.0,1149.6 L430.0,1151.2 L432.0,1152.8 L434.0,1154.4 L436.0,1156.1 L438.0,1157.7 L440.0,1159.3 L442.0,1161.0 L444.0,1162.6 L446.0,1164.3 L448.0,1166.0 L450.0,1167.6 L452.0,1169.3 L454.0,1171.0 L456.0,1172.6 L458.0,1174.3 L460.0,1176.0 L462.0,1177.7 L464.0,1179.4 L466.0,1181.1 L468.0,1182.8 L470.0,1184.5 L472.0,1186.2 L474.0,1187.9 L476.0,1189.6 L478.0,1191.3 L480.0,1193.0 L482.0,1194.8 L484.0,1196.5 L486.0,1198.2 L488.0,1199.9 L490.0,1201.7 L492.0,1203.4 L494.0,1205.1 L496.0,1206.9 L498.0,1208.6 L500.0,1210.4 L502.0,1212.1 L504.0,1213.9 L506.0,1215.6 L508.0,1217.4 L510.0,1219.1 L512.0,1220.9 L514.0,1222.6 L516.0,1224.4 L517.6,1225.8" fill="none" stroke="#c2c2c2" stroke-width="2.2" stroke-linejoin="round" stroke-linecap="round"/>
<path d="M159.7,1047.7 L162.0,750.4 L162.5,750.6 L163.0,754.9 L163.5,761.3 L164.0,767.7 L164.5,773.9 L165.0,780.1 L165.5,786.3 L166.0,792.4 L166.5,798.3 L167.0,804.2 L167.5,810.1 L168.0,815.8 L168.5,821.4 L169.0,826.9 L169.5,832.3 L170.0,837.6 L170.5,842.8 L171.0,847.8 L171.5,852.7 L172.0,857.5 L172.5,862.2 L173.0,866.7 L173.5,871.1 L174.0,875.3 L174.5,879.4 L175.0,883.3 L175.5,887.1 L176.0,890.8 L176.5,894.3 L177.0,897.6 L177.5,900.8 L178.0,903.9 L178.5,906.9 L179.0,909.7 L179.5,912.3 L180.0,914.9 L180.5,917.3 L181.0,919.6 L181.5,921.9 L182.0,923.9 L182.5,925.9 L183.0,927.8 L183.5,929.6 L184.0,931.3 L184.5,933.0 L185.0,934.5 L185.5,936.0 L186.0,937.4 L186.5,938.7 L187.0,940.0 L187.5,941.2 L188.0,942.4 L188.5,943.5 L189.0,944.6 L189.5,945.6 L190.0,946.6 L192.0,950.2 L194.0,953.4 L196.0,956.3 L198.0,958.9 L200.0,961.4 L202.0,963.8 L204.0,966.0 L206.0,968.3 L208.0,970.4 L210.0,972.6 L212.0,974.7 L214.0,976.8 L216.0,978.8 L218.0,980.9 L220.0,982.9 L222.0,985.0 L224.0,987.0 L226.0,989.0 L228.0,991.0 L230.0,993.0 L232.0,995.0 L234.0,997.0 L236.0,998.9 L238.0,1000.9 L240.0,1002.8 L242.0,1004.7 L244.0,1006.6 L246.0,1008.5 L248.0,1010.4 L250.0,1012.3 L252.0,1014.1 L254.0,1016.0 L256.0,1017.8 L258.0,1019.6 L260.0,1021.4 L262.0,1023.2 L264.0,1024.9 L266.0,1026.6 L268.0,1028.3 L270.0,1030.0 L272.0,1031.7 L274.0,1033.4 L276.0,1035.0 L278.0,1036.6 L280.0,1038.2 L282.0,1039.8 L284.0,1041.3 L286.0,1042.9 L288.0,1044.4 L290.0,1046.0 L292.0,1047.5 L294.0,1049.0 L296.0,1050.5 L298.0,1052.0 L300.0,1053.5 L302.0,1055.0 L304.0,1056.5 L306.0,1057.9 L308.0,1059.4 L310.0,1060.8 L312.0,1062.3 L314.0,1063.7 L316.0,1065.1 L318.0,1066.5 L320.0,1068.0 L322.0,1069.4 L324.0,1070.8 L326.0,1072.2 L328.0,1073.6 L330.0,1074.9 L332.0,1076.3 L334.0,1077.7 L336.0,1079.1 L338.0,1080.5 L340.0,1081.8 L342.0,1083.2 L344.0,1084.5 L346.0,1085.9 L348.0,1087.2 L350.0,1088.6 L352.0,1089.9 L354.0,1091.3 L356.0,1092.6 L358.0,1094.0 L360.0,1095.3 L362.0,1096.7 L364.0,1098.0 L366.0,1099.3 L368.0,1100.7 L370.0,1102.0 L372.0,1103.4 L374.0,1104.7 L376.0,1106.0 L378.0,1107.4 L380.0,1108.7 L382.0,1110.1 L384.0,1111.4 L386.0,1112.7 L388.0,1114.1 L390.0,1115.4 L392.0,1116.8 L394.0,1118.2 L396.0,1119.5 L398.0,1120.9 L400.0,1122.3 L402.0,1123.6 L404.0,1125.0 L406.0,1126.5 L408.0,1127.9 L410.0,1129.4 L412.0,1130.9 L414.0,1132.5 L416.0,1134.0 L418.0,1135.6 L420.0,1137.2 L422.0,1138.8 L424.0,1140.5 L426.0,1142.2 L428.0,1143.9 L430.0,1145.6 L432.0,1147.3 L434.0,1149.0 L436.0,1150.8 L438.0,1152.6 L440.0,1154.4 L442.0,1156.2 L444.0,1158.0 L446.0,1159.9 L448.0,1161.7 L450.0,1163.6 L452.0,1165.5 L454.0,1167.4 L456.0,1169.3 L458.0,1171.2 L460.0,1173.2 L462.0,1175.1 L464.0,1177.1 L466.0,1179.1 L468.0,1181.1 L470.0,1183.1 L472.0,1185.1 L474.0,1187.1 L476.0,1189.1 L478.0,1191.1 L480.0,1193.1 L482.0,1195.2 L484.0,1197.2 L486.0,1199.3 L488.0,1201.3 L490.0,1203.4 L492.0,1205.4 L494.0,1207.5 L496.0,1209.6 L498.0,1211.6 L500.0,1213.7 L502.0,1215.8 L504.0,1217.8 L506.0,1219.9 L508.0,1221.7 L510.0,1223.4 L512.0,1225.2 L512.7,1225.8" fill="none" stroke="#c2c2c2" stroke-width="4.5" stroke-dasharray="2,4" stroke-linejoin="round" stroke-linecap="round"/>
<path d="M159.7,1047.7 L162.0,750.4 L162.5,750.7 L163.0,755.2 L163.5,761.8 L164.0,768.3 L164.5,774.7 L165.0,781.1 L165.5,787.4 L166.0,793.6 L166.5,799.7 L167.0,805.8 L167.5,811.7 L168.0,817.6 L168.5,823.4 L169.0,829.0 L169.5,834.6 L170.0,840.0 L170.5,845.3 L171.0,850.5 L171.5,855.6 L172.0,860.5 L172.5,865.2 L173.0,869.9 L173.5,874.3 L174.0,878.7 L174.5,882.9 L175.0,886.9 L175.5,890.8 L176.0,894.5 L176.5,898.0 L177.0,901.5 L177.5,904.7 L178.0,907.9 L178.5,910.9 L179.0,913.8 L179.5,916.5 L180.0,919.1 L180.5,921.6 L181.0,924.0 L181.5,926.2 L182.0,928.4 L182.5,930.4 L183.0,932.4 L183.5,934.3 L184.0,936.0 L184.5,937.7 L185.0,939.3 L185.5,940.8 L186.0,942.3 L186.5,943.7 L187.0,945.0 L187.5,946.3 L188.0,947.5 L188.5,948.7 L189.0,949.8 L189.5,950.9 L190.0,951.9 L192.0,955.7 L194.0,959.1 L196.0,962.1 L198.0,965.0 L200.0,967.6 L202.0,970.1 L204.0,972.5 L206.0,974.9 L208.0,977.2 L210.0,979.4 L212.0,981.6 L214.0,983.8 L216.0,986.0 L218.0,988.1 L220.0,990.3 L222.0,992.4 L224.0,994.5 L226.0,996.6 L228.0,998.6 L230.0,1000.7 L232.0,1002.7 L234.0,1004.7 L236.0,1006.7 L238.0,1008.7 L240.0,1010.6 L242.0,1012.6 L244.0,1014.5 L246.0,1016.4 L248.0,1018.3 L250.0,1020.2 L252.0,1022.0 L254.0,1023.8 L256.0,1025.6 L258.0,1027.4 L260.0,1029.2 L262.0,1030.9 L264.0,1032.7 L266.0,1034.4 L268.0,1036.0 L270.0,1037.7 L272.0,1039.3 L274.0,1040.9 L276.0,1042.5 L278.0,1044.1 L280.0,1045.6 L282.0,1047.2 L284.0,1048.7 L286.0,1050.2 L288.0,1051.7 L290.0,1053.2 L292.0,1054.6 L294.0,1056.1 L296.0,1057.6 L298.0,1059.0 L300.0,1060.5 L302.0,1061.9 L304.0,1063.4 L306.0,1064.8 L308.0,1066.2 L310.0,1067.6 L312.0,1069.0 L314.0,1070.5 L316.0,1071.8 L318.0,1073.2 L320.0,1074.6 L322.0,1076.0 L324.0,1077.4 L326.0,1078.7 L328.0,1080.1 L330.0,1081.5 L332.0,1082.8 L334.0,1084.2 L336.0,1085.5 L338.0,1086.9 L340.0,1088.2 L342.0,1089.5 L344.0,1090.9 L346.0,1092.2 L348.0,1093.5 L350.0,1094.8 L352.0,1096.1 L354.0,1097.5 L356.0,1098.8 L358.0,1100.1 L360.0,1101.4 L362.0,1102.7 L364.0,1104.0 L366.0,1105.3 L368.0,1106.6 L370.0,1107.9 L372.0,1109.2 L374.0,1110.5 L376.0,1111.8 L378.0,1113.1 L380.0,1114.4 L382.0,1115.7 L384.0,1117.0 L386.0,1118.3 L388.0,1119.6 L390.0,1120.9 L392.0,1122.2 L394.0,1123.5 L396.0,1124.8 L398.0,1126.1 L400.0,1127.5 L402.0,1128.8 L404.0,1130.1 L406.0,1131.5 L408.0,1132.9 L410.0,1134.4 L412.0,1135.9 L414.0,1137.4 L416.0,1138.9 L418.0,1140.5 L420.0,1142.1 L422.0,1143.7 L424.0,1145.3 L426.0,1147.0 L428.0,1148.7 L430.0,1150.4 L432.0,1152.1 L434.0,1153.9 L436.0,1155.7 L438.0,1157.5 L440.0,1159.3 L442.0,1161.1 L444.0,1163.0 L446.0,1164.8 L448.0,1166.7 L450.0,1168.6 L452.0,1170.5 L454.0,1172.4 L456.0,1174.4 L458.0,1176.3 L460.0,1178.3 L462.0,1180.3 L464.0,1182.2 L466.0,1184.2 L468.0,1186.2 L470.0,1188.2 L472.0,1190.2 L474.0,1192.3 L476.0,1194.3 L478.0,1196.3 L480.0,1198.3 L482.0,1200.4 L484.0,1202.4 L486.0,1204.5 L488.0,1206.5 L490.0,1208.5 L492.0,1210.6 L494.0,1212.6 L496.0,1214.6 L498.0,1216.4 L500.0,1218.1 L502.0,1219.9 L504.0,1221.6 L506.0,1223.4 L508.0,1225.1 L508.8,1225.8" fill="none" stroke="#c2c2c2" stroke-width="4.5" stroke-dasharray="2,4" stroke-linejoin="round" stroke-linecap="round"/>
<path d="M159.7,1047.7 L162.0,743.7 L162.5,745.7 L163.0,752.4 L163.5,758.9 L164.0,765.4 L164.5,771.7 L165.0,778.0 L165.5,784.1 L166.0,790.2 L166.5,796.2 L167.0,802.1 L167.5,807.9 L168.0,813.6 L168.5,819.3 L169.0,824.8 L169.5,830.3 L170.0,835.6 L170.5,840.9 L171.0,846.1 L171.5,851.1 L172.0,856.1 L172.5,861.0 L173.0,865.8 L173.5,870.6 L174.0,875.2 L174.5,879.7 L175.0,884.2 L175.5,888.6 L176.0,892.9 L176.5,897.1 L177.0,901.1 L177.5,904.9 L178.0,908.4 L178.5,911.8 L179.0,915.0 L179.5,917.9 L180.0,920.7 L180.5,923.3 L181.0,925.8 L181.5,928.1 L182.0,930.2 L182.5,932.3 L183.0,934.1 L183.5,935.9 L184.0,937.5 L184.5,939.1 L185.0,940.5 L185.5,941.9 L186.0,943.2 L186.5,944.4 L187.0,945.5 L187.5,946.6 L188.0,947.6 L188.5,948.5 L189.0,949.5 L189.5,950.3 L190.0,951.2 L192.0,954.2 L194.0,956.8 L196.0,959.1 L198.0,961.3 L200.0,963.3 L202.0,965.3 L204.0,967.3 L206.0,969.2 L208.0,971.0 L210.0,972.9 L212.0,974.7 L214.0,976.6 L216.0,978.4 L218.0,980.2 L220.0,982.1 L222.0,983.9 L224.0,985.7 L226.0,987.5 L228.0,989.3 L230.0,991.1 L232.0,992.9 L234.0,994.7 L236.0,996.5 L238.0,998.2 L240.0,1000.0 L242.0,1001.8 L244.0,1003.6 L246.0,1005.3 L248.0,1007.1 L250.0,1008.9 L252.0,1010.6 L254.0,1012.4 L256.0,1014.1 L258.0,1015.9 L260.0,1017.6 L262.0,1019.4 L264.0,1021.1 L266.0,1022.9 L268.0,1024.6 L270.0,1026.3 L272.0,1028.1 L274.0,1029.8 L276.0,1031.5 L278.0,1033.3 L280.0,1035.0 L282.0,1036.7 L284.0,1038.4 L286.0,1040.1 L288.0,1041.8 L290.0,1043.5 L292.0,1045.2 L294.0,1046.9 L296.0,1048.6 L298.0,1050.3 L300.0,1052.0 L302.0,1053.7 L304.0,1055.4 L306.0,1057.1 L308.0,1058.8 L310.0,1060.5 L312.0,1062.1 L314.0,1063.8 L316.0,1065.5 L318.0,1067.2 L320.0,1068.8 L322.0,1070.5 L324.0,1072.2 L326.0,1073.8 L328.0,1075.5 L330.0,1077.1 L332.0,1078.7 L334.0,1080.3 L336.0,1081.9 L338.0,1083.5 L340.0,1085.1 L342.0,1086.7 L344.0,1088.3 L346.0,1089.9 L348.0,1091.5 L350.0,1093.0 L352.0,1094.6 L354.0,1096.2 L356.0,1097.8 L358.0,1099.4 L360.0,1100.9 L362.0,1102.5 L364.0,1104.1 L366.0,1105.7 L368.0,1107.2 L370.0,1108.8 L372.0,1110.4 L374.0,1111.9 L376.0,1113.5 L378.0,1115.1 L380.0,1116.6 L382.0,1118.2 L384.0,1119.7 L386.0,1121.3 L388.0,1122.8 L390.0,1124.4 L392.0,1125.9 L394.0,1127.5 L396.0,1129.0 L398.0,1130.6 L400.0,1132.1 L402.0,1133.7 L404.0,1135.2 L406.0,1136.8 L408.0,1138.3 L410.0,1139.8 L412.0,1141.4 L414.0,1142.9 L416.0,1144.5 L418.0,1146.0 L420.0,1147.5 L422.0,1149.1 L424.0,1150.6 L426.0,1152.1 L428.0,1153.7 L430.0,1155.2 L432.0,1156.7 L434.0,1158.2 L436.0,1159.8 L438.0,1161.3 L440.0,1162.8 L442.0,1164.3 L444.0,1165.9 L446.0,1167.4 L448.0,1168.9 L450.0,1170.4 L452.0,1171.9 L454.0,1173.5 L456.0,1175.0 L458.0,1176.5 L460.0,1178.0 L462.0,1179.5 L464.0,1181.1 L466.0,1182.6 L468.0,1184.1 L470.0,1185.6 L472.0,1187.1 L474.0,1188.6 L476.0,1190.1 L478.0,1191.6 L480.0,1193.2 L482.0,1194.7 L484.0,1196.2 L486.0,1197.7 L488.0,1199.2 L490.0,1200.7 L492.0,1202.2 L494.0,1203.7 L496.0,1205.2 L498.0,1206.7 L500.0,1208.2 L502.0,1209.7 L504.0,1211.3 L506.0,1212.8 L508.0,1214.3 L510.0,1215.8 L512.0,1217.3 L514.0,1218.8 L516.0,1220.3 L518.0,1221.8 L520.0,1223.3 L522.0,1224.8 L523.4,1225.8" fill="none" stroke="#c2c2c2" stroke-width="4.5" stroke-dasharray="6,10" stroke-linejoin="round" stroke-linecap="round"/>
<path d="M159.7,1047.7 L162.0,743.7 L162.5,745.4 L163.0,751.8 L163.5,758.0 L164.0,764.1 L164.5,770.2 L165.0,776.1 L165.5,781.9 L166.0,787.6 L166.5,793.3 L167.0,798.8 L167.5,804.3 L168.0,809.7 L168.5,815.0 L169.0,820.2 L169.5,825.3 L170.0,830.4 L170.5,835.4 L171.0,840.3 L171.5,845.1 L172.0,849.8 L172.5,854.5 L173.0,859.1 L173.5,863.7 L174.0,868.1 L174.5,872.5 L175.0,876.9 L175.5,881.2 L176.0,885.5 L176.5,889.7 L177.0,893.6 L177.5,897.3 L178.0,900.9 L178.5,904.2 L179.0,907.3 L179.5,910.3 L180.0,913.0 L180.5,915.6 L181.0,918.0 L181.5,920.3 L182.0,922.4 L182.5,924.4 L183.0,926.3 L183.5,928.0 L184.0,929.6 L184.5,931.1 L185.0,932.5 L185.5,933.9 L186.0,935.1 L186.5,936.3 L187.0,937.4 L187.5,938.4 L188.0,939.4 L188.5,940.4 L189.0,941.2 L189.5,942.1 L190.0,942.9 L192.0,945.8 L194.0,948.3 L196.0,950.5 L198.0,952.6 L200.0,954.5 L202.0,956.4 L204.0,958.3 L206.0,960.1 L208.0,961.9 L210.0,963.6 L212.0,965.4 L214.0,967.2 L216.0,968.9 L218.0,970.7 L220.0,972.4 L222.0,974.2 L224.0,975.9 L226.0,977.6 L228.0,979.4 L230.0,981.1 L232.0,982.8 L234.0,984.6 L236.0,986.3 L238.0,988.0 L240.0,989.8 L242.0,991.5 L244.0,993.2 L246.0,994.9 L248.0,996.7 L250.0,998.4 L252.0,1000.1 L254.0,1001.8 L256.0,1003.5 L258.0,1005.2 L260.0,1007.0 L262.0,1008.7 L264.0,1010.4 L266.0,1012.1 L268.0,1013.8 L270.0,1015.5 L272.0,1017.2 L274.0,1018.9 L276.0,1020.6 L278.0,1022.3 L280.0,1024.0 L282.0,1025.7 L284.0,1027.4 L286.0,1029.1 L288.0,1030.8 L290.0,1032.5 L292.0,1034.2 L294.0,1035.9 L296.0,1037.6 L298.0,1039.3 L300.0,1040.9 L302.0,1042.6 L304.0,1044.3 L306.0,1046.0 L308.0,1047.7 L310.0,1049.3 L312.0,1051.0 L314.0,1052.7 L316.0,1054.4 L318.0,1056.0 L320.0,1057.7 L322.0,1059.4 L324.0,1061.0 L326.0,1062.7 L328.0,1064.3 L330.0,1065.8 L332.0,1067.4 L334.0,1068.9 L336.0,1070.5 L338.0,1072.0 L340.0,1073.6 L342.0,1075.1 L344.0,1076.7 L346.0,1078.2 L348.0,1079.8 L350.0,1081.3 L352.0,1082.8 L354.0,1084.4 L356.0,1085.9 L358.0,1087.4 L360.0,1089.0 L362.0,1090.5 L364.0,1092.0 L366.0,1093.5 L368.0,1095.1 L370.0,1096.6 L372.0,1098.1 L374.0,1099.6 L376.0,1101.1 L378.0,1102.6 L380.0,1104.1 L382.0,1105.6 L384.0,1107.2 L386.0,1108.7 L388.0,1110.2 L390.0,1111.7 L392.0,1113.2 L394.0,1114.7 L396.0,1116.2 L398.0,1117.7 L400.0,1119.2 L402.0,1120.7 L404.0,1122.2 L406.0,1123.6 L408.0,1125.1 L410.0,1126.6 L412.0,1128.1 L414.0,1129.6 L416.0,1131.1 L418.0,1132.6 L420.0,1134.1 L422.0,1135.5 L424.0,1137.0 L426.0,1138.5 L428.0,1140.0 L430.0,1141.5 L432.0,1142.9 L434.0,1144.4 L436.0,1145.9 L438.0,1147.4 L440.0,1148.9 L442.0,1150.3 L444.0,1151.8 L446.0,1153.3 L448.0,1154.7 L450.0,1156.2 L452.0,1157.7 L454.0,1159.2 L456.0,1160.6 L458.0,1162.1 L460.0,1163.6 L462.0,1165.0 L464.0,1166.5 L466.0,1168.0 L468.0,1169.4 L470.0,1170.9 L472.0,1172.4 L474.0,1173.8 L476.0,1175.3 L478.0,1176.7 L480.0,1178.2 L482.0,1179.7 L484.0,1181.1 L486.0,1182.6 L488.0,1184.0 L490.0,1185.5 L492.0,1187.0 L494.0,1188.4 L496.0,1189.9 L498.0,1191.3 L500.0,1192.8 L502.0,1194.3 L504.0,1195.7 L506.0,1197.2 L508.0,1198.6 L510.0,1200.1 L512.0,1201.5 L514.0,1203.0 L516.0,1204.4 L518.0,1205.9 L520.0,1207.3 L522.0,1208.8 L524.0,1210.2 L526.0,1211.7 L528.0,1213.1 L530.0,1214.6 L532.0,1216.1 L534.0,1217.5 L536.0,1219.0 L538.0,1220.4 L540.0,1221.9 L542.0,1223.3 L544.0,1224.7 L545.5,1225.8" fill="none" stroke="#c2c2c2" stroke-width="4.5" stroke-dasharray="6,10" stroke-linejoin="round" stroke-linecap="round"/>
<path d="M159.7,1047.7 L162.0,743.7 L162.5,749.4 L163.0,759.8 L163.5,770.2 L164.0,780.5 L164.5,790.9 L165.0,801.2 L165.5,811.4 L166.0,821.6 L166.5,831.6 L167.0,841.6 L167.5,851.4 L168.0,861.1 L168.5,870.6 L169.0,880.0 L169.5,889.1 L170.0,898.0 L170.5,906.7 L171.0,915.1 L171.5,923.3 L172.0,931.2 L172.5,938.8 L173.0,946.0 L173.5,952.9 L174.0,959.5 L174.5,965.7 L175.0,971.5 L175.5,977.0 L176.0,982.0 L176.5,986.8 L177.0,991.3 L177.5,995.6 L178.0,999.7 L178.5,1003.6 L179.0,1007.3 L179.5,1010.7 L180.0,1014.0 L180.5,1017.1 L181.0,1020.1 L181.5,1022.9 L182.0,1025.5 L182.5,1028.0 L183.0,1030.3 L183.5,1032.5 L184.0,1034.6 L184.5,1036.6 L185.0,1038.5 L185.5,1040.3 L186.0,1042.0 L186.5,1043.7 L187.0,1045.2 L187.5,1046.7 L188.0,1048.1 L188.5,1049.5 L189.0,1050.8 L189.5,1052.0 L190.0,1053.3 L192.0,1057.8 L194.0,1061.8 L196.0,1065.5 L198.0,1068.9 L200.0,1072.2 L202.0,1075.3 L204.0,1078.3 L206.0,1081.2 L208.0,1084.1 L210.0,1086.8 L212.0,1089.6 L214.0,1092.2 L216.0,1094.8 L218.0,1097.4 L220.0,1099.9 L222.0,1102.4 L224.0,1104.9 L226.0,1107.3 L228.0,1109.7 L230.0,1112.1 L232.0,1114.5 L234.0,1116.8 L236.0,1119.2 L238.0,1121.5 L240.0,1123.8 L242.0,1126.2 L244.0,1128.5 L246.0,1130.9 L248.0,1133.2 L250.0,1135.6 L252.0,1137.9 L254.0,1140.2 L256.0,1142.5 L258.0,1144.8 L260.0,1147.1 L262.0,1149.3 L264.0,1151.6 L266.0,1153.8 L268.0,1156.1 L270.0,1158.3 L272.0,1160.4 L274.0,1162.6 L276.0,1164.8 L278.0,1166.9 L280.0,1169.1 L282.0,1171.2 L284.0,1173.3 L286.0,1175.3 L288.0,1177.4 L290.0,1179.4 L292.0,1181.4 L294.0,1183.4 L296.0,1185.4 L298.0,1187.4 L300.0,1189.3 L302.0,1191.3 L304.0,1193.2 L306.0,1195.0 L308.0,1196.9 L310.0,1198.7 L312.0,1200.6 L314.0,1202.4 L316.0,1204.3 L318.0,1206.1 L320.0,1207.9 L322.0,1209.7 L324.0,1211.5 L326.0,1213.3 L328.0,1215.1 L330.0,1216.9 L332.0,1218.7 L334.0,1220.5 L336.0,1222.3 L338.0,1224.0 L340.0,1225.8 L340.0,1225.8" fill="none" stroke="#c2c2c2" stroke-width="2.2" stroke-dasharray="2.4,10" stroke-dashoffset="0.0" stroke-linejoin="round" stroke-linecap="round"/>
<path d="M159.7,1047.7 L162.0,743.7 L162.5,748.9 L163.0,758.8 L163.5,768.8 L164.0,778.7 L164.5,788.6 L165.0,798.4 L165.5,808.1 L166.0,817.8 L166.5,827.4 L167.0,836.9 L167.5,846.2 L168.0,855.4 L168.5,864.5 L169.0,873.4 L169.5,882.1 L170.0,890.6 L170.5,898.8 L171.0,906.9 L171.5,914.7 L172.0,922.2 L172.5,929.4 L173.0,936.3 L173.5,942.9 L174.0,949.2 L174.5,955.2 L175.0,960.8 L175.5,966.0 L176.0,970.9 L176.5,975.5 L177.0,979.8 L177.5,984.0 L178.0,987.9 L178.5,991.6 L179.0,995.2 L179.5,998.5 L180.0,1001.6 L180.5,1004.6 L181.0,1007.4 L181.5,1010.0 L182.0,1012.5 L182.5,1014.9 L183.0,1017.1 L183.5,1019.2 L184.0,1021.1 L184.5,1023.0 L185.0,1024.7 L185.5,1026.4 L186.0,1028.0 L186.5,1029.5 L187.0,1030.9 L187.5,1032.3 L188.0,1033.5 L188.5,1034.8 L189.0,1036.0 L189.5,1037.1 L190.0,1038.2 L192.0,1042.2 L194.0,1045.8 L196.0,1049.1 L198.0,1052.2 L200.0,1055.0 L202.0,1057.8 L204.0,1060.5 L206.0,1063.1 L208.0,1065.6 L210.0,1068.1 L212.0,1070.5 L214.0,1072.9 L216.0,1075.3 L218.0,1077.6 L220.0,1079.9 L222.0,1082.2 L224.0,1084.4 L226.0,1086.7 L228.0,1088.9 L230.0,1091.1 L232.0,1093.3 L234.0,1095.5 L236.0,1097.7 L238.0,1099.8 L240.0,1102.0 L242.0,1104.2 L244.0,1106.4 L246.0,1108.6 L248.0,1110.8 L250.0,1113.0 L252.0,1115.2 L254.0,1117.3 L256.0,1119.5 L258.0,1121.6 L260.0,1123.7 L262.0,1125.9 L264.0,1128.0 L266.0,1130.1 L268.0,1132.1 L270.0,1134.2 L272.0,1136.3 L274.0,1138.3 L276.0,1140.3 L278.0,1142.4 L280.0,1144.4 L282.0,1146.4 L284.0,1148.4 L286.0,1150.4 L288.0,1152.3 L290.0,1154.3 L292.0,1156.3 L294.0,1158.2 L296.0,1160.2 L298.0,1162.1 L300.0,1164.0 L302.0,1165.9 L304.0,1167.9 L306.0,1169.8 L308.0,1171.6 L310.0,1173.5 L312.0,1175.4 L314.0,1177.3 L316.0,1179.2 L318.0,1181.0 L320.0,1182.9 L322.0,1184.8 L324.0,1186.6 L326.0,1188.5 L328.0,1190.3 L330.0,1192.2 L332.0,1194.0 L334.0,1195.8 L336.0,1197.7 L338.0,1199.5 L340.0,1201.3 L342.0,1203.1 L344.0,1204.9 L346.0,1206.7 L348.0,1208.5 L350.0,1210.3 L352.0,1212.1 L354.0,1213.9 L356.0,1215.7 L358.0,1217.4 L360.0,1219.2 L362.0,1221.0 L364.0,1222.7 L366.0,1224.5 L367.5,1225.8" fill="none" stroke="#c2c2c2" stroke-width="2.2" stroke-dasharray="2.4,10" stroke-dashoffset="4.7" stroke-linejoin="round" stroke-linecap="round"/>
<path d="M159.7,1047.7 L162.0,743.7 L162.5,748.4 L163.0,757.9 L163.5,767.4 L164.0,776.8 L164.5,786.2 L165.0,795.5 L165.5,804.7 L166.0,813.9 L166.5,823.0 L167.0,832.0 L167.5,840.9 L168.0,849.6 L168.5,858.2 L169.0,866.6 L169.5,874.9 L170.0,882.9 L170.5,890.8 L171.0,898.4 L171.5,905.8 L172.0,913.0 L172.5,919.9 L173.0,926.5 L173.5,932.8 L174.0,938.8 L174.5,944.5 L175.0,949.9 L175.5,955.0 L176.0,959.8 L176.5,964.2 L177.0,968.5 L177.5,972.5 L178.0,976.3 L178.5,979.9 L179.0,983.4 L179.5,986.6 L180.0,989.6 L180.5,992.5 L181.0,995.2 L181.5,997.7 L182.0,1000.1 L182.5,1002.3 L183.0,1004.5 L183.5,1006.4 L184.0,1008.3 L184.5,1010.1 L185.0,1011.7 L185.5,1013.3 L186.0,1014.8 L186.5,1016.2 L187.0,1017.5 L187.5,1018.8 L188.0,1020.0 L188.5,1021.2 L189.0,1022.3 L189.5,1023.3 L190.0,1024.3 L192.0,1028.1 L194.0,1031.3 L196.0,1034.3 L198.0,1037.1 L200.0,1039.7 L202.0,1042.2 L204.0,1044.7 L206.0,1047.1 L208.0,1049.4 L210.0,1051.7 L212.0,1053.9 L214.0,1056.1 L216.0,1058.3 L218.0,1060.5 L220.0,1062.7 L222.0,1064.8 L224.0,1066.9 L226.0,1069.0 L228.0,1071.1 L230.0,1073.2 L232.0,1075.3 L234.0,1077.4 L236.0,1079.5 L238.0,1081.6 L240.0,1083.7 L242.0,1085.8 L244.0,1087.9 L246.0,1090.0 L248.0,1092.2 L250.0,1094.3 L252.0,1096.4 L254.0,1098.5 L256.0,1100.6 L258.0,1102.7 L260.0,1104.8 L262.0,1106.9 L264.0,1109.0 L266.0,1111.0 L268.0,1113.1 L270.0,1115.2 L272.0,1117.2 L274.0,1119.2 L276.0,1121.3 L278.0,1123.3 L280.0,1125.3 L282.0,1127.3 L284.0,1129.3 L286.0,1131.2 L288.0,1133.2 L290.0,1135.1 L292.0,1137.1 L294.0,1139.0 L296.0,1140.9 L298.0,1142.8 L300.0,1144.6 L302.0,1146.5 L304.0,1148.3 L306.0,1150.2 L308.0,1152.0 L310.0,1153.8 L312.0,1155.6 L314.0,1157.4 L316.0,1159.1 L318.0,1160.9 L320.0,1162.7 L322.0,1164.5 L324.0,1166.3 L326.0,1168.0 L328.0,1169.8 L330.0,1171.5 L332.0,1173.3 L334.0,1175.1 L336.0,1176.8 L338.0,1178.5 L340.0,1180.3 L342.0,1182.0 L344.0,1183.7 L346.0,1185.5 L348.0,1187.2 L350.0,1188.9 L352.0,1190.6 L354.0,1192.3 L356.0,1194.1 L358.0,1195.8 L360.0,1197.5 L362.0,1199.1 L364.0,1200.8 L366.0,1202.5 L368.0,1204.2 L370.0,1205.9 L372.0,1207.6 L374.0,1209.2 L376.0,1210.9 L378.0,1212.5 L380.0,1214.2 L382.0,1215.8 L384.0,1217.5 L386.0,1219.1 L388.0,1220.8 L390.0,1222.4 L392.0,1224.0 L394.0,1225.7 L394.2,1225.8" fill="none" stroke="#c2c2c2" stroke-width="2.2" stroke-dasharray="2.4,10" stroke-dashoffset="9.4" stroke-linejoin="round" stroke-linecap="round"/>
<path d="M159.7,1047.7 L162.0,743.7 L162.5,748.0 L163.0,757.0 L163.5,766.0 L164.0,774.9 L164.5,783.8 L165.0,792.6 L165.5,801.4 L166.0,810.1 L166.5,818.7 L167.0,827.2 L167.5,835.6 L168.0,843.8 L168.5,852.0 L169.0,859.9 L169.5,867.7 L170.0,875.4 L170.5,882.8 L171.0,890.1 L171.5,897.1 L172.0,903.9 L172.5,910.4 L173.0,916.7 L173.5,922.7 L174.0,928.5 L174.5,934.0 L175.0,939.1 L175.5,944.0 L176.0,948.6 L176.5,953.0 L177.0,957.1 L177.5,961.0 L178.0,964.7 L178.5,968.1 L179.0,971.4 L179.5,974.5 L180.0,977.4 L180.5,980.2 L181.0,982.8 L181.5,985.2 L182.0,987.4 L182.5,989.6 L183.0,991.6 L183.5,993.4 L184.0,995.2 L184.5,996.8 L185.0,998.4 L185.5,999.9 L186.0,1001.2 L186.5,1002.5 L187.0,1003.8 L187.5,1004.9 L188.0,1006.1 L188.5,1007.1 L189.0,1008.1 L189.5,1009.1 L190.0,1010.0 L192.0,1013.4 L194.0,1016.3 L196.0,1019.0 L198.0,1021.5 L200.0,1023.8 L202.0,1026.1 L204.0,1028.3 L206.0,1030.4 L208.0,1032.5 L210.0,1034.6 L212.0,1036.7 L214.0,1038.7 L216.0,1040.7 L218.0,1042.7 L220.0,1044.7 L222.0,1046.7 L224.0,1048.7 L226.0,1050.6 L228.0,1052.6 L230.0,1054.5 L232.0,1056.5 L234.0,1058.4 L236.0,1060.3 L238.0,1062.3 L240.0,1064.2 L242.0,1066.1 L244.0,1068.1 L246.0,1070.0 L248.0,1071.9 L250.0,1073.8 L252.0,1075.8 L254.0,1077.7 L256.0,1079.6 L258.0,1081.5 L260.0,1083.4 L262.0,1085.2 L264.0,1087.1 L266.0,1089.0 L268.0,1090.9 L270.0,1092.7 L272.0,1094.6 L274.0,1096.4 L276.0,1098.3 L278.0,1100.1 L280.0,1101.9 L282.0,1103.8 L284.0,1105.6 L286.0,1107.4 L288.0,1109.2 L290.0,1111.0 L292.0,1112.8 L294.0,1114.6 L296.0,1116.4 L298.0,1118.1 L300.0,1119.9 L302.0,1121.7 L304.0,1123.4 L306.0,1125.2 L308.0,1126.9 L310.0,1128.7 L312.0,1130.4 L314.0,1132.2 L316.0,1133.9 L318.0,1135.6 L320.0,1137.4 L322.0,1139.1 L324.0,1140.8 L326.0,1142.5 L328.0,1144.3 L330.0,1146.0 L332.0,1147.7 L334.0,1149.4 L336.0,1151.1 L338.0,1152.8 L340.0,1154.5 L342.0,1156.2 L344.0,1157.9 L346.0,1159.6 L348.0,1161.3 L350.0,1163.0 L352.0,1164.7 L354.0,1166.3 L356.0,1168.0 L358.0,1169.7 L360.0,1171.4 L362.0,1173.0 L364.0,1174.7 L366.0,1176.4 L368.0,1178.0 L370.0,1179.7 L372.0,1181.4 L374.0,1183.0 L376.0,1184.7 L378.0,1186.3 L380.0,1188.0 L382.0,1189.6 L384.0,1191.2 L386.0,1192.9 L388.0,1194.5 L390.0,1196.2 L392.0,1197.8 L394.0,1199.4 L396.0,1201.0 L398.0,1202.7 L400.0,1204.3 L402.0,1205.9 L404.0,1207.5 L406.0,1209.1 L408.0,1210.8 L410.0,1212.4 L412.0,1214.0 L414.0,1215.6 L416.0,1217.2 L418.0,1218.8 L420.0,1220.4 L422.0,1222.0 L424.0,1223.6 L426.0,1225.1 L426.8,1225.8" fill="none" stroke="#c2c2c2" stroke-width="2.2" stroke-dasharray="2.4,10" stroke-dashoffset="1.7" stroke-linejoin="round" stroke-linecap="round"/>
<path d="M159.7,1047.7 L162.0,743.7 L162.5,747.5 L163.0,756.0 L163.5,764.5 L164.0,772.9 L164.5,781.3 L165.0,789.6 L165.5,797.9 L166.0,806.1 L166.5,814.1 L167.0,822.1 L167.5,830.0 L168.0,837.8 L168.5,845.4 L169.0,852.9 L169.5,860.2 L170.0,867.4 L170.5,874.4 L171.0,881.3 L171.5,887.9 L172.0,894.3 L172.5,900.6 L173.0,906.6 L173.5,912.3 L174.0,917.9 L174.5,923.1 L175.0,928.2 L175.5,933.0 L176.0,937.5 L176.5,941.8 L177.0,945.8 L177.5,949.7 L178.0,953.4 L178.5,956.8 L179.0,960.1 L179.5,963.1 L180.0,966.0 L180.5,968.7 L181.0,971.3 L181.5,973.6 L182.0,975.9 L182.5,978.0 L183.0,979.9 L183.5,981.8 L184.0,983.5 L184.5,985.1 L185.0,986.7 L185.5,988.1 L186.0,989.4 L186.5,990.7 L187.0,991.9 L187.5,993.1 L188.0,994.2 L188.5,995.2 L189.0,996.2 L189.5,997.1 L190.0,998.0 L192.0,1001.3 L194.0,1004.1 L196.0,1006.7 L198.0,1009.1 L200.0,1011.4 L202.0,1013.6 L204.0,1015.8 L206.0,1017.9 L208.0,1019.9 L210.0,1022.0 L212.0,1024.0 L214.0,1026.0 L216.0,1028.0 L218.0,1029.9 L220.0,1031.9 L222.0,1033.8 L224.0,1035.8 L226.0,1037.7 L228.0,1039.6 L230.0,1041.5 L232.0,1043.4 L234.0,1045.3 L236.0,1047.2 L238.0,1049.1 L240.0,1051.0 L242.0,1052.9 L244.0,1054.7 L246.0,1056.6 L248.0,1058.5 L250.0,1060.3 L252.0,1062.2 L254.0,1064.0 L256.0,1065.9 L258.0,1067.7 L260.0,1069.5 L262.0,1071.4 L264.0,1073.2 L266.0,1075.0 L268.0,1076.8 L270.0,1078.6 L272.0,1080.4 L274.0,1082.2 L276.0,1083.9 L278.0,1085.7 L280.0,1087.5 L282.0,1089.3 L284.0,1091.0 L286.0,1092.8 L288.0,1094.5 L290.0,1096.3 L292.0,1098.0 L294.0,1099.8 L296.0,1101.5 L298.0,1103.3 L300.0,1105.0 L302.0,1106.8 L304.0,1108.5 L306.0,1110.2 L308.0,1111.9 L310.0,1113.7 L312.0,1115.4 L314.0,1117.1 L316.0,1118.8 L318.0,1120.5 L320.0,1122.2 L322.0,1124.0 L324.0,1125.7 L326.0,1127.4 L328.0,1129.1 L330.0,1130.8 L332.0,1132.4 L334.0,1134.1 L336.0,1135.8 L338.0,1137.5 L340.0,1139.2 L342.0,1140.9 L344.0,1142.6 L346.0,1144.2 L348.0,1145.9 L350.0,1147.6 L352.0,1149.3 L354.0,1150.9 L356.0,1152.6 L358.0,1154.3 L360.0,1155.9 L362.0,1157.6 L364.0,1159.2 L366.0,1160.9 L368.0,1162.6 L370.0,1164.2 L372.0,1165.9 L374.0,1167.5 L376.0,1169.2 L378.0,1170.8 L380.0,1172.5 L382.0,1174.1 L384.0,1175.7 L386.0,1177.4 L388.0,1179.0 L390.0,1180.7 L392.0,1182.3 L394.0,1183.9 L396.0,1185.6 L398.0,1187.2 L400.0,1188.8 L402.0,1190.5 L404.0,1192.1 L406.0,1193.7 L408.0,1195.4 L410.0,1197.0 L412.0,1198.6 L414.0,1200.2 L416.0,1201.8 L418.0,1203.5 L420.0,1205.1 L422.0,1206.7 L424.0,1208.3 L426.0,1209.9 L428.0,1211.6 L430.0,1213.2 L432.0,1214.8 L434.0,1216.4 L436.0,1218.0 L438.0,1219.6 L440.0,1221.2 L442.0,1222.8 L444.0,1224.4 L445.7,1225.8" fill="none" stroke="#c2c2c2" stroke-width="2.2" stroke-dasharray="2.4,10" stroke-dashoffset="6.4" stroke-linejoin="round" stroke-linecap="round"/>
<path d="M159.7,1047.7 L162.0,743.7 L162.5,746.2 L163.0,753.3 L163.5,760.4 L164.0,767.3 L164.5,774.2 L165.0,781.1 L165.5,787.8 L166.0,794.5 L166.5,801.0 L167.0,807.5 L167.5,813.9 L168.0,820.2 L168.5,826.4 L169.0,832.4 L169.5,838.4 L170.0,844.3 L170.5,850.0 L171.0,855.6 L171.5,861.1 L172.0,866.4 L172.5,871.6 L173.0,876.7 L173.5,881.6 L174.0,886.4 L174.5,891.0 L175.0,895.5 L175.5,899.9 L176.0,904.1 L176.5,908.1 L177.0,911.9 L177.5,915.5 L178.0,918.9 L178.5,922.1 L179.0,925.1 L179.5,928.0 L180.0,930.6 L180.5,933.1 L181.0,935.4 L181.5,937.5 L182.0,939.5 L182.5,941.4 L183.0,943.2 L183.5,944.8 L184.0,946.3 L184.5,947.7 L185.0,949.0 L185.5,950.2 L186.0,951.4 L186.5,952.4 L187.0,953.4 L187.5,954.4 L188.0,955.2 L188.5,956.1 L189.0,956.9 L189.5,957.6 L190.0,958.3 L192.0,960.8 L194.0,962.9 L196.0,964.8 L198.0,966.6 L200.0,968.2 L202.0,969.8 L204.0,971.4 L206.0,972.9 L208.0,974.4 L210.0,975.9 L212.0,977.4 L214.0,979.0 L216.0,980.5 L218.0,982.0 L220.0,983.6 L222.0,985.1 L224.0,986.7 L226.0,988.2 L228.0,989.8 L230.0,991.3 L232.0,992.9 L234.0,994.5 L236.0,996.1 L238.0,997.7 L240.0,999.3 L242.0,1000.8 L244.0,1002.4 L246.0,1004.0 L248.0,1005.6 L250.0,1007.2 L252.0,1008.8 L254.0,1010.4 L256.0,1012.0 L258.0,1013.6 L260.0,1015.2 L262.0,1016.8 L264.0,1018.3 L266.0,1019.9 L268.0,1021.5 L270.0,1023.1 L272.0,1024.6 L274.0,1026.2 L276.0,1027.7 L278.0,1029.3 L280.0,1030.8 L282.0,1032.4 L284.0,1033.9 L286.0,1035.4 L288.0,1036.9 L290.0,1038.4 L292.0,1039.9 L294.0,1041.4 L296.0,1042.8 L298.0,1044.3 L300.0,1045.7 L302.0,1047.1 L304.0,1048.6 L306.0,1050.0 L308.0,1051.3 L310.0,1052.7 L312.0,1054.1 L314.0,1055.4 L316.0,1056.8 L318.0,1058.2 L320.0,1059.5 L322.0,1060.8 L324.0,1062.2 L326.0,1063.5 L328.0,1064.8 L330.0,1066.2 L332.0,1067.5 L334.0,1068.8 L336.0,1070.1 L338.0,1071.4 L340.0,1072.7 L342.0,1074.1 L344.0,1075.4 L346.0,1076.7 L348.0,1078.0 L350.0,1079.3 L352.0,1080.6 L354.0,1081.9 L356.0,1083.2 L358.0,1084.5 L360.0,1085.8 L362.0,1087.1 L364.0,1088.4 L366.0,1089.7 L368.0,1091.0 L370.0,1092.3 L372.0,1093.6 L374.0,1094.9 L376.0,1096.2 L378.0,1097.5 L380.0,1098.8 L382.0,1100.1 L384.0,1101.4 L386.0,1102.7 L388.0,1104.1 L390.0,1105.4 L392.0,1106.7 L394.0,1108.1 L396.0,1109.4 L398.0,1110.7 L400.0,1112.1 L402.0,1113.4 L404.0,1114.8 L406.0,1116.1 L408.0,1117.5 L410.0,1118.9 L412.0,1120.3 L414.0,1121.6 L416.0,1123.0 L418.0,1124.4 L420.0,1125.8 L422.0,1127.2 L424.0,1128.7 L426.0,1130.1 L428.0,1131.5 L430.0,1132.9 L432.0,1134.4 L434.0,1135.8 L436.0,1137.2 L438.0,1138.7 L440.0,1140.1 L442.0,1141.5 L444.0,1142.9 L446.0,1144.4 L448.0,1145.8 L450.0,1147.2 L452.0,1148.6 L454.0,1150.1 L456.0,1151.5 L458.0,1152.9 L460.0,1154.3 L462.0,1155.8 L464.0,1157.2 L466.0,1158.6 L468.0,1160.0 L470.0,1161.5 L472.0,1162.9 L474.0,1164.3 L476.0,1165.7 L478.0,1167.2 L480.0,1168.6 L482.0,1170.0 L484.0,1171.5 L486.0,1172.9 L488.0,1174.3 L490.0,1175.8 L492.0,1177.2 L494.0,1178.6 L496.0,1180.1 L498.0,1181.5 L500.0,1183.0 L502.0,1184.4 L504.0,1185.9 L506.0,1187.3 L508.0,1188.8 L510.0,1190.2 L512.0,1191.7 L514.0,1193.1 L516.0,1194.6 L518.0,1196.0 L520.0,1197.5 L522.0,1199.0 L524.0,1200.4 L526.0,1201.9 L528.0,1203.4 L530.0,1204.8 L532.0,1206.3 L534.0,1207.8 L536.0,1209.3 L538.0,1210.8 L540.0,1212.2 L542.0,1213.7 L544.0,1215.2 L546.0,1216.7 L548.0,1218.2 L550.0,1219.7 L552.0,1221.2 L554.0,1222.7 L556.0,1224.2 L558.0,1225.7 L558.1,1225.8" fill="none" stroke="#c2c2c2" stroke-width="2.2" stroke-dasharray="2.4,10" stroke-dashoffset="11.1" stroke-linejoin="round" stroke-linecap="round"/>
<path d="M159.7,1047.7 L162.0,743.7 L162.5,746.5 L163.0,753.9 L163.5,761.3 L164.0,768.6 L164.5,775.8 L165.0,782.9 L165.5,790.0 L166.0,797.0 L166.5,803.9 L167.0,810.7 L167.5,817.4 L168.0,824.0 L168.5,830.5 L169.0,836.9 L169.5,843.2 L170.0,849.4 L170.5,855.4 L171.0,861.3 L171.5,867.0 L172.0,872.6 L172.5,878.0 L173.0,883.3 L173.5,888.4 L174.0,893.4 L174.5,898.1 L175.0,902.8 L175.5,907.2 L176.0,911.5 L176.5,915.6 L177.0,919.5 L177.5,923.1 L178.0,926.6 L178.5,929.9 L179.0,933.0 L179.5,935.8 L180.0,938.5 L180.5,941.1 L181.0,943.4 L181.5,945.6 L182.0,947.7 L182.5,949.6 L183.0,951.4 L183.5,953.1 L184.0,954.7 L184.5,956.1 L185.0,957.5 L185.5,958.7 L186.0,959.9 L186.5,961.1 L187.0,962.1 L187.5,963.1 L188.0,964.0 L188.5,964.9 L189.0,965.7 L189.5,966.5 L190.0,967.3 L192.0,970.0 L194.0,972.3 L196.0,974.3 L198.0,976.2 L200.0,978.0 L202.0,979.7 L204.0,981.4 L206.0,983.1 L208.0,984.7 L210.0,986.3 L212.0,987.9 L214.0,989.6 L216.0,991.2 L218.0,992.8 L220.0,994.4 L222.0,996.0 L224.0,997.7 L226.0,999.3 L228.0,1000.9 L230.0,1002.6 L232.0,1004.2 L234.0,1005.8 L236.0,1007.5 L238.0,1009.1 L240.0,1010.7 L242.0,1012.4 L244.0,1014.0 L246.0,1015.7 L248.0,1017.3 L250.0,1019.0 L252.0,1020.6 L254.0,1022.2 L256.0,1023.9 L258.0,1025.5 L260.0,1027.2 L262.0,1028.8 L264.0,1030.5 L266.0,1032.1 L268.0,1033.8 L270.0,1035.4 L272.0,1037.0 L274.0,1038.7 L276.0,1040.3 L278.0,1042.0 L280.0,1043.6 L282.0,1045.2 L284.0,1046.9 L286.0,1048.5 L288.0,1050.1 L290.0,1051.7 L292.0,1053.4 L294.0,1055.0 L296.0,1056.6 L298.0,1058.2 L300.0,1059.8 L302.0,1061.4 L304.0,1063.0 L306.0,1064.6 L308.0,1066.2 L310.0,1067.8 L312.0,1069.4 L314.0,1070.9 L316.0,1072.5 L318.0,1074.1 L320.0,1075.7 L322.0,1077.3 L324.0,1078.8 L326.0,1080.4 L328.0,1082.0 L330.0,1083.5 L332.0,1085.1 L334.0,1086.6 L336.0,1088.2 L338.0,1089.8 L340.0,1091.3 L342.0,1092.9 L344.0,1094.4 L346.0,1096.0 L348.0,1097.5 L350.0,1099.1 L352.0,1100.6 L354.0,1102.2 L356.0,1103.7 L358.0,1105.3 L360.0,1106.8 L362.0,1108.4 L364.0,1109.9 L366.0,1111.5 L368.0,1113.0 L370.0,1114.6 L372.0,1116.1 L374.0,1117.7 L376.0,1119.2 L378.0,1120.8 L380.0,1122.3 L382.0,1123.9 L384.0,1125.4 L386.0,1127.0 L388.0,1128.5 L390.0,1130.1 L392.0,1131.6 L394.0,1133.2 L396.0,1134.7 L398.0,1136.3 L400.0,1137.9 L402.0,1139.4 L404.0,1141.0 L406.0,1142.6 L408.0,1144.1 L410.0,1145.7 L412.0,1147.3 L414.0,1148.8 L416.0,1150.4 L418.0,1152.0 L420.0,1153.6 L422.0,1155.1 L424.0,1156.7 L426.0,1158.3 L428.0,1159.9 L430.0,1161.5 L432.0,1163.1 L434.0,1164.7 L436.0,1166.3 L438.0,1167.9 L440.0,1169.6 L442.0,1171.2 L444.0,1172.8 L446.0,1174.4 L448.0,1176.1 L450.0,1177.7 L452.0,1179.4 L454.0,1181.0 L456.0,1182.7 L458.0,1184.3 L460.0,1186.0 L462.0,1187.6 L464.0,1189.3 L466.0,1191.0 L468.0,1192.6 L470.0,1194.3 L472.0,1196.0 L474.0,1197.7 L476.0,1199.3 L478.0,1201.0 L480.0,1202.7 L482.0,1204.4 L484.0,1206.1 L486.0,1207.8 L488.0,1209.5 L490.0,1211.2 L492.0,1212.9 L494.0,1214.6 L496.0,1216.3 L498.0,1218.0 L500.0,1219.7 L502.0,1221.4 L504.0,1223.2 L506.0,1224.9 L507.1,1225.8" fill="none" stroke="#c2c2c2" stroke-width="2.2" stroke-dasharray="2.4,10" stroke-dashoffset="3.4" stroke-linejoin="round" stroke-linecap="round"/>
<path d="M159.7,1047.7 L162.0,743.7 L162.5,746.8 L163.0,754.5 L163.5,762.2 L164.0,769.8 L164.5,777.3 L165.0,784.8 L165.5,792.2 L166.0,799.5 L166.5,806.8 L167.0,813.9 L167.5,821.0 L168.0,827.9 L168.5,834.7 L169.0,841.4 L169.5,848.0 L170.0,854.5 L170.5,860.8 L171.0,866.9 L171.5,872.9 L172.0,878.7 L172.5,884.4 L173.0,889.9 L173.5,895.2 L174.0,900.3 L174.5,905.3 L175.0,910.0 L175.5,914.6 L176.0,918.9 L176.5,923.1 L177.0,927.0 L177.5,930.8 L178.0,934.3 L178.5,937.6 L179.0,940.8 L179.5,943.7 L180.0,946.5 L180.5,949.1 L181.0,951.5 L181.5,953.8 L182.0,955.9 L182.5,957.9 L183.0,959.7 L183.5,961.4 L184.0,963.1 L184.5,964.6 L185.0,966.0 L185.5,967.3 L186.0,968.6 L186.5,969.8 L187.0,970.9 L187.5,971.9 L188.0,972.9 L188.5,973.8 L189.0,974.7 L189.5,975.6 L190.0,976.4 L192.0,979.3 L194.0,981.8 L196.0,984.0 L198.0,986.1 L200.0,988.1 L202.0,990.0 L204.0,991.9 L206.0,993.7 L208.0,995.5 L210.0,997.3 L212.0,999.0 L214.0,1000.8 L216.0,1002.6 L218.0,1004.3 L220.0,1006.1 L222.0,1007.9 L224.0,1009.6 L226.0,1011.4 L228.0,1013.1 L230.0,1014.9 L232.0,1016.6 L234.0,1018.4 L236.0,1020.1 L238.0,1021.8 L240.0,1023.6 L242.0,1025.3 L244.0,1027.1 L246.0,1028.8 L248.0,1030.5 L250.0,1032.2 L252.0,1034.0 L254.0,1035.7 L256.0,1037.4 L258.0,1039.1 L260.0,1040.8 L262.0,1042.6 L264.0,1044.3 L266.0,1046.0 L268.0,1047.7 L270.0,1049.4 L272.0,1051.1 L274.0,1052.8 L276.0,1054.5 L278.0,1056.1 L280.0,1057.8 L282.0,1059.5 L284.0,1061.2 L286.0,1062.9 L288.0,1064.5 L290.0,1066.2 L292.0,1067.9 L294.0,1069.5 L296.0,1071.2 L298.0,1072.8 L300.0,1074.5 L302.0,1076.1 L304.0,1077.8 L306.0,1079.4 L308.0,1081.0 L310.0,1082.7 L312.0,1084.3 L314.0,1085.9 L316.0,1087.5 L318.0,1089.2 L320.0,1090.8 L322.0,1092.4 L324.0,1094.0 L326.0,1095.6 L328.0,1097.2 L330.0,1098.8 L332.0,1100.4 L334.0,1102.0 L336.0,1103.6 L338.0,1105.2 L340.0,1106.8 L342.0,1108.4 L344.0,1110.0 L346.0,1111.6 L348.0,1113.1 L350.0,1114.7 L352.0,1116.3 L354.0,1117.9 L356.0,1119.5 L358.0,1121.1 L360.0,1122.6 L362.0,1124.2 L364.0,1125.8 L366.0,1127.4 L368.0,1128.9 L370.0,1130.5 L372.0,1132.1 L374.0,1133.7 L376.0,1135.2 L378.0,1136.8 L380.0,1138.4 L382.0,1140.0 L384.0,1141.5 L386.0,1143.1 L388.0,1144.7 L390.0,1146.3 L392.0,1147.8 L394.0,1149.4 L396.0,1151.0 L398.0,1152.5 L400.0,1154.1 L402.0,1155.7 L404.0,1157.3 L406.0,1158.8 L408.0,1160.4 L410.0,1162.0 L412.0,1163.6 L414.0,1165.2 L416.0,1166.7 L418.0,1168.3 L420.0,1169.9 L422.0,1171.5 L424.0,1173.2 L426.0,1174.9 L428.0,1176.6 L430.0,1178.4 L432.0,1180.2 L434.0,1182.1 L436.0,1183.9 L438.0,1185.9 L440.0,1187.8 L442.0,1189.8 L444.0,1191.8 L446.0,1193.8 L448.0,1195.9 L450.0,1198.0 L452.0,1200.1 L454.0,1202.2 L456.0,1204.3 L458.0,1206.4 L460.0,1208.6 L462.0,1210.7 L464.0,1212.9 L466.0,1215.0 L468.0,1217.2 L470.0,1219.3 L472.0,1221.5 L474.0,1223.6 L476.0,1225.8 L476.0,1225.8" fill="none" stroke="#c2c2c2" stroke-width="2.2" stroke-dasharray="2.4,10" stroke-dashoffset="8.1" stroke-linejoin="round" stroke-linecap="round"/>
<path d="M159.7,1047.7 L162.0,743.7 L162.5,747.0 L163.0,755.0 L163.5,762.9 L164.0,770.8 L164.5,778.6 L165.0,786.3 L165.5,794.0 L166.0,801.5 L166.5,809.0 L167.0,816.4 L167.5,823.8 L168.0,830.9 L168.5,838.0 L169.0,845.0 L169.5,851.8 L170.0,858.5 L170.5,865.0 L171.0,871.4 L171.5,877.6 L172.0,883.6 L172.5,889.5 L173.0,895.1 L173.5,900.6 L174.0,905.9 L174.5,910.9 L175.0,915.8 L175.5,920.4 L176.0,924.9 L176.5,929.1 L177.0,933.1 L177.5,936.9 L178.0,940.5 L178.5,943.9 L179.0,947.1 L179.5,950.1 L180.0,952.9 L180.5,955.6 L181.0,958.1 L181.5,960.4 L182.0,962.6 L182.5,964.6 L183.0,966.5 L183.5,968.3 L184.0,970.0 L184.5,971.6 L185.0,973.0 L185.5,974.4 L186.0,975.7 L186.5,977.0 L187.0,978.1 L187.5,979.2 L188.0,980.3 L188.5,981.3 L189.0,982.2 L189.5,983.1 L190.0,984.0 L192.0,987.1 L194.0,989.8 L196.0,992.2 L198.0,994.5 L200.0,996.7 L202.0,998.8 L204.0,1000.8 L206.0,1002.8 L208.0,1004.7 L210.0,1006.7 L212.0,1008.6 L214.0,1010.5 L216.0,1012.4 L218.0,1014.3 L220.0,1016.2 L222.0,1018.1 L224.0,1020.0 L226.0,1021.9 L228.0,1023.7 L230.0,1025.6 L232.0,1027.5 L234.0,1029.3 L236.0,1031.1 L238.0,1033.0 L240.0,1034.8 L242.0,1036.6 L244.0,1038.5 L246.0,1040.3 L248.0,1042.1 L250.0,1043.9 L252.0,1045.7 L254.0,1047.5 L256.0,1049.3 L258.0,1051.1 L260.0,1052.9 L262.0,1054.6 L264.0,1056.4 L266.0,1058.2 L268.0,1059.9 L270.0,1061.7 L272.0,1063.5 L274.0,1065.2 L276.0,1067.0 L278.0,1068.7 L280.0,1070.4 L282.0,1072.2 L284.0,1073.9 L286.0,1075.6 L288.0,1077.4 L290.0,1079.1 L292.0,1080.8 L294.0,1082.5 L296.0,1084.2 L298.0,1085.9 L300.0,1087.6 L302.0,1089.3 L304.0,1091.0 L306.0,1092.7 L308.0,1094.4 L310.0,1096.1 L312.0,1097.8 L314.0,1099.5 L316.0,1101.2 L318.0,1102.8 L320.0,1104.5 L322.0,1106.2 L324.0,1107.9 L326.0,1109.5 L328.0,1111.2 L330.0,1112.9 L332.0,1114.5 L334.0,1116.2 L336.0,1117.9 L338.0,1119.5 L340.0,1121.2 L342.0,1122.8 L344.0,1124.5 L346.0,1126.1 L348.0,1127.8 L350.0,1129.5 L352.0,1131.1 L354.0,1132.8 L356.0,1134.4 L358.0,1136.1 L360.0,1137.7 L362.0,1139.4 L364.0,1141.0 L366.0,1142.6 L368.0,1144.3 L370.0,1145.9 L372.0,1147.6 L374.0,1149.2 L376.0,1150.9 L378.0,1152.5 L380.0,1154.2 L382.0,1155.8 L384.0,1157.4 L386.0,1159.1 L388.0,1160.7 L390.0,1162.4 L392.0,1164.0 L394.0,1165.6 L396.0,1167.3 L398.0,1168.9 L400.0,1170.6 L402.0,1172.2 L404.0,1173.8 L406.0,1175.5 L408.0,1177.1 L410.0,1178.8 L412.0,1180.4 L414.0,1182.1 L416.0,1183.7 L418.0,1185.3 L420.0,1187.0 L422.0,1188.7 L424.0,1190.5 L426.0,1192.3 L428.0,1194.3 L430.0,1196.3 L432.0,1198.4 L434.0,1200.5 L436.0,1202.7 L438.0,1204.9 L440.0,1207.2 L442.0,1209.5 L444.0,1211.8 L446.0,1214.1 L448.0,1216.5 L450.0,1218.8 L452.0,1221.1 L454.0,1223.4 L456.0,1225.7 L456.1,1225.8" fill="none" stroke="#c2c2c2" stroke-width="2.2" stroke-dasharray="2.4,10" stroke-dashoffset="0.4" stroke-linejoin="round" stroke-linecap="round"/>
<path d="M159.7,1047.7 L162.0,743.7 L162.5,747.5 L163.0,756.0 L163.5,764.4 L164.0,772.8 L164.5,781.1 L165.0,789.4 L165.5,797.7 L166.0,805.8 L166.5,813.9 L167.0,821.8 L167.5,829.7 L168.0,837.5 L168.5,845.1 L169.0,852.6 L169.5,859.9 L170.0,867.1 L170.5,874.1 L171.0,881.0 L171.5,887.6 L172.0,894.1 L172.5,900.3 L173.0,906.3 L173.5,912.1 L174.0,917.7 L174.5,923.0 L175.0,928.1 L175.5,932.9 L176.0,937.5 L176.5,941.8 L177.0,945.9 L177.5,949.9 L178.0,953.6 L178.5,957.1 L179.0,960.4 L179.5,963.5 L180.0,966.4 L180.5,969.2 L181.0,971.8 L181.5,974.2 L182.0,976.5 L182.5,978.7 L183.0,980.7 L183.5,982.6 L184.0,984.4 L184.5,986.1 L185.0,987.6 L185.5,989.1 L186.0,990.5 L186.5,991.9 L187.0,993.1 L187.5,994.3 L188.0,995.5 L188.5,996.6 L189.0,997.6 L189.5,998.6 L190.0,999.6 L192.0,1003.1 L194.0,1006.2 L196.0,1009.1 L198.0,1011.7 L200.0,1014.3 L202.0,1016.8 L204.0,1019.2 L206.0,1021.5 L208.0,1023.9 L210.0,1026.2 L212.0,1028.5 L214.0,1030.7 L216.0,1033.0 L218.0,1035.2 L220.0,1037.5 L222.0,1039.7 L224.0,1041.9 L226.0,1044.1 L228.0,1046.3 L230.0,1048.4 L232.0,1050.6 L234.0,1052.7 L236.0,1054.9 L238.0,1057.0 L240.0,1059.1 L242.0,1061.3 L244.0,1063.4 L246.0,1065.5 L248.0,1067.5 L250.0,1069.6 L252.0,1071.7 L254.0,1073.7 L256.0,1075.8 L258.0,1077.8 L260.0,1079.8 L262.0,1081.8 L264.0,1083.9 L266.0,1085.9 L268.0,1087.9 L270.0,1089.8 L272.0,1091.8 L274.0,1093.8 L276.0,1095.7 L278.0,1097.7 L280.0,1099.6 L282.0,1101.6 L284.0,1103.5 L286.0,1105.4 L288.0,1107.3 L290.0,1109.2 L292.0,1111.1 L294.0,1113.0 L296.0,1114.9 L298.0,1116.8 L300.0,1118.6 L302.0,1120.5 L304.0,1122.3 L306.0,1124.2 L308.0,1126.0 L310.0,1127.8 L312.0,1129.7 L314.0,1131.5 L316.0,1133.3 L318.0,1135.1 L320.0,1136.9 L322.0,1138.7 L324.0,1140.5 L326.0,1142.3 L328.0,1144.0 L330.0,1145.8 L332.0,1147.6 L334.0,1149.3 L336.0,1151.1 L338.0,1152.8 L340.0,1154.6 L342.0,1156.3 L344.0,1158.0 L346.0,1159.8 L348.0,1161.5 L350.0,1163.2 L352.0,1164.9 L354.0,1166.6 L356.0,1168.3 L358.0,1170.0 L360.0,1171.7 L362.0,1173.4 L364.0,1175.0 L366.0,1176.7 L368.0,1178.4 L370.0,1180.0 L372.0,1181.7 L374.0,1183.4 L376.0,1185.0 L378.0,1186.7 L380.0,1188.3 L382.0,1189.9 L384.0,1191.6 L386.0,1193.2 L388.0,1194.8 L390.0,1196.5 L392.0,1198.1 L394.0,1199.7 L396.0,1201.3 L398.0,1202.9 L400.0,1204.5 L402.0,1206.1 L404.0,1207.7 L406.0,1209.3 L408.0,1211.1 L410.0,1212.9 L412.0,1214.6 L414.0,1216.4 L416.0,1218.2 L418.0,1220.0 L420.0,1221.8 L422.0,1223.5 L424.0,1225.3 L424.6,1225.8" fill="none" stroke="#c2c2c2" stroke-width="3.5" stroke-dasharray="1,12" stroke-linejoin="round" stroke-linecap="round"/>
<path d="M162.0,743.7 L162.5,747.0 L163.0,755.1 L163.5,763.1 L164.0,771.0 L164.5,778.9 L165.0,786.7 L165.5,794.4 L166.0,802.1 L166.5,809.6 L167.0,817.1 L167.5,824.5 L168.0,831.8 L168.5,838.9 L169.0,845.9 L169.5,852.8 L170.0,859.6 L170.5,866.1 L171.0,872.6 L171.5,878.8 L172.0,884.9 L172.5,890.8 L173.0,896.5 L173.5,902.0 L174.0,907.3 L174.5,912.4 L175.0,917.2 L175.5,921.9 L176.0,926.3 L176.5,930.6 L177.0,934.6 L177.5,938.4 L178.0,942.0 L178.5,945.4 L179.0,948.6 L179.5,951.6 L180.0,954.4 L180.5,957.1 L181.0,959.5 L181.5,961.9 L182.0,964.1 L182.5,966.1 L183.0,968.0" fill="none" stroke="#000" stroke-width="4.5" stroke-dasharray="13,17" stroke-dashoffset="-8" stroke-linejoin="round" stroke-linecap="round"/>
<path d="M183.0,968.0 L183.5,969.8 L184.0,971.5 L184.5,973.1 L185.0,974.5 L185.5,975.9 L186.0,977.2 L186.5,978.5 L187.0,979.6 L187.5,980.7 L188.0,981.8 L188.5,982.7 L189.0,983.7 L189.5,984.6 L190.0,985.4 L192.0,988.5 L194.0,991.3 L196.0,993.7 L198.0,996.0 L200.0,998.2 L202.0,1000.2 L204.0,1002.3 L206.0,1004.3 L208.0,1006.2 L210.0,1008.2 L212.0,1010.1 L214.0,1012.0 L216.0,1013.9 L218.0,1015.8 L220.0,1017.7 L222.0,1019.6 L224.0,1021.5 L226.0,1023.4 L228.0,1025.2 L230.0,1027.1 L232.0,1028.9 L234.0,1030.8 L236.0,1032.6 L238.0,1034.5 L240.0,1036.3 L242.0,1038.1 L244.0,1040.0 L246.0,1041.8 L248.0,1043.6 L250.0,1045.4 L252.0,1047.2 L254.0,1049.0 L256.0,1050.8 L258.0,1052.6 L260.0,1054.3 L262.0,1056.1 L264.0,1057.9 L266.0,1059.7 L268.0,1061.4 L270.0,1063.2 L272.0,1064.9 L274.0,1066.7 L276.0,1068.4 L278.0,1070.2 L280.0,1071.9 L282.0,1073.7 L284.0,1075.4 L286.0,1077.1 L288.0,1078.8 L290.0,1080.6 L292.0,1082.3 L294.0,1084.0 L296.0,1085.7 L298.0,1087.4 L300.0,1089.1 L302.0,1090.8 L304.0,1092.5 L306.0,1094.2 L308.0,1095.9 L310.0,1097.6 L312.0,1099.3 L314.0,1101.0 L316.0,1102.6 L318.0,1104.3 L320.0,1106.0 L322.0,1107.6 L324.0,1109.3 L326.0,1111.0 L328.0,1112.6 L330.0,1114.3 L332.0,1116.0 L334.0,1117.6 L336.0,1119.3 L338.0,1120.9 L340.0,1122.6 L342.0,1124.2 L344.0,1125.9 L346.0,1127.5 L348.0,1129.1 L350.0,1130.8 L352.0,1132.4 L354.0,1134.0 L356.0,1135.7 L358.0,1137.3 L360.0,1138.9 L362.0,1140.5 L364.0,1142.2 L366.0,1143.8 L368.0,1145.4 L370.0,1147.0 L372.0,1148.6 L374.0,1150.3 L376.0,1151.9 L378.0,1153.5 L380.0,1155.1 L382.0,1156.7 L384.0,1158.3 L386.0,1159.9 L388.0,1161.5 L390.0,1163.1 L392.0,1164.7 L394.0,1166.3 L396.0,1167.9 L398.0,1169.5 L400.0,1171.1 L402.0,1172.7 L404.0,1174.3 L406.0,1175.9 L408.0,1177.5 L410.0,1179.1 L412.0,1180.6 L414.0,1182.2 L416.0,1183.8 L418.0,1185.4 L420.0,1187.0 L422.0,1188.6 L424.0,1190.1 L426.0,1191.7 L428.0,1193.3 L430.0,1194.9 L432.0,1196.5 L434.0,1198.0 L436.0,1199.6 L438.0,1201.2 L440.0,1202.8 L442.0,1204.3 L444.0,1205.9 L446.0,1207.5 L448.0,1209.1 L450.0,1210.6 L452.0,1212.2 L454.0,1213.8 L456.0,1215.3 L458.0,1216.9 L460.0,1218.5 L462.0,1220.0" fill="none" stroke="#000" stroke-width="4.5" stroke-dasharray="6,18" stroke-linejoin="round" stroke-linecap="round"/>
<path d="M159.70,1047.72 L162.00,739.29" fill="none" stroke="#000" stroke-width="4.5" stroke-linecap="round"/>
<path d="M162.0,739.3 L162.5,739.3 L163.0,743.5 L163.5,749.8 L164.0,756.0 L164.5,762.1 L165.0,768.2 L165.5,774.2 L166.0,780.1 L166.5,786.0 L167.0,791.7 L167.5,797.4 L168.0,803.0 L168.5,808.5 L169.0,813.9 L169.5,819.1 L170.0,824.3 L170.5,829.3 L171.0,834.2 L171.5,839.0 L172.0,843.7 L172.5,848.2 L173.0,852.6 L173.5,856.8 L174.0,860.9 L174.5,864.9 L175.0,868.7 L175.5,872.4 L176.0,875.9 L176.5,879.3 L177.0,882.5 L177.5,885.6 L178.0,888.6 L178.5,891.4 L179.0,894.1 L179.5,896.6 L180.0,899.1 L180.5,901.4 L181.0,903.6 L181.5,905.6 L182.0,907.6 L182.5,909.5 L183.0,911.2 L183.5,912.9 L184.0,914.5 L184.5,916.0 L185.0,917.4 L185.5,918.8 L186.0,920.0 L186.5,921.3 L187.0,922.4 L187.5,923.5 L188.0,924.5 L188.5,925.5 L189.0,926.5 L189.5,927.4 L190.0,928.2 L192.0,931.3 L194.0,934.0 L196.0,936.4 L198.0,938.5 L200.0,940.4 L202.0,942.3 L204.0,944.0 L206.0,945.7 L208.0,947.4 L210.0,949.0 L212.0,950.6 L214.0,952.2 L216.0,953.7 L218.0,955.3 L220.0,956.8 L222.0,958.4 L224.0,959.9 L226.0,961.4 L228.0,962.9 L230.0,964.4 L232.0,966.0 L234.0,967.5 L236.0,969.0 L238.0,970.5 L240.0,972.0 L242.0,973.5 L244.0,974.9 L246.0,976.4 L248.0,977.9 L250.0,979.4 L252.0,980.9 L254.0,982.3 L256.0,983.8 L258.0,985.3 L260.0,986.7 L262.0,988.2 L264.0,989.6 L266.0,991.1 L268.0,992.5 L270.0,993.9 L272.0,995.4 L274.0,996.8 L276.0,998.2 L278.0,999.7 L280.0,1001.1 L282.0,1002.5 L284.0,1003.9 L286.0,1005.3 L288.0,1006.7 L290.0,1008.1 L292.0,1009.5 L294.0,1010.9 L296.0,1012.3 L298.0,1013.7 L300.0,1015.0 L302.0,1016.4 L304.0,1017.8 L306.0,1019.2 L308.0,1020.5 L310.0,1021.9 L312.0,1023.2 L314.0,1024.6 L316.0,1025.9 L318.0,1027.3 L320.0,1028.6 L322.0,1030.0 L324.0,1031.3 L326.0,1032.6 L328.0,1033.9 L330.0,1035.3 L332.0,1036.6 L334.0,1037.9 L336.0,1039.2 L338.0,1040.5 L340.0,1041.8 L342.0,1043.1 L344.0,1044.4 L346.0,1045.7 L348.0,1047.0 L350.0,1048.3 L352.0,1049.6 L354.0,1050.8 L356.0,1052.1 L358.0,1053.4 L360.0,1054.6 L362.0,1055.9 L364.0,1057.2 L366.0,1058.4 L368.0,1059.7 L370.0,1060.9 L372.0,1062.1 L374.0,1063.4 L376.0,1064.6 L378.0,1065.9 L380.0,1067.1 L382.0,1068.3 L384.0,1069.5 L386.0,1070.7 L388.0,1072.0 L390.0,1073.2 L392.0,1074.4 L394.0,1075.6 L396.0,1076.8 L398.0,1078.0 L400.0,1079.2 L402.0,1080.4 L404.0,1081.6 L406.0,1082.7 L408.0,1083.9 L410.0,1085.1 L412.0,1086.3 L414.0,1087.4 L416.0,1088.6 L418.0,1089.8 L420.0,1090.9 L422.0,1092.1 L424.0,1093.3 L426.0,1094.4 L428.0,1095.6 L430.0,1096.7 L432.0,1097.9 L434.0,1099.0 L436.0,1100.1 L438.0,1101.3 L440.0,1102.4 L442.0,1103.5 L444.0,1104.6 L446.0,1105.8 L448.0,1106.9 L450.0,1108.0 L452.0,1109.1 L454.0,1110.2 L456.0,1111.3 L458.0,1112.4 L460.0,1113.5 L462.0,1114.6 L464.0,1115.7 L466.0,1116.8 L468.0,1117.9 L470.0,1119.0 L472.0,1120.1 L474.0,1121.2 L476.0,1122.3 L478.0,1123.4 L480.0,1124.4 L482.0,1125.5 L484.0,1126.6 L486.0,1127.6 L488.0,1128.7 L490.0,1129.8 L492.0,1130.8 L494.0,1131.9 L496.0,1133.0 L498.0,1134.0 L500.0,1135.1 L502.0,1136.1 L504.0,1137.2 L506.0,1138.2 L508.0,1139.3 L510.0,1140.3 L512.0,1141.3 L514.0,1142.4 L516.0,1143.4 L518.0,1144.4 L520.0,1145.5 L522.0,1146.5 L524.0,1147.5 L526.0,1148.5 L528.0,1149.6 L530.0,1150.6 L532.0,1151.6 L534.0,1152.6 L536.0,1153.6 L538.0,1154.7 L540.0,1155.7 L542.0,1156.7 L544.0,1157.7 L546.0,1158.7 L548.0,1159.7 L550.0,1160.7 L552.0,1161.7 L554.0,1162.7 L556.0,1163.7 L558.0,1164.7 L560.0,1165.7 L562.0,1166.7 L564.0,1167.7 L566.0,1168.6 L568.0,1169.6 L570.0,1170.6 L572.0,1171.6 L574.0,1172.6 L576.0,1173.6 L578.0,1174.5 L580.0,1175.5 L582.0,1176.5 L584.0,1177.5 L586.0,1178.4 L588.0,1179.4 L590.0,1180.4 L592.0,1181.3 L594.0,1182.3 L596.0,1183.3 L598.0,1184.2 L600.0,1185.2 L602.0,1186.2 L604.0,1187.1 L606.0,1188.1 L608.0,1189.0 L610.0,1190.0 L612.0,1190.9 L614.0,1191.9 L616.0,1192.9 L618.0,1193.8 L620.0,1194.8 L622.0,1195.7 L624.0,1196.7 L626.0,1197.6 L628.0,1198.5 L630.0,1199.5 L632.0,1200.4 L634.0,1201.4 L636.0,1202.3 L638.0,1203.3" fill="none" stroke="#000" stroke-width="5.0" stroke-linejoin="round" stroke-linecap="round"/>
<line x1="110.3" y1="7.4" x2="110.3" y2="556.2" stroke="#000" stroke-width="3.1"/>
<line x1="99.3" y1="554.7" x2="641.2" y2="554.7" stroke="#000" stroke-width="3.1"/>
<line x1="99.3" y1="41.700000000000045" x2="110.3" y2="41.700000000000045" stroke="#000" stroke-width="3.1"/>
<line x1="99.3" y1="212.70000000000005" x2="110.3" y2="212.70000000000005" stroke="#000" stroke-width="3.1"/>
<line x1="99.3" y1="383.70000000000005" x2="110.3" y2="383.70000000000005" stroke="#000" stroke-width="3.1"/>
<line x1="99.3" y1="554.7" x2="110.3" y2="554.7" stroke="#000" stroke-width="3.1"/>
<line x1="110.3" y1="554.7" x2="110.3" y2="567.2" stroke="#000" stroke-width="3.1"/>
<line x1="184.89999999999998" y1="554.7" x2="184.89999999999998" y2="567.2" stroke="#000" stroke-width="3.1"/>
<line x1="259.5" y1="554.7" x2="259.5" y2="567.2" stroke="#000" stroke-width="3.1"/>
<line x1="334.1" y1="554.7" x2="334.1" y2="567.2" stroke="#000" stroke-width="3.1"/>
<line x1="408.7" y1="554.7" x2="408.7" y2="567.2" stroke="#000" stroke-width="3.1"/>
<line x1="483.3" y1="554.7" x2="483.3" y2="567.2" stroke="#000" stroke-width="3.1"/>
<line x1="557.9" y1="554.7" x2="557.9" y2="567.2" stroke="#000" stroke-width="3.1"/>
<line x1="632.5" y1="554.7" x2="632.5" y2="567.2" stroke="#000" stroke-width="3.1"/>
<path d="M39.19,47.30 L37.52,47.30 L37.52,36.66 Q36.92,37.23 35.94,37.81 Q34.95,38.38 34.18,38.67 L34.18,37.06 Q35.58,36.40 36.62,35.46 Q37.67,34.53 38.11,33.64 L39.19,33.64 Z" fill="#000"/>
<text x="42.68" y="47.30" font-size="19" font-family="Liberation Sans, sans-serif">00000</text>
<path d="M49.76,218.30 L48.09,218.30 L48.09,207.66 Q47.49,208.23 46.50,208.81 Q45.52,209.38 44.74,209.67 L44.74,208.06 Q46.14,207.40 47.19,206.46 Q48.24,205.53 48.67,204.64 L49.76,204.64 Z" fill="#000"/>
<text x="53.24" y="218.30" font-size="19" font-family="Liberation Sans, sans-serif">0000</text>
<path d="M60.32,389.30 L58.65,389.30 L58.65,378.66 Q58.05,379.23 57.07,379.81 Q56.08,380.38 55.30,380.67 L55.30,379.06 Q56.70,378.40 57.75,377.46 Q58.80,376.53 59.24,375.64 L60.32,375.64 Z" fill="#000"/>
<text x="63.81" y="389.30" font-size="19" font-family="Liberation Sans, sans-serif">000</text>
<path d="M70.89,560.30 L69.22,560.30 L69.22,549.66 Q68.61,550.23 67.63,550.81 Q66.65,551.38 65.87,551.67 L65.87,550.06 Q67.27,549.40 68.32,548.46 Q69.37,547.53 69.80,546.64 L70.89,546.64 Z" fill="#000"/>
<text x="74.37" y="560.30" font-size="19" font-family="Liberation Sans, sans-serif">00</text>
<text x="105.42" y="593.30" font-size="19" font-family="Liberation Sans, sans-serif">0</text>
<text x="173.04" y="593.30" font-size="19" font-family="Liberation Sans, sans-serif">48</text>
<text x="248.94" y="593.30" font-size="19" font-family="Liberation Sans, sans-serif">96</text>
<path d="M325.33,593.30 L323.66,593.30 L323.66,582.66 Q323.06,583.23 322.08,583.81 Q321.09,584.38 320.31,584.67 L320.31,583.06 Q321.71,582.40 322.76,581.46 Q323.81,580.53 324.25,579.64 L325.33,579.64 Z" fill="#000"/>
<text x="328.82" y="593.30" font-size="19" font-family="Liberation Sans, sans-serif">44</text>
<path d="M396.93,593.30 L395.26,593.30 L395.26,582.66 Q394.66,583.23 393.68,583.81 Q392.69,584.38 391.91,584.67 L391.91,583.06 Q393.31,582.40 394.36,581.46 Q395.41,580.53 395.85,579.64 L396.93,579.64 Z" fill="#000"/>
<text x="400.42" y="593.30" font-size="19" font-family="Liberation Sans, sans-serif">92</text>
<text x="464.45" y="593.30" font-size="19" font-family="Liberation Sans, sans-serif">240</text>
<text x="539.55" y="593.30" font-size="19" font-family="Liberation Sans, sans-serif">288</text>
<text x="613.95" y="593.30" font-size="19" font-family="Liberation Sans, sans-serif">336</text>
<line x1="110.0" y1="678.7" x2="110.0" y2="1227.3" stroke="#000" stroke-width="3.1"/>
<line x1="99.0" y1="1225.8" x2="641.5" y2="1225.8" stroke="#000" stroke-width="3.1"/>
<line x1="99.0" y1="712.8" x2="110.0" y2="712.8" stroke="#000" stroke-width="3.1"/>
<line x1="99.0" y1="883.8" x2="110.0" y2="883.8" stroke="#000" stroke-width="3.1"/>
<line x1="99.0" y1="1054.8" x2="110.0" y2="1054.8" stroke="#000" stroke-width="3.1"/>
<line x1="99.0" y1="1225.8" x2="110.0" y2="1225.8" stroke="#000" stroke-width="3.1"/>
<line x1="110.0" y1="1225.8" x2="110.0" y2="1238.3" stroke="#000" stroke-width="3.1"/>
<line x1="206.0" y1="1225.8" x2="206.0" y2="1238.3" stroke="#000" stroke-width="3.1"/>
<line x1="302.0" y1="1225.8" x2="302.0" y2="1238.3" stroke="#000" stroke-width="3.1"/>
<line x1="398.0" y1="1225.8" x2="398.0" y2="1238.3" stroke="#000" stroke-width="3.1"/>
<line x1="494.0" y1="1225.8" x2="494.0" y2="1238.3" stroke="#000" stroke-width="3.1"/>
<line x1="590.0" y1="1225.8" x2="590.0" y2="1238.3" stroke="#000" stroke-width="3.1"/>
<path d="M49.46,718.40 L47.79,718.40 L47.79,707.76 Q47.19,708.33 46.20,708.91 Q45.22,709.48 44.44,709.77 L44.44,708.16 Q45.84,707.50 46.89,706.56 Q47.94,705.63 48.37,704.74 L49.46,704.74 Z" fill="#000"/>
<text x="52.94" y="718.40" font-size="19" font-family="Liberation Sans, sans-serif">0000</text>
<path d="M60.02,889.40 L58.35,889.40 L58.35,878.76 Q57.75,879.33 56.77,879.91 Q55.78,880.48 55.00,880.77 L55.00,879.16 Q56.40,878.50 57.45,877.56 Q58.50,876.63 58.94,875.74 L60.02,875.74 Z" fill="#000"/>
<text x="63.51" y="889.40" font-size="19" font-family="Liberation Sans, sans-serif">000</text>
<path d="M70.59,1060.40 L68.92,1060.40 L68.92,1049.76 Q68.31,1050.33 67.33,1050.91 Q66.35,1051.48 65.57,1051.77 L65.57,1050.16 Q66.97,1049.50 68.02,1048.56 Q69.07,1047.63 69.50,1046.74 L70.59,1046.74 Z" fill="#000"/>
<text x="74.07" y="1060.40" font-size="19" font-family="Liberation Sans, sans-serif">00</text>
<path d="M81.15,1231.40 L79.48,1231.40 L79.48,1220.76 Q78.88,1221.33 77.89,1221.91 Q76.91,1222.48 76.13,1222.77 L76.13,1221.16 Q77.53,1220.50 78.58,1219.56 Q79.63,1218.63 80.07,1217.74 L81.15,1217.74 Z" fill="#000"/>
<text x="84.64" y="1231.40" font-size="19" font-family="Liberation Sans, sans-serif">0</text>
<path d="M101.63,1260.00 L99.96,1260.00 L99.96,1249.36 Q99.36,1249.93 98.38,1250.51 Q97.39,1251.08 96.61,1251.37 L96.61,1249.76 Q98.01,1249.10 99.06,1248.16 Q100.11,1247.23 100.55,1246.34 L101.63,1246.34 Z" fill="#000"/>
<text x="105.12" y="1260.00" font-size="19" font-family="Liberation Sans, sans-serif">92</text>
<text x="190.15" y="1260.00" font-size="19" font-family="Liberation Sans, sans-serif">240</text>
<text x="286.45" y="1260.00" font-size="19" font-family="Liberation Sans, sans-serif">288</text>
<text x="379.30" y="1260.00" font-size="19" font-family="Liberation Sans, sans-serif">336</text>
<text x="474.55" y="1260.00" font-size="19" font-family="Liberation Sans, sans-serif">384</text>
<text x="571.45" y="1260.00" font-size="19" font-family="Liberation Sans, sans-serif">432</text>
<text x="372.6" y="629.4" text-anchor="middle" font-size="22.4" font-weight="bold" font-family="Liberation Sans, sans-serif">Time (h)</text>
<text x="389.7" y="1295.7" text-anchor="middle" font-size="22.4" font-weight="bold" font-family="Liberation Sans, sans-serif">Time (h)</text>
<text transform="translate(19.3,296.3) rotate(-90)" text-anchor="middle" font-size="22.4" font-weight="bold" font-family="Liberation Sans, sans-serif">Systemic Concentration (ng/mL)</text>
<text transform="translate(19.3,967.4) rotate(-90)" text-anchor="middle" font-size="22.4" font-weight="bold" font-family="Liberation Sans, sans-serif">Systemic Concentration (ng/mL)</text>
<text x="0" y="27" font-size="30.5" font-weight="bold" font-family="Liberation Sans, sans-serif">a</text>
<text x="0.3" y="697" font-size="31" font-weight="bold" font-family="Liberation Sans, sans-serif">b</text>
</svg>
</body></html>
